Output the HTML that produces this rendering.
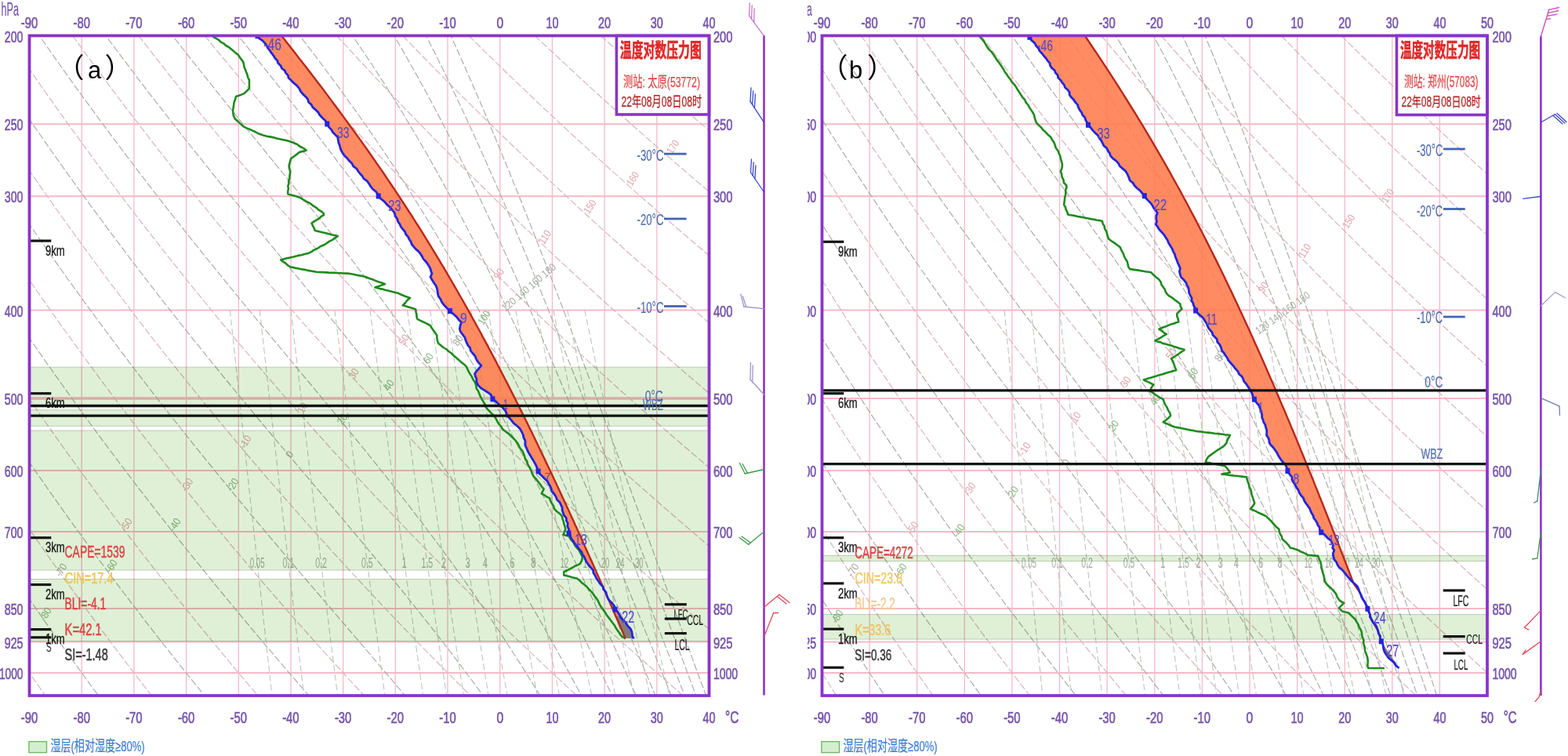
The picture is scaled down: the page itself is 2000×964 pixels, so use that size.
<!DOCTYPE html>
<html><head><meta charset="utf-8"><title>T-lnP</title><style>html,body{margin:0;padding:0;background:#fff;overflow:hidden;width:2000px;height:964px;}svg{display:block;}</style></head><body>
<svg width="2000" height="964" viewBox="0 0 2000 964" font-family='"Liberation Sans", "Noto Sans CJK SC", sans-serif'>
<rect width="2000" height="964" fill="#fff"/>
<clipPath id="clipA"><rect x="37.5" y="45.5" width="867.0" height="841.5"/></clipPath>
<g clip-path="url(#clipA)">
<line x1="104.2" y1="45.5" x2="104.2" y2="887.0" stroke="#f5b9c8" stroke-width="1.3"/>
<line x1="170.9" y1="45.5" x2="170.9" y2="887.0" stroke="#f5b9c8" stroke-width="1.3"/>
<line x1="237.6" y1="45.5" x2="237.6" y2="887.0" stroke="#f5b9c8" stroke-width="1.3"/>
<line x1="304.3" y1="45.5" x2="304.3" y2="887.0" stroke="#f5b9c8" stroke-width="1.3"/>
<line x1="371.0" y1="45.5" x2="371.0" y2="887.0" stroke="#f5b9c8" stroke-width="1.3"/>
<line x1="437.7" y1="45.5" x2="437.7" y2="887.0" stroke="#f5b9c8" stroke-width="1.3"/>
<line x1="504.3" y1="45.5" x2="504.3" y2="887.0" stroke="#f5b9c8" stroke-width="1.3"/>
<line x1="571.0" y1="45.5" x2="571.0" y2="887.0" stroke="#f5b9c8" stroke-width="1.3"/>
<line x1="637.7" y1="45.5" x2="637.7" y2="887.0" stroke="#f5b9c8" stroke-width="1.3"/>
<line x1="704.4" y1="45.5" x2="704.4" y2="887.0" stroke="#f5b9c8" stroke-width="1.3"/>
<line x1="771.1" y1="45.5" x2="771.1" y2="887.0" stroke="#f5b9c8" stroke-width="1.3"/>
<line x1="837.8" y1="45.5" x2="837.8" y2="887.0" stroke="#f5b9c8" stroke-width="1.3"/>
<line x1="37.5" y1="158.14" x2="904.5" y2="158.14" stroke="#f5b9c8" stroke-width="2.0"/>
<line x1="37.5" y1="250.18" x2="904.5" y2="250.18" stroke="#f5b9c8" stroke-width="2.0"/>
<line x1="37.5" y1="395.40" x2="904.5" y2="395.40" stroke="#f5b9c8" stroke-width="2.0"/>
<line x1="37.5" y1="508.04" x2="904.5" y2="508.04" stroke="#f5b9c8" stroke-width="3.6"/>
<line x1="37.5" y1="600.08" x2="904.5" y2="600.08" stroke="#f5b9c8" stroke-width="2.0"/>
<line x1="37.5" y1="677.89" x2="904.5" y2="677.89" stroke="#f5b9c8" stroke-width="2.0"/>
<line x1="37.5" y1="775.90" x2="904.5" y2="775.90" stroke="#f5b9c8" stroke-width="2.0"/>
<line x1="37.5" y1="818.59" x2="904.5" y2="818.59" stroke="#f5b9c8" stroke-width="2.0"/>
<line x1="37.5" y1="857.94" x2="904.5" y2="857.94" stroke="#f5b9c8" stroke-width="2.0"/>
<polyline points="-412.7,45.5 -400.4,73.5 -387.9,101.6 -375.1,129.7 -362.2,157.7 -349.0,185.7 -335.7,213.8 -322.1,241.8 -308.3,269.9 -294.3,297.9 -280.0,326.0 -265.6,354.0 -250.9,382.1 -236.0,410.2 -220.8,438.2 -205.4,466.2 -189.7,494.3 -173.8,522.3 -157.6,550.4 -141.2,578.5 -124.5,606.5 -107.6,634.5 -90.3,662.6 -72.8,690.7 -55.1,718.7 -37.0,746.7 -18.6,774.8 0.0,802.9 18.9,830.9 38.2,859.0 57.8,887.0" fill="none" stroke="#dcb4bc" stroke-width="1.2" stroke-dasharray="9,3"/>
<polyline points="-328.5,45.5 -314.8,73.5 -300.9,101.6 -286.8,129.7 -272.4,157.7 -257.8,185.7 -243.0,213.8 -228.0,241.8 -212.7,269.9 -197.1,297.9 -181.3,326.0 -165.3,354.0 -149.0,382.1 -132.4,410.2 -115.6,438.2 -98.5,466.2 -81.1,494.3 -63.5,522.3 -45.6,550.4 -27.3,578.5 -8.8,606.5 10.0,634.5 29.1,662.6 48.5,690.7 68.2,718.7 88.2,746.7 108.6,774.8 129.3,802.9 150.3,830.9 171.7,859.0 193.3,887.0" fill="none" stroke="#dcb4bc" stroke-width="1.2" stroke-dasharray="9,3"/>
<polyline points="-244.3,45.5 -229.3,73.5 -214.0,101.6 -198.5,129.7 -182.7,157.7 -166.7,185.7 -150.4,213.8 -133.8,241.8 -117.0,269.9 -100.0,297.9 -82.6,326.0 -65.0,354.0 -47.1,382.1 -28.9,410.2 -10.4,438.2 8.4,466.2 27.4,494.3 46.8,522.3 66.5,550.4 86.5,578.5 106.9,606.5 127.5,634.5 148.5,662.6 169.8,690.7 191.5,718.7 213.5,746.7 235.9,774.8 258.6,802.9 281.7,830.9 305.1,859.0 328.9,887.0" fill="none" stroke="#dcb4bc" stroke-width="1.2" stroke-dasharray="9,3"/>
<polyline points="-160.1,45.5 -143.7,73.5 -127.0,101.6 -110.1,129.7 -92.9,157.7 -75.5,185.7 -57.8,213.8 -39.7,241.8 -21.4,269.9 -2.8,297.9 16.1,326.0 35.3,354.0 54.8,382.1 74.6,410.2 94.8,438.2 115.2,466.2 136.0,494.3 157.1,522.3 178.6,550.4 200.4,578.5 222.6,606.5 245.1,634.5 267.9,662.6 291.2,690.7 314.8,718.7 338.7,746.7 363.1,774.8 387.9,802.9 413.0,830.9 438.6,859.0 464.5,887.0" fill="none" stroke="#dcb4bc" stroke-width="1.2" stroke-dasharray="9,3"/>
<polyline points="-75.9,45.5 -58.1,73.5 -40.1,101.6 -21.8,129.7 -3.2,157.7 15.7,185.7 34.9,213.8 54.4,241.8 74.2,269.9 94.3,297.9 114.8,326.0 135.6,354.0 156.7,382.1 178.1,410.2 199.9,438.2 222.1,466.2 244.6,494.3 267.4,522.3 290.7,550.4 314.3,578.5 338.2,606.5 362.6,634.5 387.3,662.6 412.5,690.7 438.0,718.7 464.0,746.7 490.4,774.8 517.2,802.9 544.4,830.9 572.0,859.0 600.1,887.0" fill="none" stroke="#dcb4bc" stroke-width="1.2" stroke-dasharray="9,3"/>
<polyline points="8.4,45.5 27.4,73.5 46.8,101.6 66.5,129.7 86.5,157.7 106.9,185.7 127.5,213.8 148.5,241.8 169.8,269.9 191.5,297.9 213.5,326.0 235.9,354.0 258.6,382.1 281.7,410.2 305.1,438.2 328.9,466.2 353.2,494.3 377.8,522.3 402.7,550.4 428.1,578.5 453.9,606.5 480.1,634.5 506.8,662.6 533.8,690.7 561.3,718.7 589.2,746.7 617.6,774.8 646.4,802.9 675.7,830.9 705.5,859.0 735.7,887.0" fill="none" stroke="#dcb4bc" stroke-width="1.2" stroke-dasharray="9,3"/>
<polyline points="92.6,45.5 113.0,73.5 133.8,101.6 154.8,129.7 176.3,157.7 198.0,185.7 220.2,213.8 242.6,241.8 265.5,269.9 288.6,297.9 312.2,326.0 336.2,354.0 360.5,382.1 385.2,410.2 410.3,438.2 435.8,466.2 461.7,494.3 488.1,522.3 514.8,550.4 542.0,578.5 569.6,606.5 597.7,634.5 626.2,662.6 655.2,690.7 684.6,718.7 714.5,746.7 744.9,774.8 775.7,802.9 807.1,830.9 839.0,859.0 871.3,887.0" fill="none" stroke="#dcb4bc" stroke-width="1.2" stroke-dasharray="9,3"/>
<polyline points="176.8,45.5 198.6,73.5 220.7,101.6 243.2,129.7 266.0,157.7 289.2,185.7 312.8,213.8 336.7,241.8 361.1,269.9 385.8,297.9 410.9,326.0 436.4,354.0 462.4,382.1 488.7,410.2 515.5,438.2 542.7,466.2 570.3,494.3 598.4,522.3 626.9,550.4 655.9,578.5 685.3,606.5 715.2,634.5 745.6,662.6 776.5,690.7 807.9,718.7 839.7,746.7 872.1,774.8 905.0,802.9 938.5,830.9 972.4,859.0 1006.9,887.0" fill="none" stroke="#dcb4bc" stroke-width="1.2" stroke-dasharray="9,3"/>
<polyline points="261.0,45.5 284.1,73.5 307.6,101.6 331.5,129.7 355.8,157.7 380.4,185.7 405.4,213.8 430.9,241.8 456.7,269.9 483.0,297.9 509.6,326.0 536.7,354.0 564.3,382.1 592.2,410.2 620.7,438.2 649.5,466.2 678.9,494.3 708.7,522.3 739.0,550.4 769.7,578.5 801.0,606.5 832.8,634.5 865.0,662.6 897.8,690.7 931.1,718.7 965.0,746.7 999.4,774.8 1034.3,802.9 1069.8,830.9 1105.9,859.0 1142.5,887.0" fill="none" stroke="#dcb4bc" stroke-width="1.2" stroke-dasharray="9,3"/>
<polyline points="345.2,45.5 369.7,73.5 394.6,101.6 419.8,129.7 445.5,157.7 471.6,185.7 498.1,213.8 525.0,241.8 552.3,269.9 580.1,297.9 608.3,326.0 637.0,354.0 666.2,382.1 695.8,410.2 725.8,438.2 756.4,466.2 787.5,494.3 819.0,522.3 851.0,550.4 883.6,578.5 916.7,606.5 950.3,634.5 984.5,662.6 1019.2,690.7 1054.4,718.7 1090.2,746.7 1126.6,774.8 1163.6,802.9 1201.2,830.9 1239.3,859.0 1278.1,887.0" fill="none" stroke="#dcb4bc" stroke-width="1.2" stroke-dasharray="9,3"/>
<polyline points="429.5,45.5 455.3,73.5 481.5,101.6 508.2,129.7 535.2,157.7 562.7,185.7 590.7,213.8 619.1,241.8 647.9,269.9 677.3,297.9 707.0,326.0 737.3,354.0 768.0,382.1 799.3,410.2 831.0,438.2 863.3,466.2 896.0,494.3 929.3,522.3 963.1,550.4 997.5,578.5 1032.4,606.5 1067.9,634.5 1103.9,662.6 1140.5,690.7 1177.7,718.7 1215.5,746.7 1253.9,774.8 1292.9,802.9 1332.5,830.9 1372.8,859.0 1413.7,887.0" fill="none" stroke="#dcb4bc" stroke-width="1.2" stroke-dasharray="9,3"/>
<polyline points="513.7,45.5 540.8,73.5 568.4,101.6 596.5,129.7 625.0,157.7 653.9,185.7 683.3,213.8 713.2,241.8 743.6,269.9 774.4,297.9 805.8,326.0 837.6,354.0 869.9,382.1 902.8,410.2 936.2,438.2 970.1,466.2 1004.6,494.3 1039.6,522.3 1075.2,550.4 1111.4,578.5 1148.1,606.5 1185.4,634.5 1223.3,662.6 1261.8,690.7 1301.0,718.7 1340.7,746.7 1381.1,774.8 1422.2,802.9 1463.9,830.9 1506.3,859.0 1549.3,887.0" fill="none" stroke="#dcb4bc" stroke-width="1.2" stroke-dasharray="9,3"/>
<polyline points="597.9,45.5 626.4,73.5 655.4,101.6 684.8,129.7 714.7,157.7 745.1,185.7 776.0,213.8 807.3,241.8 839.2,269.9 871.6,297.9 904.5,326.0 937.9,354.0 971.8,382.1 1006.3,410.2 1041.4,438.2 1077.0,466.2 1113.2,494.3 1149.9,522.3 1187.3,550.4 1225.2,578.5 1263.8,606.5 1302.9,634.5 1342.7,662.6 1383.2,690.7 1424.3,718.7 1466.0,746.7 1508.4,774.8 1551.5,802.9 1595.2,830.9 1639.7,859.0 1684.9,887.0" fill="none" stroke="#dcb4bc" stroke-width="1.2" stroke-dasharray="9,3"/>
<polyline points="682.1,45.5 712.0,73.5 742.3,101.6 773.1,129.7 804.5,157.7 836.3,185.7 868.6,213.8 901.4,241.8 934.8,269.9 968.7,297.9 1003.2,326.0 1038.2,354.0 1073.7,382.1 1109.9,410.2 1146.6,438.2 1183.9,466.2 1221.7,494.3 1260.2,522.3 1299.4,550.4 1339.1,578.5 1379.5,606.5 1420.5,634.5 1462.2,662.6 1504.5,690.7 1547.5,718.7 1591.2,746.7 1635.6,774.8 1680.8,802.9 1726.6,830.9 1773.2,859.0 1820.5,887.0" fill="none" stroke="#dcb4bc" stroke-width="1.2" stroke-dasharray="9,3"/>
<polyline points="766.3,45.5 797.5,73.5 829.2,101.6 861.5,129.7 894.2,157.7 927.5,185.7 961.2,213.8 995.6,241.8 1030.4,269.9 1065.9,297.9 1101.9,326.0 1138.5,354.0 1175.6,382.1 1213.4,410.2 1251.7,438.2 1290.7,466.2 1330.3,494.3 1370.6,522.3 1411.4,550.4 1453.0,578.5 1495.2,606.5 1538.0,634.5 1581.6,662.6 1625.8,690.7 1670.8,718.7 1716.5,746.7 1762.9,774.8 1810.1,802.9 1858.0,830.9 1906.6,859.0 1956.1,887.0" fill="none" stroke="#dcb4bc" stroke-width="1.2" stroke-dasharray="9,3"/>
<polyline points="850.6,45.5 883.1,73.5 916.2,101.6 949.8,129.7 983.9,157.7 1018.6,185.7 1053.9,213.8 1089.7,241.8 1126.1,269.9 1163.0,297.9 1200.6,326.0 1238.7,354.0 1277.5,382.1 1316.9,410.2 1356.9,438.2 1397.6,466.2 1438.9,494.3 1480.9,522.3 1523.5,550.4 1566.8,578.5 1610.8,606.5 1655.6,634.5 1701.0,662.6 1747.2,690.7 1794.1,718.7 1841.7,746.7 1890.2,774.8 1939.3,802.9 1989.3,830.9 2040.1,859.0 2091.7,887.0" fill="none" stroke="#dcb4bc" stroke-width="1.2" stroke-dasharray="9,3"/>
<polyline points="-376.8,30.1 -367.5,50.5 -358.4,70.1 -349.6,89.0 -341.0,107.2 -332.6,124.8 -324.4,141.7 -316.4,158.1 -308.6,174.0 -300.9,189.5 -293.5,204.4 -286.1,218.9 -278.9,233.1 -271.9,246.8 -265.0,260.2 -258.2,273.2 -251.5,285.9 -245.0,298.3 -238.6,310.4 -232.2,322.2 -226.0,333.7 -219.9,345.0 -213.9,356.0 -207.9,366.8 -202.1,377.4 -196.3,387.8 -190.7,397.9 -185.1,407.9 -179.6,417.6 -174.1,427.2 -168.7,436.6 -163.4,445.8 -158.2,454.9 -153.0,463.8 -147.9,472.5 -142.9,481.1 -137.9,489.5 -133.0,497.8 -128.1,506.0 -123.3,514.1 -118.6,522.0 -113.9,529.8 -109.2,537.5 -104.6,545.0 -100.1,552.5 -95.6,559.8 -91.1,567.1 -86.7,574.2 -82.3,581.2 -78.0,588.2 -73.7,595.0 -69.5,601.8 -65.2,608.4 -61.1,615.0 -57.0,621.5 -52.9,627.9 -48.8,634.2 -44.8,640.5 -40.8,646.7 -36.9,652.8 -33.0,658.8 -29.1,664.7 -25.2,670.6 -21.4,676.5 -17.6,682.2 -13.9,687.9 -10.1,693.5 -6.4,699.1 -2.8,704.6 0.9,710.0 4.5,715.4 8.1,720.7 11.6,726.0 15.1,731.2 18.7,736.4 22.1,741.5 25.6,746.6 29.0,751.6 32.4,756.5 35.8,761.4 39.2,766.3 42.5,771.1 45.8,775.9 49.1,780.6 52.4,785.3 55.6,790.0 58.8,794.6 62.1,799.1 65.2,803.6 68.4,808.1 71.6,812.6 74.7,816.9 77.8,821.3 80.9,825.6 83.9,829.9 87.0,834.2 90.0,838.4 93.0,842.6 96.0,846.7 99.0,850.8 102.0,854.9 104.9,859.0 107.8,863.0 110.8,866.9 113.7,870.9 116.5,874.8 119.4,878.7 122.3,882.6 125.1,886.4 127.9,890.2" fill="none" stroke="#a9b0a6" stroke-width="1.2" stroke-dasharray="9,3"/>
<polyline points="-293.3,30.1 -283.0,50.5 -272.9,70.1 -263.2,89.0 -253.7,107.2 -244.5,124.8 -235.4,141.7 -226.6,158.1 -218.0,174.0 -209.5,189.5 -201.3,204.4 -193.2,218.9 -185.3,233.1 -177.5,246.8 -169.9,260.2 -162.4,273.2 -155.0,285.9 -147.8,298.3 -140.7,310.4 -133.7,322.2 -126.9,333.7 -120.1,345.0 -113.5,356.0 -106.9,366.8 -100.5,377.4 -94.1,387.8 -87.8,397.9 -81.7,407.9 -75.6,417.6 -69.6,427.2 -63.6,436.6 -57.8,445.8 -52.0,454.9 -46.3,463.8 -40.7,472.5 -35.1,481.1 -29.6,489.5 -24.2,497.8 -18.8,506.0 -13.5,514.1 -8.3,522.0 -3.1,529.8 2.0,537.5 7.1,545.0 12.1,552.5 17.1,559.8 22.0,567.1 26.9,574.2 31.7,581.2 36.5,588.2 41.2,595.0 45.9,601.8 50.6,608.4 55.2,615.0 59.7,621.5 64.2,627.9 68.7,634.2 73.1,640.5 77.5,646.7 81.9,652.8 86.2,658.8 90.5,664.7 94.7,670.6 98.9,676.5 103.1,682.2 107.3,687.9 111.4,693.5 115.4,699.1 119.5,704.6 123.5,710.0 127.5,715.4 131.4,720.7 135.4,726.0 139.3,731.2 143.1,736.4 147.0,741.5 150.8,746.6 154.5,751.6 158.3,756.5 162.0,761.4 165.7,766.3 169.4,771.1 173.1,775.9 176.7,780.6 180.3,785.3 183.9,790.0 187.4,794.6 191.0,799.1 194.5,803.6 198.0,808.1 201.4,812.6 204.9,816.9 208.3,821.3 211.7,825.6 215.1,829.9 218.4,834.2 221.8,838.4 225.1,842.6 228.4,846.7 231.7,850.8 234.9,854.9 238.2,859.0 241.4,863.0 244.6,866.9 247.8,870.9 251.0,874.8 254.1,878.7 257.2,882.6 260.4,886.4 263.5,890.2" fill="none" stroke="#a9b0a6" stroke-width="1.2" stroke-dasharray="9,3"/>
<polyline points="-209.8,30.1 -198.6,50.5 -187.6,70.1 -176.9,89.0 -166.6,107.2 -156.4,124.8 -146.6,141.7 -136.9,158.1 -127.5,174.0 -118.2,189.5 -109.2,204.4 -100.4,218.9 -91.7,233.1 -83.2,246.8 -74.8,260.2 -66.7,273.2 -58.6,285.9 -50.7,298.3 -43.0,310.4 -35.3,322.2 -27.8,333.7 -20.4,345.0 -13.2,356.0 -6.0,366.8 1.0,377.4 8.0,387.8 14.8,397.9 21.6,407.9 28.3,417.6 34.8,427.2 41.3,436.6 47.7,445.8 54.0,454.9 60.2,463.8 66.4,472.5 72.5,481.1 78.5,489.5 84.4,497.8 90.3,506.0 96.1,514.1 101.8,522.0 107.5,529.8 113.1,537.5 118.7,545.0 124.2,552.5 129.6,559.8 135.0,567.1 140.3,574.2 145.6,581.2 150.8,588.2 156.0,595.0 161.1,601.8 166.1,608.4 171.2,615.0 176.1,621.5 181.1,627.9 186.0,634.2 190.8,640.5 195.6,646.7 200.3,652.8 205.1,658.8 209.7,664.7 214.4,670.6 218.9,676.5 223.5,682.2 228.0,687.9 232.5,693.5 236.9,699.1 241.3,704.6 245.7,710.0 250.1,715.4 254.4,720.7 258.6,726.0 262.9,731.2 267.1,736.4 271.2,741.5 275.4,746.6 279.5,751.6 283.6,756.5 287.6,761.4 291.6,766.3 295.6,771.1 299.6,775.9 303.5,780.6 307.4,785.3 311.3,790.0 315.1,794.6 318.9,799.1 322.7,803.6 326.5,808.1 330.2,812.6 333.9,816.9 337.6,821.3 341.3,825.6 344.9,829.9 348.5,834.2 352.1,838.4 355.7,842.6 359.2,846.7 362.7,850.8 366.2,854.9 369.7,859.0 373.2,863.0 376.6,866.9 380.0,870.9 383.4,874.8 386.7,878.7 390.1,882.6 393.4,886.4 396.7,890.2" fill="none" stroke="#a9b0a6" stroke-width="1.2" stroke-dasharray="9,3"/>
<polyline points="-126.7,30.1 -114.5,50.5 -102.6,70.1 -91.0,89.0 -79.7,107.2 -68.7,124.8 -58.0,141.7 -47.5,158.1 -37.3,174.0 -27.3,189.5 -17.5,204.4 -7.9,218.9 1.5,233.1 10.8,246.8 19.8,260.2 28.7,273.2 37.4,285.9 46.0,298.3 54.4,310.4 62.7,322.2 70.8,333.7 78.8,345.0 86.7,356.0 94.5,366.8 102.2,377.4 109.7,387.8 117.1,397.9 124.4,407.9 131.7,417.6 138.8,427.2 145.8,436.6 152.7,445.8 159.6,454.9 166.3,463.8 173.0,472.5 179.6,481.1 186.1,489.5 192.5,497.8 198.9,506.0 205.2,514.1 211.4,522.0 217.5,529.8 223.6,537.5 229.6,545.0 235.5,552.5 241.4,559.8 247.2,567.1 252.9,574.2 258.6,581.2 264.2,588.2 269.8,595.0 275.3,601.8 280.8,608.4 286.2,615.0 291.5,621.5 296.8,627.9 302.0,634.2 307.2,640.5 312.3,646.7 317.4,652.8 322.5,658.8 327.4,664.7 332.4,670.6 337.3,676.5 342.1,682.2 346.9,687.9 351.7,693.5 356.4,699.1 361.0,704.6 365.7,710.0 370.2,715.4 374.8,720.7 379.3,726.0 383.7,731.2 388.1,736.4 392.5,741.5 396.8,746.6 401.1,751.6 405.4,756.5 409.6,761.4 413.7,766.3 417.9,771.1 422.0,775.9 426.0,780.6 430.0,785.3 434.0,790.0 438.0,794.6 441.9,799.1 445.7,803.6 449.6,808.1 453.4,812.6 457.2,816.9 460.9,821.3 464.6,825.6 468.2,829.9 471.9,834.2 475.5,838.4 479.0,842.6 482.6,846.7 486.1,850.8 489.5,854.9 493.0,859.0 496.4,863.0 499.8,866.9 503.1,870.9 506.4,874.8 509.7,878.7 513.0,882.6 516.2,886.4 519.4,890.2" fill="none" stroke="#a9b0a6" stroke-width="1.2" stroke-dasharray="9,3"/>
<polyline points="-43.8,30.1 -30.6,50.5 -17.8,70.1 -5.3,89.0 6.9,107.2 18.7,124.8 30.3,141.7 41.6,158.1 52.6,174.0 63.4,189.5 74.0,204.4 84.3,218.9 94.5,233.1 104.4,246.8 114.2,260.2 123.8,273.2 133.2,285.9 142.4,298.3 151.5,310.4 160.4,322.2 169.1,333.7 177.8,345.0 186.2,356.0 194.6,366.8 202.8,377.4 210.9,387.8 218.9,397.9 226.7,407.9 234.5,417.6 242.1,427.2 249.6,436.6 257.1,445.8 264.4,454.9 271.6,463.8 278.7,472.5 285.7,481.1 292.6,489.5 299.5,497.8 306.2,506.0 312.9,514.1 319.4,522.0 325.9,529.8 332.3,537.5 338.6,545.0 344.9,552.5 351.0,559.8 357.1,567.1 363.1,574.2 369.0,581.2 374.9,588.2 380.6,595.0 386.3,601.8 392.0,608.4 397.5,615.0 403.0,621.5 408.4,627.9 413.8,634.2 419.0,640.5 424.3,646.7 429.4,652.8 434.5,658.8 439.5,664.7 444.4,670.6 449.3,676.5 454.1,682.2 458.9,687.9 463.6,693.5 468.2,699.1 472.8,704.6 477.3,710.0 481.8,715.4 486.2,720.7 490.6,726.0 494.9,731.2 499.1,736.4 503.3,741.5 507.4,746.6 511.5,751.6 515.5,756.5 519.5,761.4 523.4,766.3 527.3,771.1 531.1,775.9 534.9,780.6 538.6,785.3 542.3,790.0 545.9,794.6 549.5,799.1 553.1,803.6 556.6,808.1 560.0,812.6 563.5,816.9 566.8,821.3 570.2,825.6 573.5,829.9 576.7,834.2 579.9,838.4 583.1,842.6 586.2,846.7 589.3,850.8 592.4,854.9 595.4,859.0 598.4,863.0 601.4,866.9 604.3,870.9 607.2,874.8 610.1,878.7 612.9,882.6 615.7,886.4 618.5,890.2" fill="none" stroke="#a9b0a6" stroke-width="1.2" stroke-dasharray="9,3"/>
<polyline points="39.5,30.1 53.7,50.5 67.4,70.1 80.8,89.0 93.8,107.2 106.6,124.8 119.0,141.7 131.1,158.1 142.9,174.0 154.5,189.5 165.8,204.4 176.8,218.9 187.7,233.1 198.3,246.8 208.7,260.2 218.9,273.2 229.0,285.9 238.8,298.3 248.4,310.4 257.9,322.2 267.2,333.7 276.3,345.0 285.3,356.0 294.1,366.8 302.8,377.4 311.3,387.8 319.6,397.9 327.8,407.9 335.9,417.6 343.9,427.2 351.7,436.6 359.3,445.8 366.9,454.9 374.3,463.8 381.5,472.5 388.7,481.1 395.7,489.5 402.6,497.8 409.4,506.0 416.1,514.1 422.7,522.0 429.1,529.8 435.4,537.5 441.7,545.0 447.8,552.5 453.8,559.8 459.7,567.1 465.5,574.2 471.2,581.2 476.8,588.2 482.3,595.0 487.7,601.8 493.0,608.4 498.2,615.0 503.3,621.5 508.4,627.9 513.3,634.2 518.2,640.5 523.0,646.7 527.7,652.8 532.3,658.8 536.9,664.7 541.3,670.6 545.7,676.5 550.0,682.2 554.3,687.9 558.5,693.5 562.6,699.1 566.6,704.6 570.6,710.0 574.5,715.4 578.4,720.7 582.2,726.0 585.9,731.2 589.6,736.4 593.2,741.5 596.8,746.6 600.3,751.6 603.8,756.5 607.2,761.4 610.5,766.3 613.9,771.1 617.1,775.9 620.3,780.6 623.5,785.3 626.7,790.0 629.7,794.6 632.8,799.1 635.8,803.6 638.8,808.1 641.7,812.6 644.6,816.9 647.4,821.3 650.2,825.6 653.0,829.9 655.7,834.2 658.4,838.4 661.1,842.6 663.8,846.7 666.4,850.8 668.9,854.9 671.5,859.0 674.0,863.0 676.5,866.9 679.0,870.9 681.4,874.8 683.8,878.7 686.2,882.6 688.6,886.4 690.9,890.2" fill="none" stroke="#a9b0a6" stroke-width="1.2" stroke-dasharray="9,3"/>
<polyline points="123.6,30.1 138.6,50.5 153.3,70.1 167.6,89.0 181.4,107.2 195.0,124.8 208.1,141.7 221.0,158.1 233.5,174.0 245.7,189.5 257.7,204.4 269.3,218.9 280.7,233.1 291.9,246.8 302.8,260.2 313.4,273.2 323.8,285.9 333.9,298.3 343.9,310.4 353.6,322.2 363.0,333.7 372.3,345.0 381.4,356.0 390.2,366.8 398.9,377.4 407.3,387.8 415.6,397.9 423.6,407.9 431.5,417.6 439.2,427.2 446.7,436.6 454.0,445.8 461.2,454.9 468.2,463.8 475.0,472.5 481.7,481.1 488.2,489.5 494.6,497.8 500.8,506.0 506.9,514.1 512.8,522.0 518.6,529.8 524.3,537.5 529.9,545.0 535.3,552.5 540.6,559.8 545.8,567.1 550.9,574.2 555.9,581.2 560.8,588.2 565.5,595.0 570.2,601.8 574.8,608.4 579.3,615.0 583.7,621.5 588.0,627.9 592.2,634.2 596.4,640.5 600.5,646.7 604.5,652.8 608.4,658.8 612.2,664.7 616.0,670.6 619.8,676.5 623.4,682.2 627.0,687.9 630.5,693.5 634.0,699.1 637.4,704.6 640.8,710.0 644.1,715.4 647.3,720.7 650.5,726.0 653.7,731.2 656.8,736.4 659.9,741.5 662.9,746.6 665.8,751.6 668.8,756.5 671.7,761.4 674.5,766.3 677.3,771.1 680.1,775.9 682.8,780.6 685.5,785.3 688.1,790.0 690.8,794.6 693.4,799.1 695.9,803.6 698.4,808.1 700.9,812.6 703.4,816.9 705.8,821.3 708.2,825.6 710.6,829.9 712.9,834.2 715.3,838.4 717.5,842.6 719.8,846.7 722.0,850.8 724.3,854.9 726.5,859.0 728.6,863.0 730.8,866.9 732.9,870.9 735.0,874.8 737.1,878.7 739.2,882.6 741.2,886.4 743.2,890.2" fill="none" stroke="#a9b0a6" stroke-width="1.2" stroke-dasharray="9,3"/>
<polyline points="208.0,30.1 224.0,50.5 239.4,70.1 254.4,89.0 268.9,107.2 283.0,124.8 296.7,141.7 309.9,158.1 322.8,174.0 335.3,189.5 347.5,204.4 359.3,218.9 370.7,233.1 381.8,246.8 392.5,260.2 402.9,273.2 413.0,285.9 422.8,298.3 432.3,310.4 441.6,322.2 450.5,333.7 459.1,345.0 467.5,356.0 475.7,366.8 483.5,377.4 491.2,387.8 498.6,397.9 505.8,407.9 512.8,417.6 519.6,427.2 526.2,436.6 532.7,445.8 538.9,454.9 545.0,463.8 550.9,472.5 556.6,481.1 562.2,489.5 567.7,497.8 573.0,506.0 578.2,514.1 583.3,522.0 588.2,529.8 593.0,537.5 597.7,545.0 602.3,552.5 606.8,559.8 611.2,567.1 615.5,574.2 619.8,581.2 623.9,588.2 627.9,595.0 631.9,601.8 635.8,608.4 639.6,615.0 643.3,621.5 647.0,627.9 650.6,634.2 654.1,640.5 657.6,646.7 661.0,652.8 664.3,658.8 667.6,664.7 670.9,670.6 674.1,676.5 677.2,682.2 680.3,687.9 683.3,693.5 686.3,699.1 689.2,704.6 692.1,710.0 695.0,715.4 697.8,720.7 700.6,726.0 703.3,731.2 706.0,736.4 708.6,741.5 711.3,746.6 713.8,751.6 716.4,756.5 718.9,761.4 721.4,766.3 723.9,771.1 726.3,775.9 728.7,780.6 731.0,785.3 733.4,790.0 735.7,794.6 737.9,799.1 740.2,803.6 742.4,808.1 744.6,812.6 746.8,816.9 749.0,821.3 751.1,825.6 753.2,829.9 755.3,834.2 757.3,838.4 759.4,842.6 761.4,846.7 763.4,850.8 765.4,854.9 767.3,859.0 769.3,863.0 771.2,866.9 773.1,870.9 775.0,874.8 776.8,878.7 778.7,882.6 780.5,886.4 782.3,890.2" fill="none" stroke="#a9b0a6" stroke-width="1.2" stroke-dasharray="9,3"/>
<polyline points="291.6,30.1 307.9,50.5 323.6,70.1 338.8,89.0 353.3,107.2 367.3,124.8 380.7,141.7 393.7,158.1 406.1,174.0 418.0,189.5 429.4,204.4 440.4,218.9 451.0,233.1 461.1,246.8 470.9,260.2 480.3,273.2 489.3,285.9 497.9,298.3 506.3,310.4 514.4,322.2 522.1,333.7 529.6,345.0 536.9,356.0 543.8,366.8 550.6,377.4 557.1,387.8 563.5,397.9 569.6,407.9 575.6,417.6 581.4,427.2 587.0,436.6 592.4,445.8 597.7,454.9 602.9,463.8 607.9,472.5 612.8,481.1 617.6,489.5 622.2,497.8 626.8,506.0 631.2,514.1 635.5,522.0 639.8,529.8 643.9,537.5 648.0,545.0 651.9,552.5 655.8,559.8 659.6,567.1 663.3,574.2 667.0,581.2 670.6,588.2 674.1,595.0 677.5,601.8 680.9,608.4 684.2,615.0 687.5,621.5 690.7,627.9 693.9,634.2 697.0,640.5 700.0,646.7 703.0,652.8 706.0,658.8 708.9,664.7 711.7,670.6 714.6,676.5 717.3,682.2 720.1,687.9 722.8,693.5 725.4,699.1 728.1,704.6 730.6,710.0 733.2,715.4 735.7,720.7 738.2,726.0 740.6,731.2 743.1,736.4 745.5,741.5 747.8,746.6 750.1,751.6 752.4,756.5 754.7,761.4 757.0,766.3 759.2,771.1 761.4,775.9 763.6,780.6 765.7,785.3 767.8,790.0 769.9,794.6 772.0,799.1 774.0,803.6 776.1,808.1 778.1,812.6 780.1,816.9 782.0,821.3 784.0,825.6 785.9,829.9 787.8,834.2 789.7,838.4 791.6,842.6 793.4,846.7 795.3,850.8 797.1,854.9 798.9,859.0 800.7,863.0 802.5,866.9 804.2,870.9 806.0,874.8 807.7,878.7 809.4,882.6 811.1,886.4 812.8,890.2" fill="none" stroke="#a9b0a6" stroke-width="1.2" stroke-dasharray="9,3"/>
<polyline points="370.5,30.1 386.2,50.5 401.2,70.1 415.4,89.0 428.9,107.2 441.7,124.8 453.9,141.7 465.5,158.1 476.5,174.0 487.0,189.5 497.1,204.4 506.6,218.9 515.7,233.1 524.5,246.8 532.9,260.2 540.9,273.2 548.6,285.9 556.0,298.3 563.1,310.4 570.0,322.2 576.6,333.7 583.0,345.0 589.2,356.0 595.2,366.8 601.0,377.4 606.6,387.8 612.0,397.9 617.3,407.9 622.4,417.6 627.4,427.2 632.3,436.6 637.0,445.8 641.6,454.9 646.1,463.8 650.5,472.5 654.8,481.1 659.0,489.5 663.0,497.8 667.0,506.0 670.9,514.1 674.8,522.0 678.5,529.8 682.2,537.5 685.8,545.0 689.3,552.5 692.8,559.8 696.2,567.1 699.5,574.2 702.8,581.2 706.0,588.2 709.1,595.0 712.2,601.8 715.3,608.4 718.3,615.0 721.2,621.5 724.1,627.9 727.0,634.2 729.8,640.5 732.6,646.7 735.3,652.8 738.0,658.8 740.7,664.7 743.3,670.6 745.8,676.5 748.4,682.2 750.9,687.9 753.4,693.5 755.8,699.1 758.2,704.6 760.6,710.0 762.9,715.4 765.3,720.7 767.6,726.0 769.8,731.2 772.1,736.4 774.3,741.5 776.4,746.6 778.6,751.6 780.7,756.5 782.8,761.4 784.9,766.3 787.0,771.1 789.0,775.9 791.1,780.6 793.1,785.3 795.0,790.0 797.0,794.6 798.9,799.1 800.8,803.6 802.7,808.1 804.6,812.6 806.5,816.9 808.3,821.3 810.1,825.6 812.0,829.9 813.7,834.2 815.5,838.4 817.3,842.6 819.0,846.7 820.7,850.8 822.5,854.9 824.2,859.0 825.8,863.0 827.5,866.9 829.2,870.9 830.8,874.8 832.4,878.7 834.0,882.6 835.6,886.4 837.2,890.2" fill="none" stroke="#a9b0a6" stroke-width="1.2" stroke-dasharray="9,3"/>
<polyline points="438.9,30.1 453.0,50.5 466.2,70.1 478.7,89.0 490.5,107.2 501.6,124.8 512.1,141.7 522.0,158.1 531.5,174.0 540.5,189.5 549.0,204.4 557.2,218.9 565.0,233.1 572.5,246.8 579.7,260.2 586.6,273.2 593.3,285.9 599.7,298.3 605.9,310.4 611.9,322.2 617.6,333.7 623.2,345.0 628.7,356.0 633.9,366.8 639.0,377.4 644.0,387.8 648.8,397.9 653.5,407.9 658.0,417.6 662.5,427.2 666.8,436.6 671.1,445.8 675.2,454.9 679.2,463.8 683.2,472.5 687.0,481.1 690.8,489.5 694.5,497.8 698.1,506.0 701.7,514.1 705.2,522.0 708.6,529.8 711.9,537.5 715.2,545.0 718.5,552.5 721.6,559.8 724.7,567.1 727.8,574.2 730.8,581.2 733.8,588.2 736.7,595.0 739.6,601.8 742.4,608.4 745.2,615.0 747.9,621.5 750.6,627.9 753.2,634.2 755.9,640.5 758.4,646.7 761.0,652.8 763.5,658.8 766.0,664.7 768.4,670.6 770.8,676.5 773.2,682.2 775.6,687.9 777.9,693.5 780.2,699.1 782.4,704.6 784.7,710.0 786.9,715.4 789.1,720.7 791.2,726.0 793.3,731.2 795.4,736.4 797.5,741.5 799.6,746.6 801.6,751.6 803.6,756.5 805.6,761.4 807.6,766.3 809.6,771.1 811.5,775.9 813.4,780.6 815.3,785.3 817.2,790.0 819.0,794.6 820.9,799.1 822.7,803.6 824.5,808.1 826.3,812.6 828.1,816.9 829.8,821.3 831.6,825.6 833.3,829.9 835.0,834.2 836.7,838.4 838.3,842.6 840.0,846.7 841.7,850.8 843.3,854.9 844.9,859.0 846.5,863.0 848.1,866.9 849.7,870.9 851.3,874.8 852.8,878.7 854.4,882.6 855.9,886.4 857.4,890.2" fill="none" stroke="#a9b0a6" stroke-width="1.2" stroke-dasharray="9,3"/>
<polyline points="493.5,30.1 505.6,50.5 517.0,70.1 527.7,89.0 537.8,107.2 547.4,124.8 556.4,141.7 565.0,158.1 573.2,174.0 581.0,189.5 588.5,204.4 595.7,218.9 602.5,233.1 609.1,246.8 615.5,260.2 621.6,273.2 627.5,285.9 633.2,298.3 638.7,310.4 644.1,322.2 649.3,333.7 654.3,345.0 659.2,356.0 664.0,366.8 668.6,377.4 673.1,387.8 677.5,397.9 681.8,407.9 685.9,417.6 690.0,427.2 694.0,436.6 697.9,445.8 701.7,454.9 705.4,463.8 709.1,472.5 712.7,481.1 716.2,489.5 719.6,497.8 723.0,506.0 726.3,514.1 729.5,522.0 732.7,529.8 735.8,537.5 738.9,545.0 741.9,552.5 744.9,559.8 747.8,567.1 750.7,574.2 753.5,581.2 756.3,588.2 759.0,595.0 761.7,601.8 764.4,608.4 767.0,615.0 769.6,621.5 772.2,627.9 774.7,634.2 777.1,640.5 779.6,646.7 782.0,652.8 784.4,658.8 786.7,664.7 789.1,670.6 791.3,676.5 793.6,682.2 795.8,687.9 798.0,693.5 800.2,699.1 802.4,704.6 804.5,710.0 806.6,715.4 808.7,720.7 810.8,726.0 812.8,731.2 814.8,736.4 816.8,741.5 818.8,746.6 820.7,751.6 822.7,756.5 824.6,761.4 826.5,766.3 828.3,771.1 830.2,775.9 832.0,780.6 833.9,785.3 835.7,790.0 837.4,794.6 839.2,799.1 841.0,803.6 842.7,808.1 844.4,812.6 846.1,816.9 847.8,821.3 849.5,825.6 851.1,829.9 852.8,834.2 854.4,838.4 856.0,842.6 857.6,846.7 859.2,850.8 860.8,854.9 862.4,859.0 863.9,863.0 865.5,866.9 867.0,870.9 868.5,874.8 870.0,878.7 871.5,882.6 873.0,886.4 874.4,890.2" fill="none" stroke="#a9b0a6" stroke-width="1.2" stroke-dasharray="9,3"/>
<polyline points="535.4,30.1 546.0,50.5 555.9,70.1 565.2,89.0 574.1,107.2 582.5,124.8 590.5,141.7 598.1,158.1 605.4,174.0 612.4,189.5 619.1,204.4 625.5,218.9 631.7,233.1 637.7,246.8 643.5,260.2 649.1,273.2 654.5,285.9 659.7,298.3 664.8,310.4 669.7,322.2 674.5,333.7 679.1,345.0 683.6,356.0 688.0,366.8 692.3,377.4 696.5,387.8 700.6,397.9 704.6,407.9 708.5,417.6 712.3,427.2 716.0,436.6 719.7,445.8 723.3,454.9 726.8,463.8 730.2,472.5 733.6,481.1 736.9,489.5 740.1,497.8 743.3,506.0 746.4,514.1 749.5,522.0 752.5,529.8 755.5,537.5 758.4,545.0 761.3,552.5 764.1,559.8 766.9,567.1 769.6,574.2 772.3,581.2 775.0,588.2 777.6,595.0 780.2,601.8 782.7,608.4 785.2,615.0 787.7,621.5 790.2,627.9 792.6,634.2 794.9,640.5 797.3,646.7 799.6,652.8 801.9,658.8 804.1,664.7 806.4,670.6 808.6,676.5 810.7,682.2 812.9,687.9 815.0,693.5 817.1,699.1 819.2,704.6 821.3,710.0 823.3,715.4 825.3,720.7 827.3,726.0 829.2,731.2 831.2,736.4 833.1,741.5 835.0,746.6 836.9,751.6 838.8,756.5 840.6,761.4 842.5,766.3 844.3,771.1 846.1,775.9 847.8,780.6 849.6,785.3 851.4,790.0 853.1,794.6 854.8,799.1 856.5,803.6 858.2,808.1 859.8,812.6 861.5,816.9 863.1,821.3 864.8,825.6 866.4,829.9 868.0,834.2 869.5,838.4 871.1,842.6 872.7,846.7 874.2,850.8 875.8,854.9 877.3,859.0 878.8,863.0 880.3,866.9 881.8,870.9 883.3,874.8 884.7,878.7 886.2,882.6 887.6,886.4 889.0,890.2" fill="none" stroke="#a9b0a6" stroke-width="1.2" stroke-dasharray="9,3"/>
<polyline points="567.9,30.1 577.3,50.5 586.1,70.1 594.5,89.0 602.5,107.2 610.1,124.8 617.4,141.7 624.3,158.1 631.0,174.0 637.4,189.5 643.5,204.4 649.5,218.9 655.2,233.1 660.7,246.8 666.1,260.2 671.3,273.2 676.3,285.9 681.2,298.3 685.9,310.4 690.5,322.2 695.0,333.7 699.4,345.0 703.7,356.0 707.8,366.8 711.9,377.4 715.8,387.8 719.7,397.9 723.5,407.9 727.2,417.6 730.8,427.2 734.4,436.6 737.8,445.8 741.2,454.9 744.6,463.8 747.9,472.5 751.1,481.1 754.2,489.5 757.3,497.8 760.4,506.0 763.4,514.1 766.3,522.0 769.2,529.8 772.1,537.5 774.9,545.0 777.6,552.5 780.4,559.8 783.0,567.1 785.7,574.2 788.3,581.2 790.8,588.2 793.4,595.0 795.8,601.8 798.3,608.4 800.7,615.0 803.1,621.5 805.5,627.9 807.8,634.2 810.1,640.5 812.4,646.7 814.6,652.8 816.8,658.8 819.0,664.7 821.2,670.6 823.3,676.5 825.4,682.2 827.5,687.9 829.6,693.5 831.6,699.1 833.6,704.6 835.6,710.0 837.6,715.4 839.5,720.7 841.5,726.0 843.4,731.2 845.3,736.4 847.1,741.5 849.0,746.6 850.8,751.6 852.7,756.5 854.5,761.4 856.2,766.3 858.0,771.1 859.8,775.9 861.5,780.6 863.2,785.3 864.9,790.0 866.6,794.6 868.3,799.1 869.9,803.6 871.6,808.1 873.2,812.6 874.8,816.9 876.4,821.3 878.0,825.6 879.6,829.9 881.1,834.2 882.7,838.4 884.2,842.6 885.7,846.7 887.2,850.8 888.7,854.9 890.2,859.0 891.7,863.0 893.2,866.9 894.6,870.9 896.1,874.8 897.5,878.7 898.9,882.6 900.3,886.4 901.7,890.2" fill="none" stroke="#a9b0a6" stroke-width="1.2" stroke-dasharray="9,3"/>
<polyline points="293.4,395.4 294.9,410.2 297.9,438.2 300.9,466.2 303.9,494.3 306.9,522.3 309.9,550.4 312.9,578.5 316.0,606.5 319.0,634.5 322.1,662.6 325.2,690.7 328.3,718.7 331.4,746.7 334.5,774.8 337.6,802.9 340.8,830.9 343.9,859.0 347.1,887.0" fill="none" stroke="#bfc6bd" stroke-width="1.1" stroke-dasharray="8,4"/>
<polyline points="331.2,395.4 332.8,410.2 336.0,438.2 339.1,466.2 342.2,494.3 345.4,522.3 348.6,550.4 351.8,578.5 355.0,606.5 358.2,634.5 361.4,662.6 364.7,690.7 367.9,718.7 371.2,746.7 374.5,774.8 377.8,802.9 381.1,830.9 384.4,859.0 387.7,887.0" fill="none" stroke="#bfc6bd" stroke-width="1.1" stroke-dasharray="8,4"/>
<polyline points="371.0,395.4 372.7,410.2 376.0,438.2 379.3,466.2 382.6,494.3 386.0,522.3 389.3,550.4 392.7,578.5 396.0,606.5 399.4,634.5 402.8,662.6 406.3,690.7 409.7,718.7 413.1,746.7 416.6,774.8 420.1,802.9 423.6,830.9 427.1,859.0 430.6,887.0" fill="none" stroke="#bfc6bd" stroke-width="1.1" stroke-dasharray="8,4"/>
<polyline points="426.9,395.4 428.8,410.2 432.3,438.2 435.9,466.2 439.4,494.3 443.0,522.3 446.6,550.4 450.2,578.5 453.8,606.5 457.5,634.5 461.1,662.6 464.8,690.7 468.5,718.7 472.2,746.7 475.9,774.8 479.7,802.9 483.4,830.9 487.2,859.0 491.0,887.0" fill="none" stroke="#bfc6bd" stroke-width="1.1" stroke-dasharray="8,4"/>
<polyline points="472.0,395.4 473.9,410.2 477.6,438.2 481.4,466.2 485.2,494.3 488.9,522.3 492.7,550.4 496.6,578.5 500.4,606.5 504.2,634.5 508.1,662.6 512.0,690.7 515.9,718.7 519.8,746.7 523.8,774.8 527.7,802.9 531.7,830.9 535.7,859.0 539.7,887.0" fill="none" stroke="#bfc6bd" stroke-width="1.1" stroke-dasharray="8,4"/>
<polyline points="499.5,395.4 501.5,410.2 505.3,438.2 509.2,466.2 513.1,494.3 517.0,522.3 521.0,550.4 524.9,578.5 528.9,606.5 532.8,634.5 536.9,662.6 540.9,690.7 544.9,718.7 549.0,746.7 553.1,774.8 557.2,802.9 561.3,830.9 565.4,859.0 569.6,887.0" fill="none" stroke="#bfc6bd" stroke-width="1.1" stroke-dasharray="8,4"/>
<polyline points="519.5,395.4 521.6,410.2 525.5,438.2 529.5,466.2 533.5,494.3 537.5,522.3 541.5,550.4 545.6,578.5 549.6,606.5 553.7,634.5 557.8,662.6 561.9,690.7 566.1,718.7 570.2,746.7 574.4,774.8 578.6,802.9 582.8,830.9 587.1,859.0 591.4,887.0" fill="none" stroke="#bfc6bd" stroke-width="1.1" stroke-dasharray="8,4"/>
<polyline points="548.6,395.4 550.7,410.2 554.8,438.2 558.9,466.2 563.1,494.3 567.2,522.3 571.4,550.4 575.6,578.5 579.8,606.5 584.0,634.5 588.2,662.6 592.5,690.7 596.8,718.7 601.1,746.7 605.4,774.8 609.8,802.9 614.1,830.9 618.5,859.0 623.0,887.0" fill="none" stroke="#bfc6bd" stroke-width="1.1" stroke-dasharray="8,4"/>
<polyline points="569.8,395.4 572.0,410.2 576.2,438.2 580.4,466.2 584.6,494.3 588.9,522.3 593.1,550.4 597.4,578.5 601.7,606.5 606.1,634.5 610.4,662.6 614.8,690.7 619.2,718.7 623.6,746.7 628.0,774.8 632.5,802.9 637.0,830.9 642.0,859.0 647.2,887.0" fill="none" stroke="#bfc6bd" stroke-width="1.1" stroke-dasharray="8,4"/>
<polyline points="600.5,395.4 602.8,410.2 607.1,438.2 611.5,466.2 615.8,494.3 620.2,522.3 624.7,550.4 629.1,578.5 633.6,606.5 638.1,634.5 643.2,662.6 648.4,690.7 653.6,718.7 658.8,746.7 664.1,774.8 669.4,802.9 674.7,830.9 680.0,859.0 685.4,887.0" fill="none" stroke="#bfc6bd" stroke-width="1.1" stroke-dasharray="8,4"/>
<polyline points="622.9,395.4 625.2,410.2 629.6,438.2 634.1,466.2 638.7,494.3 643.9,522.3 649.0,550.4 654.2,578.5 659.4,606.5 664.7,634.5 670.0,662.6 675.3,690.7 680.7,718.7 686.1,746.7 691.5,774.8 697.0,802.9 702.5,830.9 708.0,859.0 713.6,887.0" fill="none" stroke="#bfc6bd" stroke-width="1.1" stroke-dasharray="8,4"/>
<polyline points="657.6,395.4 660.4,410.2 665.7,438.2 671.0,466.2 676.3,494.3 681.7,522.3 687.1,550.4 692.5,578.5 698.0,606.5 703.5,634.5 709.1,662.6 714.6,690.7 720.3,718.7 725.9,746.7 731.6,774.8 737.3,802.9 743.1,830.9 748.9,859.0 754.8,887.0" fill="none" stroke="#bfc6bd" stroke-width="1.1" stroke-dasharray="8,4"/>
<polyline points="684.6,395.4 687.4,410.2 692.9,438.2 698.3,466.2 703.9,494.3 709.4,522.3 715.0,550.4 720.6,578.5 726.3,606.5 732.0,634.5 737.7,662.6 743.5,690.7 749.3,718.7 755.2,746.7 761.0,774.8 767.0,802.9 772.9,830.9 779.0,859.0 785.0,887.0" fill="none" stroke="#bfc6bd" stroke-width="1.1" stroke-dasharray="8,4"/>
<polyline points="705.9,395.4 708.9,410.2 714.5,438.2 720.1,466.2 725.7,494.3 731.4,522.3 737.2,550.4 742.9,578.5 748.7,606.5 754.6,634.5 760.5,662.6 766.4,690.7 772.4,718.7 778.4,746.7 784.4,774.8 790.5,802.9 796.7,830.9 802.8,859.0 809.0,887.0" fill="none" stroke="#bfc6bd" stroke-width="1.1" stroke-dasharray="8,4"/>
<polyline points="723.7,395.4 726.7,410.2 732.4,438.2 738.1,466.2 743.9,494.3 749.7,522.3 755.6,550.4 761.5,578.5 767.4,606.5 773.4,634.5 779.4,662.6 785.5,690.7 791.6,718.7 797.7,746.7 803.9,774.8 810.1,802.9 816.4,830.9 822.7,859.0 829.1,887.0" fill="none" stroke="#bfc6bd" stroke-width="1.1" stroke-dasharray="8,4"/>
<polyline points="745.8,395.4 748.8,410.2 754.7,438.2 760.6,466.2 766.5,494.3 772.5,522.3 778.5,550.4 784.5,578.5 790.6,606.5 796.8,634.5 802.9,662.6 809.2,690.7 815.4,718.7 821.7,746.7 828.1,774.8 834.5,802.9 840.9,830.9 847.4,859.0 854.0,887.0" fill="none" stroke="#bfc6bd" stroke-width="1.1" stroke-dasharray="8,4"/>
<text x="318.7" y="723.6" font-size="17.9" fill="#a7aea5" textLength="18.9" lengthAdjust="spacingAndGlyphs">0.05</text>
<text x="360.4" y="723.6" font-size="17.9" fill="#a7aea5" textLength="14.7" lengthAdjust="spacingAndGlyphs">0.1</text>
<text x="402.2" y="723.6" font-size="17.9" fill="#a7aea5" textLength="14.7" lengthAdjust="spacingAndGlyphs">0.2</text>
<text x="461.0" y="723.6" font-size="17.9" fill="#a7aea5" textLength="14.7" lengthAdjust="spacingAndGlyphs">0.5</text>
<text x="512.6" y="723.6" font-size="17.9" fill="#a7aea5" textLength="6.3" lengthAdjust="spacingAndGlyphs">1</text>
<text x="537.4" y="723.6" font-size="17.9" fill="#a7aea5" textLength="14.7" lengthAdjust="spacingAndGlyphs">1.5</text>
<text x="562.7" y="723.6" font-size="17.9" fill="#a7aea5" textLength="6.3" lengthAdjust="spacingAndGlyphs">2</text>
<text x="593.4" y="723.6" font-size="17.9" fill="#a7aea5" textLength="6.3" lengthAdjust="spacingAndGlyphs">3</text>
<text x="615.8" y="723.6" font-size="17.9" fill="#a7aea5" textLength="6.3" lengthAdjust="spacingAndGlyphs">4</text>
<text x="650.2" y="723.6" font-size="17.9" fill="#a7aea5" textLength="6.3" lengthAdjust="spacingAndGlyphs">6</text>
<text x="677.3" y="723.6" font-size="17.9" fill="#a7aea5" textLength="6.3" lengthAdjust="spacingAndGlyphs">8</text>
<text x="714.8" y="723.6" font-size="17.9" fill="#a7aea5" textLength="10.5" lengthAdjust="spacingAndGlyphs">12</text>
<text x="743.8" y="723.6" font-size="17.9" fill="#a7aea5" textLength="10.5" lengthAdjust="spacingAndGlyphs">16</text>
<text x="766.8" y="723.6" font-size="17.9" fill="#a7aea5" textLength="10.5" lengthAdjust="spacingAndGlyphs">20</text>
<text x="786.0" y="723.6" font-size="17.9" fill="#a7aea5" textLength="10.5" lengthAdjust="spacingAndGlyphs">24</text>
<text x="809.9" y="723.6" font-size="17.9" fill="#a7aea5" textLength="10.5" lengthAdjust="spacingAndGlyphs">30</text>
<text transform="translate(142.0,722.0) rotate(-58.0)" text-anchor="middle" font-size="13.5" fill="#86b482" textLength="17.0" lengthAdjust="spacingAndGlyphs" y="4.5">-60</text>
<text transform="translate(78.0,727.0) rotate(-58.0)" text-anchor="middle" font-size="13.5" fill="#a3aa9f" textLength="17.0" lengthAdjust="spacingAndGlyphs" y="4.5">-70</text>
<text transform="translate(58.0,783.0) rotate(-58.0)" text-anchor="middle" font-size="13.5" fill="#86b482" textLength="17.0" lengthAdjust="spacingAndGlyphs" y="4.5">-80</text>
<text transform="translate(161.2,669.3) rotate(-58.0)" text-anchor="middle" font-size="13.5" fill="#e3a5ab" textLength="17.0" lengthAdjust="spacingAndGlyphs" y="4.5">-50</text>
<text transform="translate(222.9,669.3) rotate(-58.0)" text-anchor="middle" font-size="13.5" fill="#86b482" textLength="17.0" lengthAdjust="spacingAndGlyphs" y="4.5">-40</text>
<text transform="translate(238.7,618.2) rotate(-58.0)" text-anchor="middle" font-size="13.5" fill="#e3a5ab" textLength="17.0" lengthAdjust="spacingAndGlyphs" y="4.5">-30</text>
<text transform="translate(296.9,618.2) rotate(-58.0)" text-anchor="middle" font-size="13.5" fill="#86b482" textLength="17.0" lengthAdjust="spacingAndGlyphs" y="4.5">-20</text>
<text transform="translate(312.8,563.5) rotate(-58.0)" text-anchor="middle" font-size="13.5" fill="#e3a5ab" textLength="17.0" lengthAdjust="spacingAndGlyphs" y="4.5">-10</text>
<text transform="translate(369.2,579.4) rotate(-58.0)" text-anchor="middle" font-size="13.5" fill="#a3aa9f" textLength="7.0" lengthAdjust="spacingAndGlyphs" y="4.5">0</text>
<text transform="translate(385.8,520.0) rotate(-58.0)" text-anchor="middle" font-size="13.5" fill="#e3a5ab" textLength="13.0" lengthAdjust="spacingAndGlyphs" y="4.5">10</text>
<text transform="translate(436.6,534.7) rotate(-58.0)" text-anchor="middle" font-size="13.5" fill="#86b482" textLength="13.0" lengthAdjust="spacingAndGlyphs" y="4.5">20</text>
<text transform="translate(451.2,476.6) rotate(-58.0)" text-anchor="middle" font-size="13.5" fill="#e3a5ab" textLength="13.0" lengthAdjust="spacingAndGlyphs" y="4.5">30</text>
<text transform="translate(496.2,491.2) rotate(-58.0)" text-anchor="middle" font-size="13.5" fill="#86b482" textLength="13.0" lengthAdjust="spacingAndGlyphs" y="4.5">40</text>
<text transform="translate(515.1,433.0) rotate(-58.0)" text-anchor="middle" font-size="13.5" fill="#e3a5ab" textLength="13.0" lengthAdjust="spacingAndGlyphs" y="4.5">50</text>
<text transform="translate(546.3,457.0) rotate(-58.0)" text-anchor="middle" font-size="13.5" fill="#86b482" textLength="13.0" lengthAdjust="spacingAndGlyphs" y="4.5">60</text>
<text transform="translate(584.0,434.0) rotate(-58.0)" text-anchor="middle" font-size="13.5" fill="#a3aa9f" textLength="13.0" lengthAdjust="spacingAndGlyphs" y="4.5">80</text>
<text transform="translate(617.4,405.0) rotate(-58.0)" text-anchor="middle" font-size="13.5" fill="#86b482" textLength="18.0" lengthAdjust="spacingAndGlyphs" y="4.5">100</text>
<text transform="translate(636.5,349.0) rotate(-58.0)" text-anchor="middle" font-size="13.5" fill="#e3a5ab" textLength="13.0" lengthAdjust="spacingAndGlyphs" y="4.5">90</text>
<text transform="translate(695.0,302.5) rotate(-58.0)" text-anchor="middle" font-size="13.5" fill="#e3a5ab" textLength="18.0" lengthAdjust="spacingAndGlyphs" y="4.5">110</text>
<text transform="translate(752.5,263.6) rotate(-58.0)" text-anchor="middle" font-size="13.5" fill="#e3a5ab" textLength="18.0" lengthAdjust="spacingAndGlyphs" y="4.5">150</text>
<text transform="translate(807.0,228.0) rotate(-58.0)" text-anchor="middle" font-size="13.5" fill="#e3a5ab" textLength="18.0" lengthAdjust="spacingAndGlyphs" y="4.5">160</text>
<text transform="translate(858.3,187.3) rotate(-58.0)" text-anchor="middle" font-size="13.5" fill="#e3a5ab" textLength="18.0" lengthAdjust="spacingAndGlyphs" y="4.5">170</text>
<text transform="translate(674.5,366.5) rotate(-40.5)" text-anchor="middle" font-size="13.5" fill="#a3aa9f" textLength="86.0" lengthAdjust="spacingAndGlyphs" y="4.5">120 140 160 180</text>
<rect x="37.5" y="468.2" width="867.0" height="51.4" fill="#dff0d6" stroke="#b9ccb4" stroke-width="1" style="mix-blend-mode:multiply"/>
<rect x="37.5" y="522.8" width="867.0" height="20.4" fill="#dff0d6" stroke="#b9ccb4" stroke-width="1" style="mix-blend-mode:multiply"/>
<rect x="37.5" y="549.0" width="867.0" height="178.0" fill="#dff0d6" stroke="#b9ccb4" stroke-width="1" style="mix-blend-mode:multiply"/>
<rect x="37.5" y="738.5" width="867.0" height="79.0" fill="#dff0d6" stroke="#b9ccb4" stroke-width="1" style="mix-blend-mode:multiply"/>
<clipPath id="cuA"><rect x="0" y="0" width="2000" height="786.0"/></clipPath>
<clipPath id="cdA"><rect x="0" y="786.0" width="2000" height="178.0"/></clipPath>
<polygon points="359.0,45.5 366.9,55.5 374.6,65.3 382.0,74.9 389.4,84.3 396.5,93.6 403.5,102.7 410.3,111.6 416.9,120.4 423.4,129.1 429.7,137.5 435.9,145.9 441.9,154.1 447.8,162.2 453.6,170.1 459.2,177.9 464.7,185.6 470.1,193.2 475.3,200.7 480.4,208.1 485.5,215.4 490.4,222.5 495.1,229.6 499.8,236.5 504.4,243.4 508.9,250.2 513.3,256.9 517.6,263.5 521.8,270.0 526.0,276.4 530.0,282.8 534.0,289.0 537.9,295.2 541.7,301.3 545.4,307.4 549.1,313.4 552.7,319.3 556.2,325.1 559.7,330.9 563.1,336.6 566.5,342.2 569.8,347.8 573.0,353.3 576.2,358.8 579.3,364.2 582.4,369.5 585.4,374.8 588.4,380.0 591.3,385.2 594.2,390.3 597.1,395.4 599.9,400.4 602.6,405.4 605.4,410.3 608.0,415.2 610.7,420.0 613.3,424.8 615.8,429.6 618.4,434.3 620.9,438.9 623.3,443.5 625.8,448.1 628.2,452.6 630.5,457.1 632.9,461.5 635.2,466.0 637.4,470.3 639.7,474.7 641.9,479.0 644.1,483.2 646.3,487.4 648.4,491.6 650.6,495.8 652.6,499.9 654.7,504.0 656.8,508.0 658.8,512.1 660.8,516.1 662.8,520.0 664.7,523.9 666.7,527.8 668.6,531.7 670.5,535.5 672.4,539.4 674.2,543.1 676.1,546.9 677.9,550.6 679.7,554.3 681.5,558.0 683.2,561.6 685.0,565.3 686.7,568.8 688.4,572.4 690.1,576.0 691.8,579.5 693.5,583.0 695.2,586.4 696.8,589.9 698.4,593.3 700.0,596.7 701.6,600.1 703.2,603.4 704.8,606.8 706.3,610.1 707.9,613.4 709.4,616.6 710.9,619.9 712.4,623.1 713.9,626.3 715.4,629.5 716.9,632.7 718.3,635.8 719.8,638.9 721.2,642.0 722.6,645.1 724.1,648.2 725.5,651.2 726.8,654.3 728.2,657.3 729.6,660.3 731.0,663.3 732.3,666.2 733.6,669.2 735.0,672.1 736.3,675.0 737.6,677.9 738.9,680.8 740.2,683.6 741.5,686.5 742.8,689.3 744.0,692.1 745.3,694.9 746.5,697.7 747.8,700.5 749.0,703.2 750.2,705.9 751.5,708.7 752.7,711.4 753.9,714.1 755.1,716.7 756.3,719.4 757.4,722.1 758.6,724.7 759.8,727.3 760.9,729.9 762.1,732.5 763.2,735.1 764.4,737.7 765.5,740.2 766.6,742.8 767.7,745.3 768.8,747.8 769.9,750.3 771.0,752.8 772.1,755.3 773.2,757.8 774.3,760.2 775.3,762.7 776.4,765.1 777.5,767.5 778.5,769.9 779.6,772.3 780.6,774.7 781.6,777.1 782.7,779.5 783.7,781.8 784.7,784.2 785.7,786.5 786.7,788.8 787.7,791.1 788.7,793.4 789.7,795.7 790.7,798.0 791.7,800.3 792.7,802.5 793.7,804.8 794.6,807.0 795.6,809.2 796.5,811.4 797.5,813.7 797.5,813.7 808.4,814.3 806.3,808.0 804.2,801.8 798.0,793.5 789.7,783.2 784.5,776.9 783.5,772.8 775.2,762.4 769.0,747.9 760.7,737.5 756.5,727.1 748.2,716.8 741.7,703.4 731.5,690.4 725.7,678.8 724.2,667.1 715.5,643.9 703.9,626.5 698.1,613.4 686.5,601.1 684.4,594.9 676.1,580.3 669.9,567.9 669.9,561.7 665.8,551.3 659.5,543.0 647.1,530.5 645.0,524.3 636.7,516.0 628.4,508.8 626.3,503.6 613.9,495.3 607.7,487.0 605.6,476.6 613.9,466.2 609.1,460.9 596.7,440.1 586.3,419.4 588.4,411.1 573.9,396.6 569.7,392.4 559.3,377.9 557.3,367.5 549.0,353.0 551.0,348.8 549.0,342.6 536.5,323.9 530.3,317.7 517.8,299.0 507.5,282.4 500.8,268.2 493.0,260.4 482.7,250.0 480.0,244.9 472.3,237.1 459.3,221.5 449.0,208.6 437.3,195.6 432.1,182.6 430.8,174.9 417.8,159.3 415.2,154.1 407.5,146.3 397.1,133.4 386.7,120.4 381.5,112.6 371.2,102.2 358.2,84.0 350.4,73.7 340.0,58.0 328.4,45.7" fill="#ff7b4d" fill-opacity="0.88" stroke="none" clip-path="url(#cuA)"/>
<polygon points="359.0,45.5 366.9,55.5 374.6,65.3 382.0,74.9 389.4,84.3 396.5,93.6 403.5,102.7 410.3,111.6 416.9,120.4 423.4,129.1 429.7,137.5 435.9,145.9 441.9,154.1 447.8,162.2 453.6,170.1 459.2,177.9 464.7,185.6 470.1,193.2 475.3,200.7 480.4,208.1 485.5,215.4 490.4,222.5 495.1,229.6 499.8,236.5 504.4,243.4 508.9,250.2 513.3,256.9 517.6,263.5 521.8,270.0 526.0,276.4 530.0,282.8 534.0,289.0 537.9,295.2 541.7,301.3 545.4,307.4 549.1,313.4 552.7,319.3 556.2,325.1 559.7,330.9 563.1,336.6 566.5,342.2 569.8,347.8 573.0,353.3 576.2,358.8 579.3,364.2 582.4,369.5 585.4,374.8 588.4,380.0 591.3,385.2 594.2,390.3 597.1,395.4 599.9,400.4 602.6,405.4 605.4,410.3 608.0,415.2 610.7,420.0 613.3,424.8 615.8,429.6 618.4,434.3 620.9,438.9 623.3,443.5 625.8,448.1 628.2,452.6 630.5,457.1 632.9,461.5 635.2,466.0 637.4,470.3 639.7,474.7 641.9,479.0 644.1,483.2 646.3,487.4 648.4,491.6 650.6,495.8 652.6,499.9 654.7,504.0 656.8,508.0 658.8,512.1 660.8,516.1 662.8,520.0 664.7,523.9 666.7,527.8 668.6,531.7 670.5,535.5 672.4,539.4 674.2,543.1 676.1,546.9 677.9,550.6 679.7,554.3 681.5,558.0 683.2,561.6 685.0,565.3 686.7,568.8 688.4,572.4 690.1,576.0 691.8,579.5 693.5,583.0 695.2,586.4 696.8,589.9 698.4,593.3 700.0,596.7 701.6,600.1 703.2,603.4 704.8,606.8 706.3,610.1 707.9,613.4 709.4,616.6 710.9,619.9 712.4,623.1 713.9,626.3 715.4,629.5 716.9,632.7 718.3,635.8 719.8,638.9 721.2,642.0 722.6,645.1 724.1,648.2 725.5,651.2 726.8,654.3 728.2,657.3 729.6,660.3 731.0,663.3 732.3,666.2 733.6,669.2 735.0,672.1 736.3,675.0 737.6,677.9 738.9,680.8 740.2,683.6 741.5,686.5 742.8,689.3 744.0,692.1 745.3,694.9 746.5,697.7 747.8,700.5 749.0,703.2 750.2,705.9 751.5,708.7 752.7,711.4 753.9,714.1 755.1,716.7 756.3,719.4 757.4,722.1 758.6,724.7 759.8,727.3 760.9,729.9 762.1,732.5 763.2,735.1 764.4,737.7 765.5,740.2 766.6,742.8 767.7,745.3 768.8,747.8 769.9,750.3 771.0,752.8 772.1,755.3 773.2,757.8 774.3,760.2 775.3,762.7 776.4,765.1 777.5,767.5 778.5,769.9 779.6,772.3 780.6,774.7 781.6,777.1 782.7,779.5 783.7,781.8 784.7,784.2 785.7,786.5 786.7,788.8 787.7,791.1 788.7,793.4 789.7,795.7 790.7,798.0 791.7,800.3 792.7,802.5 793.7,804.8 794.6,807.0 795.6,809.2 796.5,811.4 797.5,813.7 797.5,813.7 808.4,814.3 806.3,808.0 804.2,801.8 798.0,793.5 789.7,783.2 784.5,776.9 783.5,772.8 775.2,762.4 769.0,747.9 760.7,737.5 756.5,727.1 748.2,716.8 741.7,703.4 731.5,690.4 725.7,678.8 724.2,667.1 715.5,643.9 703.9,626.5 698.1,613.4 686.5,601.1 684.4,594.9 676.1,580.3 669.9,567.9 669.9,561.7 665.8,551.3 659.5,543.0 647.1,530.5 645.0,524.3 636.7,516.0 628.4,508.8 626.3,503.6 613.9,495.3 607.7,487.0 605.6,476.6 613.9,466.2 609.1,460.9 596.7,440.1 586.3,419.4 588.4,411.1 573.9,396.6 569.7,392.4 559.3,377.9 557.3,367.5 549.0,353.0 551.0,348.8 549.0,342.6 536.5,323.9 530.3,317.7 517.8,299.0 507.5,282.4 500.8,268.2 493.0,260.4 482.7,250.0 480.0,244.9 472.3,237.1 459.3,221.5 449.0,208.6 437.3,195.6 432.1,182.6 430.8,174.9 417.8,159.3 415.2,154.1 407.5,146.3 397.1,133.4 386.7,120.4 381.5,112.6 371.2,102.2 358.2,84.0 350.4,73.7 340.0,58.0 328.4,45.7" fill="#857a7a" stroke="none" clip-path="url(#cdA)"/>
<polyline points="271.3,46.5 275.5,48.8 279.1,51.0 281.4,53.3 285.6,55.6 288.0,58.0 292.1,60.3 295.0,62.7 297.9,65.1 300.4,67.4 303.7,69.8 306.3,73.7 310.2,78.9 311.0,82.2 311.5,85.4 312.9,88.7 314.1,91.9 315.5,95.3 316.2,98.8 318.0,102.2 317.9,105.7 317.9,109.1 318.0,112.6 315.1,115.8 311.5,119.1 308.7,120.4 305.2,121.7 301.1,123.0 299.9,126.9 298.5,130.8 298.1,134.0 297.6,137.2 297.0,140.5 297.3,143.7 297.9,147.6 299.8,151.5 303.7,155.0 307.3,158.4 311.5,161.9 314.7,163.4 318.7,164.9 321.6,166.4 325.0,167.8 327.8,169.3 330.9,170.8 334.9,172.3 337.7,173.0 340.5,173.7 344.1,174.4 347.9,175.1 350.5,175.8 352.8,176.5 356.9,177.2 359.8,177.9 362.8,178.6 366.1,179.3 368.6,180.0 372.4,181.3 375.9,182.7 378.9,184.0 382.6,186.6 387.4,189.1 390.6,191.7 388.2,192.6 384.1,193.4 381.5,194.3 378.4,196.9 374.9,199.5 371.2,202.1 370.3,205.1 369.5,208.2 368.6,211.2 369.0,214.6 370.1,218.1 369.9,221.5 369.4,224.6 369.3,227.7 368.1,230.9 368.4,234.0 367.3,237.1 367.9,240.6 367.2,244.0 367.3,247.5 370.9,248.5 375.0,249.4 378.3,250.4 381.5,251.4 384.6,253.2 387.4,255.0 390.6,256.8 394.3,258.6 397.1,260.4 399.8,262.7 403.9,265.1 406.1,267.4 410.2,269.8 412.7,272.1 413.0,274.1 409.6,276.2 407.4,278.3 404.0,280.3 400.6,282.4 397.5,284.5 398.9,287.6 400.5,290.8 401.7,293.9 405.0,294.7 407.9,295.5 411.0,296.3 414.6,297.1 418.4,297.9 421.2,298.7 423.7,299.5 427.9,300.3 430.7,301.1 427.4,303.5 424.0,305.8 419.4,308.1 416.2,310.5 413.3,312.3 409.1,314.0 406.6,315.8 402.9,317.6 399.5,319.4 397.2,321.1 393.4,322.9 389.6,323.7 387.0,324.4 384.3,325.2 380.2,325.9 376.9,326.7 374.7,327.4 370.8,328.2 368.0,328.9 363.9,329.7 361.1,330.4 358.1,331.2 360.7,333.5 364.5,335.9 366.8,338.2 370.5,340.5 374.2,341.1 375.9,341.6 379.9,342.2 381.9,342.8 385.2,343.4 389.0,343.9 391.1,344.5 394.2,345.1 397.9,345.7 400.5,346.2 403.7,346.8 406.3,347.0 410.8,347.1 412.8,347.3 415.8,347.4 419.4,347.6 423.0,347.7 426.4,347.9 428.7,348.0 432.2,348.2 435.0,348.3 438.7,348.5 442.4,348.6 445.2,348.8 449.0,349.5 452.7,350.2 456.0,350.9 459.6,351.6 462.8,352.3 466.0,353.0 469.1,354.2 471.8,355.3 475.6,356.5 478.2,357.6 481.0,358.8 484.6,360.0 488.3,361.1 490.9,362.3 487.3,363.4 484.8,364.4 481.4,365.4 478.4,366.5 481.7,367.3 484.4,368.1 488.7,368.9 491.0,369.7 494.7,370.5 497.7,371.3 500.4,372.1 504.3,372.9 507.5,373.7 510.1,375.0 513.1,376.2 516.1,377.5 519.4,378.7 523.0,380.0 519.3,383.1 517.0,386.2 513.7,389.3 517.0,390.3 521.0,391.4 524.3,392.4 527.7,393.5 530.3,394.5 530.5,397.6 531.3,400.7 531.5,403.8 532.4,406.9 535.8,408.6 539.2,410.2 542.8,411.9 546.0,413.5 549.0,415.2 550.7,418.3 553.0,421.4 555.3,424.6 557.3,427.7 557.3,431.1 558.0,434.6 559.3,438.0 562.5,440.5 565.4,443.0 569.6,445.5 572.2,448.0 575.9,450.5 578.5,453.3 581.7,456.0 584.9,458.8 588.0,461.6 591.5,464.3 594.6,467.1 596.2,470.3 597.5,473.4 599.4,476.6 601.7,480.1 603.1,483.5 605.6,487.0 607.2,491.1 607.7,495.3 609.9,498.4 611.1,501.5 612.3,504.6 613.9,507.7 616.0,511.3 618.2,515.0 619.5,518.6 622.2,522.2 626.2,526.4 630.5,530.5 632.6,533.8 634.2,537.1 636.2,540.5 639.2,543.8 640.9,547.1 644.9,550.2 649.2,553.4 653.4,557.5 657.5,561.7 660.2,565.0 661.8,568.3 663.4,571.7 666.4,575.0 667.8,578.3 669.0,581.6 670.0,584.9 672.3,588.2 672.9,591.5 674.7,594.8 676.8,598.1 678.0,601.4 679.2,604.7 680.9,607.9 684.0,611.0 686.3,614.2 688.8,617.3 690.9,620.5 693.7,623.6 690.8,629.4 694.3,631.3 697.0,633.3 701.0,635.2 702.1,638.5 703.7,641.8 706.0,645.0 706.8,648.3 709.6,651.7 714.0,655.0 717.0,658.4 717.4,661.6 718.8,664.8 719.4,668.0 720.4,671.2 721.3,674.4 720.2,678.0 718.4,681.7 721.8,682.7 725.4,683.6 728.0,687.8 731.6,691.9 733.1,695.0 735.2,698.1 738.3,701.2 739.9,704.3 741.6,707.4 743.0,710.5 742.1,714.6 739.9,718.8 737.1,720.4 733.0,722.0 730.8,723.5 727.5,725.1 723.7,727.2 719.2,729.2 719.2,733.4 722.8,734.2 725.8,735.0 729.0,735.9 732.4,736.7 735.8,737.5 739.3,740.1 741.7,742.7 745.1,745.3 748.2,747.9 750.8,751.0 754.0,754.1 756.4,757.2 758.6,760.3 761.3,763.6 763.2,766.9 764.6,770.3 766.5,773.6 769.0,776.9 771.6,780.5 773.8,784.2 776.6,787.9 779.3,791.5 781.6,794.6 784.0,797.7 785.6,800.8 787.6,803.9 790.1,807.0 791.8,810.1 794.3,812.2 798.0,814.3" fill="none" stroke="#1e8a1e" stroke-width="2.6" stroke-linejoin="round"/>
<polyline points="359.0,45.5 366.9,55.5 374.6,65.3 382.0,74.9 389.4,84.3 396.5,93.6 403.5,102.7 410.3,111.6 416.9,120.4 423.4,129.1 429.7,137.5 435.9,145.9 441.9,154.1 447.8,162.2 453.6,170.1 459.2,177.9 464.7,185.6 470.1,193.2 475.3,200.7 480.4,208.1 485.5,215.4 490.4,222.5 495.1,229.6 499.8,236.5 504.4,243.4 508.9,250.2 513.3,256.9 517.6,263.5 521.8,270.0 526.0,276.4 530.0,282.8 534.0,289.0 537.9,295.2 541.7,301.3 545.4,307.4 549.1,313.4 552.7,319.3 556.2,325.1 559.7,330.9 563.1,336.6 566.5,342.2 569.8,347.8 573.0,353.3 576.2,358.8 579.3,364.2 582.4,369.5 585.4,374.8 588.4,380.0 591.3,385.2 594.2,390.3 597.1,395.4 599.9,400.4 602.6,405.4 605.4,410.3 608.0,415.2 610.7,420.0 613.3,424.8 615.8,429.6 618.4,434.3 620.9,438.9 623.3,443.5 625.8,448.1 628.2,452.6 630.5,457.1 632.9,461.5 635.2,466.0 637.4,470.3 639.7,474.7 641.9,479.0 644.1,483.2 646.3,487.4 648.4,491.6 650.6,495.8 652.6,499.9 654.7,504.0 656.8,508.0 658.8,512.1 660.8,516.1 662.8,520.0 664.7,523.9 666.7,527.8 668.6,531.7 670.5,535.5 672.4,539.4 674.2,543.1 676.1,546.9 677.9,550.6 679.7,554.3 681.5,558.0 683.2,561.6 685.0,565.3 686.7,568.8 688.4,572.4 690.1,576.0 691.8,579.5 693.5,583.0 695.2,586.4 696.8,589.9 698.4,593.3 700.0,596.7 701.6,600.1 703.2,603.4 704.8,606.8 706.3,610.1 707.9,613.4 709.4,616.6 710.9,619.9 712.4,623.1 713.9,626.3 715.4,629.5 716.9,632.7 718.3,635.8 719.8,638.9 721.2,642.0 722.6,645.1 724.1,648.2 725.5,651.2 726.8,654.3 728.2,657.3 729.6,660.3 731.0,663.3 732.3,666.2 733.6,669.2 735.0,672.1 736.3,675.0 737.6,677.9 738.9,680.8 740.2,683.6 741.5,686.5 742.8,689.3 744.0,692.1 745.3,694.9 746.5,697.7 747.8,700.5 749.0,703.2 750.2,705.9 751.5,708.7 752.7,711.4 753.9,714.1 755.1,716.7 756.3,719.4 757.4,722.1 758.6,724.7 759.8,727.3 760.9,729.9 762.1,732.5 763.2,735.1 764.4,737.7 765.5,740.2 766.6,742.8 767.7,745.3 768.8,747.8 769.9,750.3 771.0,752.8 772.1,755.3 773.2,757.8 774.3,760.2 775.3,762.7 776.4,765.1 777.5,767.5 778.5,769.9 779.6,772.3 780.6,774.7 781.6,777.1 782.7,779.5 783.7,781.8 784.7,784.2 785.7,786.5 786.7,788.8 787.7,791.1 788.7,793.4 789.7,795.7 790.7,798.0 791.7,800.3 792.7,802.5 793.7,804.8 794.6,807.0 795.6,809.2 796.5,811.4 797.5,813.7 797.5,813.7" fill="none" stroke="#b8281a" stroke-width="2.4" stroke-linejoin="round"/>
<polyline points="328.4,45.7 330.5,48.8 335.0,51.9 337.7,54.9 340.0,58.0 341.5,61.1 344.1,64.3 346.1,67.4 348.7,70.6 350.4,73.7 353.6,77.1 354.7,80.6 358.2,84.0 359.3,87.0 363.3,90.1 364.6,93.1 367.4,96.1 367.9,99.2 371.2,102.2 374.5,105.7 378.6,109.1 381.5,112.6 383.5,116.5 386.7,120.4 390.3,123.7 392.8,126.9 393.5,130.2 397.1,133.4 398.7,136.6 402.4,139.9 405.9,143.1 407.5,146.3 411.1,150.2 415.2,154.1 417.8,159.3 419.8,162.4 422.8,165.5 424.6,168.7 427.6,171.8 430.8,174.9 431.3,178.8 432.1,182.6 433.4,185.8 434.1,189.1 435.4,192.3 437.3,195.6 439.6,198.8 443.1,202.1 445.6,205.3 449.0,208.6 450.5,211.8 454.9,215.1 456.8,218.3 459.3,221.5 462.2,224.6 463.8,227.7 468.2,230.9 470.5,234.0 472.3,237.1 475.3,241.0 480.0,244.9 482.7,250.0 485.8,253.5 490.1,256.9 493.0,260.4 497.4,264.3 500.8,268.2 503.4,271.8 504.0,275.3 506.6,278.8 507.5,282.4 509.9,285.7 511.2,289.0 513.9,292.4 516.6,295.7 517.8,299.0 520.6,302.1 522.0,305.2 524.2,308.4 525.1,311.5 527.7,314.6 530.3,317.7 534.1,320.8 536.5,323.9 538.4,327.0 539.9,330.1 542.9,333.2 545.3,336.4 547.3,339.5 549.0,342.6 549.7,345.7 551.0,348.8 549.0,353.0 550.9,356.6 553.2,360.2 555.8,363.9 557.3,367.5 558.0,371.0 558.4,374.4 559.3,377.9 561.9,381.5 563.5,385.1 566.1,388.8 569.7,392.4 573.9,396.6 578.0,400.2 582.2,403.9 585.0,407.5 588.4,411.1 587.1,415.2 586.3,419.4 587.3,422.8 589.8,426.3 592.6,429.8 593.8,433.2 595.1,436.7 596.7,440.1 599.6,443.6 600.2,447.0 602.9,450.5 606.0,454.0 607.2,457.4 609.1,460.9 613.9,466.2 611.0,469.7 607.9,473.1 605.6,476.6 606.4,480.1 608.0,483.5 607.7,487.0 609.7,491.1 613.9,495.3 617.6,497.4 620.8,499.5 624.0,501.5 626.3,503.6 628.4,508.8 633.1,512.4 636.7,516.0 641.5,520.1 645.0,524.3 646.1,527.4 647.1,530.5 650.3,533.6 653.1,536.8 655.4,539.9 659.5,543.0 663.5,547.1 665.8,551.3 667.3,554.8 667.9,558.2 669.9,561.7 669.9,564.8 669.9,567.9 671.4,571.0 672.7,574.1 674.2,577.2 676.1,580.3 678.3,583.9 680.5,587.6 682.6,591.2 684.4,594.9 685.4,598.0 686.5,601.1 688.4,604.2 691.7,607.2 694.5,610.3 698.1,613.4 699.7,616.7 701.8,620.0 703.1,623.2 703.9,626.5 706.9,630.0 709.2,633.5 710.3,636.9 713.9,640.4 715.5,643.9 717.1,647.2 717.1,650.5 718.2,653.8 719.4,657.2 722.3,660.5 722.4,663.8 724.2,667.1 723.8,671.0 725.5,674.9 725.7,678.8 727.3,682.7 728.6,686.5 731.5,690.4 733.3,693.6 736.7,696.9 738.4,700.1 741.7,703.4 742.8,706.8 745.4,710.1 746.5,713.4 748.2,716.8 750.6,720.2 753.7,723.7 756.5,727.1 756.9,730.6 759.1,734.0 760.7,737.5 763.3,741.0 765.5,744.4 769.0,747.9 769.7,751.5 773.0,755.1 773.7,758.8 775.2,762.4 777.3,765.9 781.0,769.3 783.5,772.8 784.5,776.9 787.8,780.0 789.7,783.2 791.4,786.6 794.2,790.1 798.0,793.5 800.3,797.6 804.2,801.8 805.7,804.9 806.3,808.0 806.6,811.1 808.4,814.3" fill="none" stroke="#2323e0" stroke-width="2.8" stroke-linejoin="round"/>
<rect x="325.4" y="42.2" width="6" height="7" fill="#2323e0"/>
<rect x="414.3" y="154.5" width="6" height="7" fill="#2323e0"/>
<rect x="479.7" y="246.5" width="6" height="7" fill="#2323e0"/>
<rect x="570.9" y="393.1" width="6" height="7" fill="#2323e0"/>
<rect x="625.4" y="505.3" width="6" height="7" fill="#2323e0"/>
<rect x="683.5" y="597.5" width="6" height="7" fill="#2323e0"/>
<rect x="722.5" y="676.5" width="6" height="7" fill="#2323e0"/>
<rect x="781.5" y="773.5" width="6" height="7" fill="#2323e0"/>
<text x="336.3" y="64.2" font-size="21.5" fill="#5b45c8" textLength="22.6" lengthAdjust="spacingAndGlyphs" stroke="#5b45c8" stroke-width="0.20">-46</text>
<text x="430.1" y="176.1" font-size="20.7" fill="#5b45c8" textLength="15.5" lengthAdjust="spacingAndGlyphs" stroke="#5b45c8" stroke-width="0.20">33</text>
<text x="495.3" y="268.6" font-size="20.7" fill="#5b45c8" textLength="16.3" lengthAdjust="spacingAndGlyphs" stroke="#5b45c8" stroke-width="0.20">23</text>
<text x="586.9" y="411.6" font-size="18.6" fill="#5b45c8" textLength="8.7" lengthAdjust="spacingAndGlyphs" stroke="#5b45c8" stroke-width="0.20">9</text>
<text x="642.4" y="521.6" font-size="18.6" fill="#5b45c8" textLength="5.2" lengthAdjust="spacingAndGlyphs" stroke="#5b45c8" stroke-width="0.20">1</text>
<text x="694.6" y="611.6" font-size="13.2" fill="#5b45c8" textLength="8.2" lengthAdjust="spacingAndGlyphs" stroke="#5b45c8" stroke-width="0.20">7</text>
<text x="733.1" y="694.6" font-size="19.3" fill="#5b45c8" textLength="15.7" lengthAdjust="spacingAndGlyphs" stroke="#5b45c8" stroke-width="0.20">13</text>
<text x="793.2" y="794.2" font-size="22.3" fill="#5b45c8" textLength="15.9" lengthAdjust="spacingAndGlyphs" stroke="#5b45c8" stroke-width="0.20">22</text>
<line x1="37.5" y1="517.4" x2="904.5" y2="517.4" stroke="#111" stroke-width="3.2"/>
<line x1="37.5" y1="530.1" x2="904.5" y2="530.1" stroke="#111" stroke-width="3.2"/>
</g>
<line x1="37.5" y1="307.1" x2="65.3" y2="307.1" stroke="#111" stroke-width="3.2"/>
<text x="57.9" y="325.7" font-size="19.2" fill="#111" textLength="24.6" lengthAdjust="spacingAndGlyphs" stroke="#111" stroke-width="0.30">9km</text>
<line x1="37.5" y1="501.7" x2="65.3" y2="501.7" stroke="#111" stroke-width="3.2"/>
<text x="57.9" y="520.3" font-size="19.2" fill="#111" textLength="24.6" lengthAdjust="spacingAndGlyphs" stroke="#111" stroke-width="0.30">6km</text>
<line x1="37.5" y1="685.7" x2="65.3" y2="685.7" stroke="#111" stroke-width="3.2"/>
<text x="57.9" y="704.3" font-size="19.2" fill="#111" textLength="24.6" lengthAdjust="spacingAndGlyphs" stroke="#111" stroke-width="0.30">3km</text>
<line x1="37.5" y1="745.5" x2="65.3" y2="745.5" stroke="#111" stroke-width="3.2"/>
<text x="57.9" y="764.1" font-size="19.2" fill="#111" textLength="24.6" lengthAdjust="spacingAndGlyphs" stroke="#111" stroke-width="0.30">2km</text>
<line x1="37.5" y1="802.6" x2="65.3" y2="802.6" stroke="#111" stroke-width="3.2"/>
<text x="57.9" y="821.2" font-size="19.2" fill="#111" textLength="24.6" lengthAdjust="spacingAndGlyphs" stroke="#111" stroke-width="0.30">1km</text>
<line x1="37.5" y1="812.8" x2="65.3" y2="812.8" stroke="#111" stroke-width="3.2"/>
<text x="59.0" y="831.4" font-size="17.2" fill="#222" textLength="6.6" lengthAdjust="spacingAndGlyphs">S</text>
<text x="82.6" y="711.2" font-size="22.0" fill="#dc4646" textLength="76.8" lengthAdjust="spacingAndGlyphs" stroke="#dc4646" stroke-width="0.55">CAPE=1539</text>
<text x="82.7" y="743.6" font-size="20.6" fill="#f0c656" textLength="61.8" lengthAdjust="spacingAndGlyphs" stroke="#f0c656" stroke-width="0.55">CIN=17.4</text>
<text x="82.6" y="776.6" font-size="21.4" fill="#dc4646" textLength="52.7" lengthAdjust="spacingAndGlyphs" stroke="#dc4646" stroke-width="0.55">BLI=-4.1</text>
<text x="82.6" y="809.6" font-size="21.4" fill="#dc4646" textLength="47.0" lengthAdjust="spacingAndGlyphs" stroke="#dc4646" stroke-width="0.55">K=42.1</text>
<text x="82.6" y="842.4" font-size="21.8" fill="#3a3a3a" textLength="55.1" lengthAdjust="spacingAndGlyphs" stroke="#3a3a3a" stroke-width="0.55">SI=-1.48</text>
<rect x="786.4" y="45.5" width="118.1" height="100.5" fill="#fff" stroke="#8a34c9" stroke-width="3.6"/>
<text x="790.8" y="73.4" font-size="24.7" fill="#e02828" textLength="104.0" lengthAdjust="spacingAndGlyphs" font-weight="bold" stroke="#e02828" stroke-width="0.60">温度对数压力图</text>
<text x="795.1" y="111.3" font-size="19.2" fill="#e04848" textLength="97.9" lengthAdjust="spacingAndGlyphs" stroke="#e04848" stroke-width="0.25">测站: 太原(53772)</text>
<text x="792.4" y="136.3" font-size="18.6" fill="#b32323" textLength="102.7" lengthAdjust="spacingAndGlyphs" stroke="#b32323" stroke-width="0.25">22年08月08日08时</text>
<rect x="37.5" y="45.5" width="867.0" height="841.5" fill="none" stroke="#8a34c9" stroke-width="3.8"/>
<text x="26.8" y="36.2" font-size="19.7" fill="#7655ab" textLength="21.4" lengthAdjust="spacingAndGlyphs" stroke="#7655ab" stroke-width="0.65">-90</text>
<text x="26.8" y="922.4" font-size="19.7" fill="#7655ab" textLength="21.4" lengthAdjust="spacingAndGlyphs" stroke="#7655ab" stroke-width="0.65">-90</text>
<text x="93.5" y="36.2" font-size="19.7" fill="#7655ab" textLength="21.4" lengthAdjust="spacingAndGlyphs" stroke="#7655ab" stroke-width="0.65">-80</text>
<text x="93.5" y="922.4" font-size="19.7" fill="#7655ab" textLength="21.4" lengthAdjust="spacingAndGlyphs" stroke="#7655ab" stroke-width="0.65">-80</text>
<text x="160.2" y="36.2" font-size="19.7" fill="#7655ab" textLength="21.4" lengthAdjust="spacingAndGlyphs" stroke="#7655ab" stroke-width="0.65">-70</text>
<text x="160.2" y="922.4" font-size="19.7" fill="#7655ab" textLength="21.4" lengthAdjust="spacingAndGlyphs" stroke="#7655ab" stroke-width="0.65">-70</text>
<text x="226.9" y="36.2" font-size="19.7" fill="#7655ab" textLength="21.4" lengthAdjust="spacingAndGlyphs" stroke="#7655ab" stroke-width="0.65">-60</text>
<text x="226.9" y="922.4" font-size="19.7" fill="#7655ab" textLength="21.4" lengthAdjust="spacingAndGlyphs" stroke="#7655ab" stroke-width="0.65">-60</text>
<text x="293.5" y="36.2" font-size="19.7" fill="#7655ab" textLength="21.4" lengthAdjust="spacingAndGlyphs" stroke="#7655ab" stroke-width="0.65">-50</text>
<text x="293.5" y="922.4" font-size="19.7" fill="#7655ab" textLength="21.4" lengthAdjust="spacingAndGlyphs" stroke="#7655ab" stroke-width="0.65">-50</text>
<text x="360.2" y="36.2" font-size="19.7" fill="#7655ab" textLength="21.4" lengthAdjust="spacingAndGlyphs" stroke="#7655ab" stroke-width="0.65">-40</text>
<text x="360.2" y="922.4" font-size="19.7" fill="#7655ab" textLength="21.4" lengthAdjust="spacingAndGlyphs" stroke="#7655ab" stroke-width="0.65">-40</text>
<text x="426.9" y="36.2" font-size="19.7" fill="#7655ab" textLength="21.4" lengthAdjust="spacingAndGlyphs" stroke="#7655ab" stroke-width="0.65">-30</text>
<text x="426.9" y="922.4" font-size="19.7" fill="#7655ab" textLength="21.4" lengthAdjust="spacingAndGlyphs" stroke="#7655ab" stroke-width="0.65">-30</text>
<text x="493.6" y="36.2" font-size="19.7" fill="#7655ab" textLength="21.4" lengthAdjust="spacingAndGlyphs" stroke="#7655ab" stroke-width="0.65">-20</text>
<text x="493.6" y="922.4" font-size="19.7" fill="#7655ab" textLength="21.4" lengthAdjust="spacingAndGlyphs" stroke="#7655ab" stroke-width="0.65">-20</text>
<text x="560.3" y="36.2" font-size="19.7" fill="#7655ab" textLength="21.4" lengthAdjust="spacingAndGlyphs" stroke="#7655ab" stroke-width="0.65">-10</text>
<text x="560.3" y="922.4" font-size="19.7" fill="#7655ab" textLength="21.4" lengthAdjust="spacingAndGlyphs" stroke="#7655ab" stroke-width="0.65">-10</text>
<text x="633.4" y="36.2" font-size="19.7" fill="#7655ab" textLength="8.7" lengthAdjust="spacingAndGlyphs" stroke="#7655ab" stroke-width="0.65">0</text>
<text x="633.4" y="922.4" font-size="19.7" fill="#7655ab" textLength="8.7" lengthAdjust="spacingAndGlyphs" stroke="#7655ab" stroke-width="0.65">0</text>
<text x="696.4" y="36.2" font-size="19.7" fill="#7655ab" textLength="16.0" lengthAdjust="spacingAndGlyphs" stroke="#7655ab" stroke-width="0.65">10</text>
<text x="696.4" y="922.4" font-size="19.7" fill="#7655ab" textLength="16.0" lengthAdjust="spacingAndGlyphs" stroke="#7655ab" stroke-width="0.65">10</text>
<text x="763.1" y="36.2" font-size="19.7" fill="#7655ab" textLength="16.0" lengthAdjust="spacingAndGlyphs" stroke="#7655ab" stroke-width="0.65">20</text>
<text x="763.1" y="922.4" font-size="19.7" fill="#7655ab" textLength="16.0" lengthAdjust="spacingAndGlyphs" stroke="#7655ab" stroke-width="0.65">20</text>
<text x="829.8" y="36.2" font-size="19.7" fill="#7655ab" textLength="16.0" lengthAdjust="spacingAndGlyphs" stroke="#7655ab" stroke-width="0.65">30</text>
<text x="829.8" y="922.4" font-size="19.7" fill="#7655ab" textLength="16.0" lengthAdjust="spacingAndGlyphs" stroke="#7655ab" stroke-width="0.65">30</text>
<text x="896.5" y="36.2" font-size="19.7" fill="#7655ab" textLength="16.0" lengthAdjust="spacingAndGlyphs" stroke="#7655ab" stroke-width="0.65">40</text>
<text x="896.5" y="922.4" font-size="19.7" fill="#7655ab" textLength="16.0" lengthAdjust="spacingAndGlyphs" stroke="#7655ab" stroke-width="0.65">40</text>
<text x="1.6" y="20.4" font-size="23.0" fill="#7655ab" textLength="22.4" lengthAdjust="spacingAndGlyphs" stroke="#7655ab" stroke-width="0.20">hPa</text>
<text x="5.8" y="53.7" font-size="20.3" fill="#7655ab" textLength="23.7" lengthAdjust="spacingAndGlyphs" stroke="#7655ab" stroke-width="0.65">200</text>
<text x="5.8" y="166.3" font-size="20.3" fill="#7655ab" textLength="23.7" lengthAdjust="spacingAndGlyphs" stroke="#7655ab" stroke-width="0.65">250</text>
<text x="5.8" y="258.4" font-size="20.3" fill="#7655ab" textLength="23.7" lengthAdjust="spacingAndGlyphs" stroke="#7655ab" stroke-width="0.65">300</text>
<text x="5.8" y="403.6" font-size="20.3" fill="#7655ab" textLength="23.7" lengthAdjust="spacingAndGlyphs" stroke="#7655ab" stroke-width="0.65">400</text>
<text x="5.8" y="516.2" font-size="20.3" fill="#7655ab" textLength="23.7" lengthAdjust="spacingAndGlyphs" stroke="#7655ab" stroke-width="0.65">500</text>
<text x="5.8" y="608.3" font-size="20.3" fill="#7655ab" textLength="23.7" lengthAdjust="spacingAndGlyphs" stroke="#7655ab" stroke-width="0.65">600</text>
<text x="5.8" y="686.1" font-size="20.3" fill="#7655ab" textLength="23.7" lengthAdjust="spacingAndGlyphs" stroke="#7655ab" stroke-width="0.65">700</text>
<text x="5.8" y="784.1" font-size="20.3" fill="#7655ab" textLength="23.7" lengthAdjust="spacingAndGlyphs" stroke="#7655ab" stroke-width="0.65">850</text>
<text x="5.8" y="826.8" font-size="20.3" fill="#7655ab" textLength="23.7" lengthAdjust="spacingAndGlyphs" stroke="#7655ab" stroke-width="0.65">925</text>
<text x="-1.0" y="866.1" font-size="20.3" fill="#7655ab" textLength="30.5" lengthAdjust="spacingAndGlyphs" stroke="#7655ab" stroke-width="0.65">1000</text>
<text x="909.9" y="53.7" font-size="20.3" fill="#7655ab" textLength="24.6" lengthAdjust="spacingAndGlyphs" stroke="#7655ab" stroke-width="0.65">200</text>
<text x="909.9" y="166.3" font-size="20.3" fill="#7655ab" textLength="24.6" lengthAdjust="spacingAndGlyphs" stroke="#7655ab" stroke-width="0.65">250</text>
<text x="909.9" y="258.4" font-size="20.3" fill="#7655ab" textLength="24.6" lengthAdjust="spacingAndGlyphs" stroke="#7655ab" stroke-width="0.65">300</text>
<text x="909.9" y="403.6" font-size="20.3" fill="#7655ab" textLength="24.6" lengthAdjust="spacingAndGlyphs" stroke="#7655ab" stroke-width="0.65">400</text>
<text x="909.9" y="516.2" font-size="20.3" fill="#7655ab" textLength="24.6" lengthAdjust="spacingAndGlyphs" stroke="#7655ab" stroke-width="0.65">500</text>
<text x="909.9" y="608.3" font-size="20.3" fill="#7655ab" textLength="24.6" lengthAdjust="spacingAndGlyphs" stroke="#7655ab" stroke-width="0.65">600</text>
<text x="909.9" y="686.1" font-size="20.3" fill="#7655ab" textLength="24.6" lengthAdjust="spacingAndGlyphs" stroke="#7655ab" stroke-width="0.65">700</text>
<text x="909.9" y="784.1" font-size="20.3" fill="#7655ab" textLength="24.6" lengthAdjust="spacingAndGlyphs" stroke="#7655ab" stroke-width="0.65">850</text>
<text x="909.9" y="826.8" font-size="20.3" fill="#7655ab" textLength="24.6" lengthAdjust="spacingAndGlyphs" stroke="#7655ab" stroke-width="0.65">925</text>
<text x="909.9" y="866.1" font-size="20.3" fill="#7655ab" textLength="31.3" lengthAdjust="spacingAndGlyphs" stroke="#7655ab" stroke-width="0.65">1000</text>
<text x="925.0" y="922.0" font-size="22.7" fill="#7655ab" textLength="17.3" lengthAdjust="spacingAndGlyphs" stroke="#7655ab" stroke-width="0.65">°C</text>
<text x="812.6" y="205.4" font-size="20.8" fill="#4d6cae" textLength="33.8" lengthAdjust="spacingAndGlyphs" stroke="#4d6cae" stroke-width="0.15">-30°C</text>
<line x1="847.0" y1="196.2" x2="875.6" y2="196.2" stroke="#4563b8" stroke-width="2.8"/>
<text x="812.6" y="286.6" font-size="21.1" fill="#4d6cae" textLength="33.8" lengthAdjust="spacingAndGlyphs" stroke="#4d6cae" stroke-width="0.15">-20°C</text>
<line x1="847.0" y1="279.0" x2="875.6" y2="279.0" stroke="#4563b8" stroke-width="2.8"/>
<text x="812.6" y="398.6" font-size="20.7" fill="#4d6cae" textLength="33.8" lengthAdjust="spacingAndGlyphs" stroke="#4d6cae" stroke-width="0.15">-10°C</text>
<line x1="847.0" y1="390.5" x2="875.6" y2="390.5" stroke="#4563b8" stroke-width="2.8"/>
<text x="822.7" y="512.1" font-size="20.8" fill="#4d6cae" textLength="22.9" lengthAdjust="spacingAndGlyphs" stroke="#4d6cae" stroke-width="0.15">0°C</text>
<text x="820.1" y="523.1" font-size="20.0" fill="#4d6cae" textLength="25.6" lengthAdjust="spacingAndGlyphs" stroke="#4d6cae" stroke-width="0.15">WBZ</text>
<line x1="847.8" y1="770.7" x2="875.8" y2="770.7" stroke="#111" stroke-width="3.2"/>
<text x="859.5" y="788.6" font-size="16.5" fill="#1a1a1a" textLength="18.0" lengthAdjust="spacingAndGlyphs" stroke="#1a1a1a" stroke-width="0.20">LFC</text>
<line x1="847.8" y1="789.0" x2="875.8" y2="789.0" stroke="#111" stroke-width="3.2"/>
<text x="876.2" y="797.1" font-size="18.6" fill="#1a1a1a" textLength="20.9" lengthAdjust="spacingAndGlyphs" stroke="#1a1a1a" stroke-width="0.20">CCL</text>
<line x1="847.8" y1="807.6" x2="875.8" y2="807.6" stroke="#111" stroke-width="3.2"/>
<text x="860.4" y="828.6" font-size="19.3" fill="#1a1a1a" textLength="19.2" lengthAdjust="spacingAndGlyphs" stroke="#1a1a1a" stroke-width="0.20">LCL</text>
<rect x="36.9" y="945.6" width="22.6" height="14" fill="#d6eecf" stroke="#6db862" stroke-width="1.4"/>
<text x="64.4" y="958.3" font-size="19.2" fill="#3b7fd0" textLength="120.3" lengthAdjust="spacingAndGlyphs" stroke="#3b7fd0" stroke-width="0.20">湿层(相对湿度≥80%)</text>
<text x="72.5" y="99" font-size="35" fill="#000" font-family="Noto Sans CJK SC">（</text>
<text x="112.0" y="99.5" font-size="31" fill="#000">a</text>
<text x="133.4" y="99" font-size="35" fill="#000" font-family="Noto Sans CJK SC">）</text>
<clipPath id="clipB"><rect x="1048.5" y="45.5" width="848.5" height="841.5"/></clipPath>
<g clip-path="url(#clipB)">
<line x1="1109.1" y1="45.5" x2="1109.1" y2="887.0" stroke="#f5b9c8" stroke-width="1.3"/>
<line x1="1169.7" y1="45.5" x2="1169.7" y2="887.0" stroke="#f5b9c8" stroke-width="1.3"/>
<line x1="1230.3" y1="45.5" x2="1230.3" y2="887.0" stroke="#f5b9c8" stroke-width="1.3"/>
<line x1="1290.9" y1="45.5" x2="1290.9" y2="887.0" stroke="#f5b9c8" stroke-width="1.3"/>
<line x1="1351.5" y1="45.5" x2="1351.5" y2="887.0" stroke="#f5b9c8" stroke-width="1.3"/>
<line x1="1412.1" y1="45.5" x2="1412.1" y2="887.0" stroke="#f5b9c8" stroke-width="1.3"/>
<line x1="1472.8" y1="45.5" x2="1472.8" y2="887.0" stroke="#f5b9c8" stroke-width="1.3"/>
<line x1="1533.4" y1="45.5" x2="1533.4" y2="887.0" stroke="#f5b9c8" stroke-width="1.3"/>
<line x1="1594.0" y1="45.5" x2="1594.0" y2="887.0" stroke="#f5b9c8" stroke-width="1.3"/>
<line x1="1654.6" y1="45.5" x2="1654.6" y2="887.0" stroke="#f5b9c8" stroke-width="1.3"/>
<line x1="1715.2" y1="45.5" x2="1715.2" y2="887.0" stroke="#f5b9c8" stroke-width="1.3"/>
<line x1="1775.8" y1="45.5" x2="1775.8" y2="887.0" stroke="#f5b9c8" stroke-width="1.3"/>
<line x1="1836.4" y1="45.5" x2="1836.4" y2="887.0" stroke="#f5b9c8" stroke-width="1.3"/>
<line x1="1048.5" y1="158.14" x2="1897.0" y2="158.14" stroke="#f5b9c8" stroke-width="2.0"/>
<line x1="1048.5" y1="250.18" x2="1897.0" y2="250.18" stroke="#f5b9c8" stroke-width="2.0"/>
<line x1="1048.5" y1="395.40" x2="1897.0" y2="395.40" stroke="#f5b9c8" stroke-width="2.0"/>
<line x1="1048.5" y1="508.04" x2="1897.0" y2="508.04" stroke="#f5b9c8" stroke-width="2.0"/>
<line x1="1048.5" y1="600.08" x2="1897.0" y2="600.08" stroke="#f5b9c8" stroke-width="2.0"/>
<line x1="1048.5" y1="677.89" x2="1897.0" y2="677.89" stroke="#f5b9c8" stroke-width="2.0"/>
<line x1="1048.5" y1="775.90" x2="1897.0" y2="775.90" stroke="#f5b9c8" stroke-width="2.0"/>
<line x1="1048.5" y1="818.59" x2="1897.0" y2="818.59" stroke="#f5b9c8" stroke-width="2.0"/>
<line x1="1048.5" y1="857.94" x2="1897.0" y2="857.94" stroke="#f5b9c8" stroke-width="2.0"/>
<polyline points="639.3,45.5 650.6,73.5 662.0,101.6 673.5,129.7 685.3,157.7 697.2,185.7 709.4,213.8 721.7,241.8 734.3,269.9 747.0,297.9 759.9,326.0 773.1,354.0 786.4,382.1 800.0,410.2 813.8,438.2 827.8,466.2 842.0,494.3 856.5,522.3 871.2,550.4 886.1,578.5 901.3,606.5 916.7,634.5 932.3,662.6 948.2,690.7 964.4,718.7 980.8,746.7 997.5,774.8 1014.4,802.9 1031.6,830.9 1049.1,859.0 1066.9,887.0" fill="none" stroke="#dcb4bc" stroke-width="1.2" stroke-dasharray="9,3"/>
<polyline points="715.9,45.5 728.3,73.5 741.0,101.6 753.8,129.7 766.8,157.7 780.1,185.7 793.6,213.8 807.3,241.8 821.2,269.9 835.3,297.9 849.6,326.0 864.2,354.0 879.0,382.1 894.1,410.2 909.4,438.2 924.9,466.2 940.7,494.3 956.7,522.3 973.0,550.4 989.6,578.5 1006.4,606.5 1023.5,634.5 1040.8,662.6 1058.5,690.7 1076.4,718.7 1094.6,746.7 1113.1,774.8 1131.9,802.9 1151.0,830.9 1170.4,859.0 1190.1,887.0" fill="none" stroke="#dcb4bc" stroke-width="1.2" stroke-dasharray="9,3"/>
<polyline points="792.4,45.5 806.1,73.5 820.0,101.6 834.1,129.7 848.4,157.7 863.0,185.7 877.8,213.8 892.8,241.8 908.1,269.9 923.6,297.9 939.3,326.0 955.4,354.0 971.6,382.1 988.2,410.2 1005.0,438.2 1022.0,466.2 1039.4,494.3 1057.0,522.3 1074.9,550.4 1093.1,578.5 1111.5,606.5 1130.3,634.5 1149.4,662.6 1168.8,690.7 1188.4,718.7 1208.4,746.7 1228.8,774.8 1249.4,802.9 1270.4,830.9 1291.7,859.0 1313.4,887.0" fill="none" stroke="#dcb4bc" stroke-width="1.2" stroke-dasharray="9,3"/>
<polyline points="869.0,45.5 883.8,73.5 899.0,101.6 914.3,129.7 930.0,157.7 945.8,185.7 961.9,213.8 978.3,241.8 995.0,269.9 1011.9,297.9 1029.0,326.0 1046.5,354.0 1064.2,382.1 1082.2,410.2 1100.5,438.2 1119.1,466.2 1138.0,494.3 1157.2,522.3 1176.7,550.4 1196.5,578.5 1216.7,606.5 1237.1,634.5 1257.9,662.6 1279.0,690.7 1300.5,718.7 1322.3,746.7 1344.4,774.8 1366.9,802.9 1389.8,830.9 1413.0,859.0 1436.6,887.0" fill="none" stroke="#dcb4bc" stroke-width="1.2" stroke-dasharray="9,3"/>
<polyline points="945.5,45.5 961.6,73.5 978.0,101.6 994.6,129.7 1011.5,157.7 1028.7,185.7 1046.1,213.8 1063.8,241.8 1081.9,269.9 1100.2,297.9 1118.7,326.0 1137.6,354.0 1156.8,382.1 1176.3,410.2 1196.1,438.2 1216.2,466.2 1236.7,494.3 1257.5,522.3 1278.6,550.4 1300.0,578.5 1321.8,606.5 1343.9,634.5 1366.4,662.6 1389.3,690.7 1412.5,718.7 1436.1,746.7 1460.0,774.8 1484.4,802.9 1509.1,830.9 1534.3,859.0 1559.8,887.0" fill="none" stroke="#dcb4bc" stroke-width="1.2" stroke-dasharray="9,3"/>
<polyline points="1022.0,45.5 1039.4,73.5 1057.0,101.6 1074.9,129.7 1093.1,157.7 1111.5,185.7 1130.3,213.8 1149.4,241.8 1168.8,269.9 1188.4,297.9 1208.4,326.0 1228.8,354.0 1249.4,382.1 1270.4,410.2 1291.7,438.2 1313.4,466.2 1335.4,494.3 1357.7,522.3 1380.4,550.4 1403.5,578.5 1426.9,606.5 1450.8,634.5 1475.0,662.6 1499.5,690.7 1524.5,718.7 1549.9,746.7 1575.7,774.8 1601.9,802.9 1628.5,830.9 1655.5,859.0 1683.0,887.0" fill="none" stroke="#dcb4bc" stroke-width="1.2" stroke-dasharray="9,3"/>
<polyline points="1098.6,45.5 1117.1,73.5 1136.0,101.6 1155.1,129.7 1174.6,157.7 1194.4,185.7 1214.5,213.8 1234.9,241.8 1255.7,269.9 1276.7,297.9 1298.1,326.0 1319.9,354.0 1342.0,382.1 1364.5,410.2 1387.3,438.2 1410.5,466.2 1434.0,494.3 1458.0,522.3 1482.3,550.4 1507.0,578.5 1532.1,606.5 1557.6,634.5 1583.5,662.6 1609.8,690.7 1636.6,718.7 1663.7,746.7 1691.3,774.8 1719.4,802.9 1747.9,830.9 1776.8,859.0 1806.2,887.0" fill="none" stroke="#dcb4bc" stroke-width="1.2" stroke-dasharray="9,3"/>
<polyline points="1175.1,45.5 1194.9,73.5 1215.0,101.6 1235.4,129.7 1256.2,157.7 1277.2,185.7 1298.7,213.8 1320.4,241.8 1342.6,269.9 1365.0,297.9 1387.8,326.0 1411.0,354.0 1434.6,382.1 1458.5,410.2 1482.9,438.2 1507.6,466.2 1532.7,494.3 1558.2,522.3 1584.1,550.4 1610.5,578.5 1637.2,606.5 1664.4,634.5 1692.0,662.6 1720.1,690.7 1748.6,718.7 1777.5,746.7 1807.0,774.8 1836.9,802.9 1867.3,830.9 1898.1,859.0 1929.5,887.0" fill="none" stroke="#dcb4bc" stroke-width="1.2" stroke-dasharray="9,3"/>
<polyline points="1251.6,45.5 1272.6,73.5 1294.0,101.6 1315.7,129.7 1337.7,157.7 1360.1,185.7 1382.9,213.8 1406.0,241.8 1429.4,269.9 1453.3,297.9 1477.5,326.0 1502.2,354.0 1527.2,382.1 1552.6,410.2 1578.5,438.2 1604.7,466.2 1631.4,494.3 1658.4,522.3 1686.0,550.4 1713.9,578.5 1742.3,606.5 1771.2,634.5 1800.5,662.6 1830.3,690.7 1860.6,718.7 1891.4,746.7 1922.6,774.8 1954.4,802.9 1986.6,830.9 2019.4,859.0 2052.7,887.0" fill="none" stroke="#dcb4bc" stroke-width="1.2" stroke-dasharray="9,3"/>
<polyline points="1328.2,45.5 1350.4,73.5 1373.0,101.6 1395.9,129.7 1419.3,157.7 1443.0,185.7 1467.0,213.8 1491.5,241.8 1516.3,269.9 1541.6,297.9 1567.3,326.0 1593.3,354.0 1619.8,382.1 1646.7,410.2 1674.0,438.2 1701.8,466.2 1730.0,494.3 1758.7,522.3 1787.8,550.4 1817.4,578.5 1847.5,606.5 1878.0,634.5 1909.1,662.6 1940.6,690.7 1972.6,718.7 2005.2,746.7 2038.3,774.8 2071.9,802.9 2106.0,830.9 2140.7,859.0 2175.9,887.0" fill="none" stroke="#dcb4bc" stroke-width="1.2" stroke-dasharray="9,3"/>
<polyline points="1404.7,45.5 1428.2,73.5 1452.0,101.6 1476.2,129.7 1500.8,157.7 1525.8,185.7 1551.2,213.8 1577.0,241.8 1603.2,269.9 1629.9,297.9 1657.0,326.0 1684.5,354.0 1712.4,382.1 1740.8,410.2 1769.6,438.2 1798.9,466.2 1828.7,494.3 1858.9,522.3 1889.7,550.4 1920.9,578.5 1952.6,606.5 1984.8,634.5 2017.6,662.6 2050.9,690.7 2084.7,718.7 2119.0,746.7 2153.9,774.8 2189.4,802.9 2225.4,830.9 2262.0,859.0 2299.1,887.0" fill="none" stroke="#dcb4bc" stroke-width="1.2" stroke-dasharray="9,3"/>
<polyline points="1481.2,45.5 1505.9,73.5 1531.0,101.6 1556.5,129.7 1582.4,157.7 1608.7,185.7 1635.4,213.8 1662.6,241.8 1690.1,269.9 1718.2,297.9 1746.7,326.0 1775.6,354.0 1805.0,382.1 1834.9,410.2 1865.2,438.2 1896.0,466.2 1927.4,494.3 1959.2,522.3 1991.5,550.4 2024.4,578.5 2057.8,606.5 2091.7,634.5 2126.1,662.6 2161.1,690.7 2196.7,718.7 2232.8,746.7 2269.5,774.8 2306.8,802.9 2344.7,830.9 2383.2,859.0 2422.4,887.0" fill="none" stroke="#dcb4bc" stroke-width="1.2" stroke-dasharray="9,3"/>
<polyline points="1557.8,45.5 1583.7,73.5 1610.0,101.6 1636.7,129.7 1663.9,157.7 1691.5,185.7 1719.6,213.8 1748.1,241.8 1777.0,269.9 1806.5,297.9 1836.4,326.0 1866.7,354.0 1897.6,382.1 1928.9,410.2 1960.8,438.2 1993.1,466.2 2026.0,494.3 2059.4,522.3 2093.4,550.4 2127.9,578.5 2162.9,606.5 2198.5,634.5 2234.6,662.6 2271.4,690.7 2308.7,718.7 2346.6,746.7 2385.2,774.8 2424.3,802.9 2464.1,830.9 2504.5,859.0 2545.6,887.0" fill="none" stroke="#dcb4bc" stroke-width="1.2" stroke-dasharray="9,3"/>
<polyline points="1634.3,45.5 1661.4,73.5 1689.0,101.6 1717.0,129.7 1745.5,157.7 1774.4,185.7 1803.8,213.8 1833.6,241.8 1863.9,269.9 1894.8,297.9 1926.1,326.0 1957.9,354.0 1990.2,382.1 2023.0,410.2 2056.4,438.2 2090.3,466.2 2124.7,494.3 2159.7,522.3 2195.2,550.4 2231.3,578.5 2268.0,606.5 2305.3,634.5 2343.2,662.6 2381.7,690.7 2420.7,718.7 2460.5,746.7 2500.8,774.8 2541.8,802.9 2583.5,830.9 2625.8,859.0 2668.8,887.0" fill="none" stroke="#dcb4bc" stroke-width="1.2" stroke-dasharray="9,3"/>
<polyline points="1710.8,45.5 1739.2,73.5 1768.0,101.6 1797.3,129.7 1827.0,157.7 1857.2,185.7 1888.0,213.8 1919.1,241.8 1950.8,269.9 1983.0,297.9 2015.8,326.0 2049.0,354.0 2082.8,382.1 2117.1,410.2 2152.0,438.2 2187.4,466.2 2223.4,494.3 2259.9,522.3 2297.1,550.4 2334.8,578.5 2373.2,606.5 2412.1,634.5 2451.7,662.6 2491.9,690.7 2532.8,718.7 2574.3,746.7 2616.5,774.8 2659.3,802.9 2702.9,830.9 2747.1,859.0 2792.0,887.0" fill="none" stroke="#dcb4bc" stroke-width="1.2" stroke-dasharray="9,3"/>
<polyline points="1787.4,45.5 1817.0,73.5 1847.0,101.6 1877.6,129.7 1908.6,157.7 1940.1,185.7 1972.1,213.8 2004.7,241.8 2037.7,269.9 2071.3,297.9 2105.5,326.0 2140.1,354.0 2175.4,382.1 2211.2,410.2 2247.5,438.2 2284.5,466.2 2322.0,494.3 2360.2,522.3 2398.9,550.4 2438.3,578.5 2478.3,606.5 2518.9,634.5 2560.2,662.6 2602.2,690.7 2644.8,718.7 2688.1,746.7 2732.1,774.8 2776.8,802.9 2822.2,830.9 2868.4,859.0 2915.3,887.0" fill="none" stroke="#dcb4bc" stroke-width="1.2" stroke-dasharray="9,3"/>
<polyline points="672.0,30.1 680.5,50.5 688.7,70.1 696.7,89.0 704.6,107.2 712.2,124.8 719.6,141.7 726.9,158.1 734.0,174.0 740.9,189.5 747.7,204.4 754.4,218.9 760.9,233.1 767.3,246.8 773.6,260.2 779.8,273.2 785.8,285.9 791.8,298.3 797.6,310.4 803.4,322.2 809.0,333.7 814.6,345.0 820.1,356.0 825.4,366.8 830.8,377.4 836.0,387.8 841.1,397.9 846.2,407.9 851.2,417.6 856.2,427.2 861.1,436.6 865.9,445.8 870.6,454.9 875.3,463.8 880.0,472.5 884.6,481.1 889.1,489.5 893.6,497.8 898.0,506.0 902.3,514.1 906.7,522.0 910.9,529.8 915.2,537.5 919.4,545.0 923.5,552.5 927.6,559.8 931.6,567.1 935.6,574.2 939.6,581.2 943.6,588.2 947.4,595.0 951.3,601.8 955.1,608.4 958.9,615.0 962.7,621.5 966.4,627.9 970.1,634.2 973.7,640.5 977.3,646.7 980.9,652.8 984.5,658.8 988.0,664.7 991.5,670.6 995.0,676.5 998.4,682.2 1001.8,687.9 1005.2,693.5 1008.6,699.1 1011.9,704.6 1015.2,710.0 1018.5,715.4 1021.7,720.7 1025.0,726.0 1028.2,731.2 1031.4,736.4 1034.5,741.5 1037.7,746.6 1040.8,751.6 1043.9,756.5 1047.0,761.4 1050.0,766.3 1053.0,771.1 1056.1,775.9 1059.0,780.6 1062.0,785.3 1065.0,790.0 1067.9,794.6 1070.8,799.1 1073.7,803.6 1076.6,808.1 1079.4,812.6 1082.3,816.9 1085.1,821.3 1087.9,825.6 1090.7,829.9 1093.5,834.2 1096.2,838.4 1099.0,842.6 1101.7,846.7 1104.4,850.8 1107.1,854.9 1109.8,859.0 1112.4,863.0 1115.1,866.9 1117.7,870.9 1120.3,874.8 1122.9,878.7 1125.5,882.6 1128.1,886.4 1130.7,890.2" fill="none" stroke="#a9b0a6" stroke-width="1.2" stroke-dasharray="9,3"/>
<polyline points="747.9,30.1 757.3,50.5 766.4,70.1 775.2,89.0 783.9,107.2 792.3,124.8 800.5,141.7 808.5,158.1 816.3,174.0 824.0,189.5 831.5,204.4 838.9,218.9 846.1,233.1 853.1,246.8 860.1,260.2 866.9,273.2 873.5,285.9 880.1,298.3 886.6,310.4 892.9,322.2 899.1,333.7 905.3,345.0 911.3,356.0 917.3,366.8 923.1,377.4 928.9,387.8 934.6,397.9 940.2,407.9 945.7,417.6 951.2,427.2 956.6,436.6 961.9,445.8 967.1,454.9 972.3,463.8 977.4,472.5 982.5,481.1 987.5,489.5 992.4,497.8 997.3,506.0 1002.1,514.1 1006.9,522.0 1011.6,529.8 1016.3,537.5 1020.9,545.0 1025.5,552.5 1030.0,559.8 1034.4,567.1 1038.9,574.2 1043.3,581.2 1047.6,588.2 1051.9,595.0 1056.2,601.8 1060.4,608.4 1064.5,615.0 1068.7,621.5 1072.8,627.9 1076.8,634.2 1080.9,640.5 1084.9,646.7 1088.8,652.8 1092.8,658.8 1096.6,664.7 1100.5,670.6 1104.3,676.5 1108.1,682.2 1111.9,687.9 1115.6,693.5 1119.3,699.1 1123.0,704.6 1126.7,710.0 1130.3,715.4 1133.9,720.7 1137.4,726.0 1141.0,731.2 1144.5,736.4 1148.0,741.5 1151.4,746.6 1154.9,751.6 1158.3,756.5 1161.7,761.4 1165.0,766.3 1168.4,771.1 1171.7,775.9 1175.0,780.6 1178.3,785.3 1181.5,790.0 1184.8,794.6 1188.0,799.1 1191.2,803.6 1194.3,808.1 1197.5,812.6 1200.6,816.9 1203.7,821.3 1206.8,825.6 1209.9,829.9 1212.9,834.2 1216.0,838.4 1219.0,842.6 1222.0,846.7 1224.9,850.8 1227.9,854.9 1230.9,859.0 1233.8,863.0 1236.7,866.9 1239.6,870.9 1242.5,874.8 1245.3,878.7 1248.2,882.6 1251.0,886.4 1253.8,890.2" fill="none" stroke="#a9b0a6" stroke-width="1.2" stroke-dasharray="9,3"/>
<polyline points="823.7,30.1 834.0,50.5 843.9,70.1 853.6,89.0 863.1,107.2 872.3,124.8 881.2,141.7 890.0,158.1 898.6,174.0 907.0,189.5 915.2,204.4 923.2,218.9 931.1,233.1 938.8,246.8 946.4,260.2 953.8,273.2 961.1,285.9 968.3,298.3 975.4,310.4 982.3,322.2 989.1,333.7 995.8,345.0 1002.5,356.0 1009.0,366.8 1015.4,377.4 1021.7,387.8 1027.9,397.9 1034.0,407.9 1040.1,417.6 1046.1,427.2 1052.0,436.6 1057.8,445.8 1063.5,454.9 1069.2,463.8 1074.8,472.5 1080.3,481.1 1085.8,489.5 1091.2,497.8 1096.5,506.0 1101.8,514.1 1107.0,522.0 1112.1,529.8 1117.2,537.5 1122.3,545.0 1127.3,552.5 1132.2,559.8 1137.1,567.1 1141.9,574.2 1146.7,581.2 1151.5,588.2 1156.2,595.0 1160.8,601.8 1165.4,608.4 1170.0,615.0 1174.5,621.5 1179.0,627.9 1183.4,634.2 1187.8,640.5 1192.2,646.7 1196.5,652.8 1200.8,658.8 1205.0,664.7 1209.2,670.6 1213.4,676.5 1217.5,682.2 1221.6,687.9 1225.7,693.5 1229.7,699.1 1233.7,704.6 1237.7,710.0 1241.7,715.4 1245.6,720.7 1249.4,726.0 1253.3,731.2 1257.1,736.4 1260.9,741.5 1264.7,746.6 1268.4,751.6 1272.1,756.5 1275.8,761.4 1279.4,766.3 1283.1,771.1 1286.7,775.9 1290.2,780.6 1293.8,785.3 1297.3,790.0 1300.8,794.6 1304.3,799.1 1307.7,803.6 1311.1,808.1 1314.5,812.6 1317.9,816.9 1321.3,821.3 1324.6,825.6 1327.9,829.9 1331.2,834.2 1334.4,838.4 1337.7,842.6 1340.9,846.7 1344.1,850.8 1347.2,854.9 1350.4,859.0 1353.5,863.0 1356.6,866.9 1359.7,870.9 1362.8,874.8 1365.9,878.7 1368.9,882.6 1371.9,886.4 1374.9,890.2" fill="none" stroke="#a9b0a6" stroke-width="1.2" stroke-dasharray="9,3"/>
<polyline points="899.3,30.1 910.4,50.5 921.2,70.1 931.7,89.0 942.0,107.2 952.0,124.8 961.7,141.7 971.2,158.1 980.5,174.0 989.6,189.5 998.5,204.4 1007.3,218.9 1015.8,233.1 1024.2,246.8 1032.4,260.2 1040.5,273.2 1048.4,285.9 1056.2,298.3 1063.9,310.4 1071.4,322.2 1078.8,333.7 1086.1,345.0 1093.2,356.0 1100.3,366.8 1107.3,377.4 1114.1,387.8 1120.9,397.9 1127.5,407.9 1134.1,417.6 1140.5,427.2 1146.9,436.6 1153.2,445.8 1159.5,454.9 1165.6,463.8 1171.7,472.5 1177.6,481.1 1183.6,489.5 1189.4,497.8 1195.2,506.0 1200.9,514.1 1206.5,522.0 1212.1,529.8 1217.6,537.5 1223.1,545.0 1228.5,552.5 1233.8,559.8 1239.1,567.1 1244.3,574.2 1249.4,581.2 1254.5,588.2 1259.6,595.0 1264.6,601.8 1269.6,608.4 1274.5,615.0 1279.3,621.5 1284.1,627.9 1288.9,634.2 1293.6,640.5 1298.3,646.7 1302.9,652.8 1307.5,658.8 1312.0,664.7 1316.5,670.6 1320.9,676.5 1325.3,682.2 1329.7,687.9 1334.0,693.5 1338.3,699.1 1342.5,704.6 1346.7,710.0 1350.9,715.4 1355.0,720.7 1359.1,726.0 1363.1,731.2 1367.1,736.4 1371.1,741.5 1375.0,746.6 1378.9,751.6 1382.8,756.5 1386.6,761.4 1390.4,766.3 1394.2,771.1 1397.9,775.9 1401.6,780.6 1405.2,785.3 1408.8,790.0 1412.4,794.6 1416.0,799.1 1419.5,803.6 1423.0,808.1 1426.4,812.6 1429.9,816.9 1433.3,821.3 1436.6,825.6 1439.9,829.9 1443.2,834.2 1446.5,838.4 1449.7,842.6 1453.0,846.7 1456.1,850.8 1459.3,854.9 1462.4,859.0 1465.5,863.0 1468.6,866.9 1471.6,870.9 1474.6,874.8 1477.6,878.7 1480.6,882.6 1483.5,886.4 1486.4,890.2" fill="none" stroke="#a9b0a6" stroke-width="1.2" stroke-dasharray="9,3"/>
<polyline points="974.7,30.1 986.6,50.5 998.3,70.1 1009.6,89.0 1020.7,107.2 1031.4,124.8 1042.0,141.7 1052.2,158.1 1062.2,174.0 1072.1,189.5 1081.7,204.4 1091.1,218.9 1100.3,233.1 1109.3,246.8 1118.2,260.2 1126.9,273.2 1135.4,285.9 1143.8,298.3 1152.1,310.4 1160.2,322.2 1168.1,333.7 1176.0,345.0 1183.7,356.0 1191.3,366.8 1198.7,377.4 1206.1,387.8 1213.3,397.9 1220.5,407.9 1227.5,417.6 1234.4,427.2 1241.3,436.6 1248.0,445.8 1254.7,454.9 1261.2,463.8 1267.7,472.5 1274.1,481.1 1280.4,489.5 1286.6,497.8 1292.7,506.0 1298.7,514.1 1304.7,522.0 1310.6,529.8 1316.4,537.5 1322.2,545.0 1327.8,552.5 1333.4,559.8 1338.9,567.1 1344.4,574.2 1349.8,581.2 1355.1,588.2 1360.3,595.0 1365.5,601.8 1370.6,608.4 1375.7,615.0 1380.7,621.5 1385.6,627.9 1390.4,634.2 1395.2,640.5 1400.0,646.7 1404.6,652.8 1409.3,658.8 1413.8,664.7 1418.3,670.6 1422.7,676.5 1427.1,682.2 1431.5,687.9 1435.7,693.5 1439.9,699.1 1444.1,704.6 1448.2,710.0 1452.3,715.4 1456.3,720.7 1460.2,726.0 1464.1,731.2 1468.0,736.4 1471.8,741.5 1475.5,746.6 1479.2,751.6 1482.9,756.5 1486.5,761.4 1490.1,766.3 1493.6,771.1 1497.1,775.9 1500.5,780.6 1503.9,785.3 1507.2,790.0 1510.5,794.6 1513.8,799.1 1517.0,803.6 1520.2,808.1 1523.4,812.6 1526.5,816.9 1529.5,821.3 1532.6,825.6 1535.6,829.9 1538.5,834.2 1541.4,838.4 1544.3,842.6 1547.2,846.7 1550.0,850.8 1552.8,854.9 1555.5,859.0 1558.3,863.0 1561.0,866.9 1563.6,870.9 1566.3,874.8 1568.9,878.7 1571.4,882.6 1574.0,886.4 1576.5,890.2" fill="none" stroke="#a9b0a6" stroke-width="1.2" stroke-dasharray="9,3"/>
<polyline points="1050.4,30.1 1063.2,50.5 1075.7,70.1 1087.9,89.0 1099.7,107.2 1111.3,124.8 1122.5,141.7 1133.5,158.1 1144.3,174.0 1154.8,189.5 1165.1,204.4 1175.1,218.9 1185.0,233.1 1194.6,246.8 1204.1,260.2 1213.4,273.2 1222.5,285.9 1231.4,298.3 1240.2,310.4 1248.8,322.2 1257.2,333.7 1265.5,345.0 1273.7,356.0 1281.7,366.8 1289.6,377.4 1297.3,387.8 1304.9,397.9 1312.4,407.9 1319.7,417.6 1326.9,427.2 1334.0,436.6 1341.0,445.8 1347.8,454.9 1354.5,463.8 1361.2,472.5 1367.7,481.1 1374.0,489.5 1380.3,497.8 1386.5,506.0 1392.6,514.1 1398.5,522.0 1404.4,529.8 1410.1,537.5 1415.8,545.0 1421.3,552.5 1426.8,559.8 1432.2,567.1 1437.4,574.2 1442.6,581.2 1447.7,588.2 1452.7,595.0 1457.6,601.8 1462.4,608.4 1467.2,615.0 1471.8,621.5 1476.4,627.9 1480.9,634.2 1485.3,640.5 1489.7,646.7 1494.0,652.8 1498.2,658.8 1502.3,664.7 1506.4,670.6 1510.3,676.5 1514.3,682.2 1518.1,687.9 1521.9,693.5 1525.7,699.1 1529.4,704.6 1533.0,710.0 1536.5,715.4 1540.0,720.7 1543.5,726.0 1546.9,731.2 1550.2,736.4 1553.5,741.5 1556.8,746.6 1560.0,751.6 1563.1,756.5 1566.2,761.4 1569.3,766.3 1572.3,771.1 1575.2,775.9 1578.2,780.6 1581.1,785.3 1583.9,790.0 1586.7,794.6 1589.5,799.1 1592.2,803.6 1594.9,808.1 1597.6,812.6 1600.2,816.9 1602.8,821.3 1605.3,825.6 1607.8,829.9 1610.3,834.2 1612.8,838.4 1615.2,842.6 1617.6,846.7 1620.0,850.8 1622.3,854.9 1624.6,859.0 1626.9,863.0 1629.2,866.9 1631.4,870.9 1633.7,874.8 1635.9,878.7 1638.0,882.6 1640.2,886.4 1642.3,890.2" fill="none" stroke="#a9b0a6" stroke-width="1.2" stroke-dasharray="9,3"/>
<polyline points="1126.7,30.1 1140.4,50.5 1153.7,70.1 1166.7,89.0 1179.3,107.2 1191.6,124.8 1203.6,141.7 1215.2,158.1 1226.6,174.0 1237.7,189.5 1248.6,204.4 1259.2,218.9 1269.5,233.1 1279.7,246.8 1289.6,260.2 1299.2,273.2 1308.7,285.9 1317.9,298.3 1326.9,310.4 1335.7,322.2 1344.3,333.7 1352.8,345.0 1361.0,356.0 1369.0,366.8 1376.9,377.4 1384.6,387.8 1392.1,397.9 1399.4,407.9 1406.5,417.6 1413.5,427.2 1420.4,436.6 1427.0,445.8 1433.5,454.9 1439.9,463.8 1446.1,472.5 1452.2,481.1 1458.1,489.5 1463.9,497.8 1469.5,506.0 1475.1,514.1 1480.5,522.0 1485.7,529.8 1490.9,537.5 1495.9,545.0 1500.9,552.5 1505.7,559.8 1510.4,567.1 1515.1,574.2 1519.6,581.2 1524.0,588.2 1528.4,595.0 1532.6,601.8 1536.8,608.4 1540.9,615.0 1544.9,621.5 1548.8,627.9 1552.6,634.2 1556.4,640.5 1560.1,646.7 1563.7,652.8 1567.3,658.8 1570.8,664.7 1574.2,670.6 1577.6,676.5 1580.9,682.2 1584.2,687.9 1587.4,693.5 1590.6,699.1 1593.7,704.6 1596.7,710.0 1599.7,715.4 1602.7,720.7 1605.6,726.0 1608.5,731.2 1611.3,736.4 1614.1,741.5 1616.8,746.6 1619.5,751.6 1622.2,756.5 1624.8,761.4 1627.4,766.3 1629.9,771.1 1632.4,775.9 1634.9,780.6 1637.4,785.3 1639.8,790.0 1642.2,794.6 1644.5,799.1 1646.8,803.6 1649.1,808.1 1651.4,812.6 1653.6,816.9 1655.8,821.3 1658.0,825.6 1660.2,829.9 1662.3,834.2 1664.4,838.4 1666.5,842.6 1668.6,846.7 1670.6,850.8 1672.6,854.9 1674.6,859.0 1676.6,863.0 1678.5,866.9 1680.5,870.9 1682.4,874.8 1684.3,878.7 1686.1,882.6 1688.0,886.4 1689.8,890.2" fill="none" stroke="#a9b0a6" stroke-width="1.2" stroke-dasharray="9,3"/>
<polyline points="1203.5,30.1 1217.9,50.5 1232.0,70.1 1245.6,89.0 1258.8,107.2 1271.6,124.8 1284.0,141.7 1296.1,158.1 1307.8,174.0 1319.2,189.5 1330.2,204.4 1340.9,218.9 1351.3,233.1 1361.4,246.8 1371.1,260.2 1380.6,273.2 1389.8,285.9 1398.7,298.3 1407.3,310.4 1415.7,322.2 1423.8,333.7 1431.7,345.0 1439.3,356.0 1446.7,366.8 1453.9,377.4 1460.8,387.8 1467.6,397.9 1474.1,407.9 1480.5,417.6 1486.6,427.2 1492.6,436.6 1498.5,445.8 1504.1,454.9 1509.7,463.8 1515.0,472.5 1520.3,481.1 1525.3,489.5 1530.3,497.8 1535.1,506.0 1539.9,514.1 1544.5,522.0 1548.9,529.8 1553.3,537.5 1557.6,545.0 1561.8,552.5 1565.9,559.8 1569.9,567.1 1573.8,574.2 1577.6,581.2 1581.4,588.2 1585.1,595.0 1588.7,601.8 1592.2,608.4 1595.7,615.0 1599.0,621.5 1602.4,627.9 1605.6,634.2 1608.9,640.5 1612.0,646.7 1615.1,652.8 1618.2,658.8 1621.1,664.7 1624.1,670.6 1627.0,676.5 1629.8,682.2 1632.6,687.9 1635.4,693.5 1638.1,699.1 1640.8,704.6 1643.4,710.0 1646.0,715.4 1648.5,720.7 1651.1,726.0 1653.5,731.2 1656.0,736.4 1658.4,741.5 1660.8,746.6 1663.1,751.6 1665.5,756.5 1667.7,761.4 1670.0,766.3 1672.2,771.1 1674.4,775.9 1676.6,780.6 1678.7,785.3 1680.9,790.0 1683.0,794.6 1685.0,799.1 1687.1,803.6 1689.1,808.1 1691.1,812.6 1693.1,816.9 1695.0,821.3 1697.0,825.6 1698.9,829.9 1700.8,834.2 1702.7,838.4 1704.5,842.6 1706.3,846.7 1708.2,850.8 1709.9,854.9 1711.7,859.0 1713.5,863.0 1715.2,866.9 1717.0,870.9 1718.7,874.8 1720.4,878.7 1722.1,882.6 1723.7,886.4 1725.4,890.2" fill="none" stroke="#a9b0a6" stroke-width="1.2" stroke-dasharray="9,3"/>
<polyline points="1279.4,30.1 1294.2,50.5 1308.5,70.1 1322.3,89.0 1335.5,107.2 1348.2,124.8 1360.4,141.7 1372.2,158.1 1383.4,174.0 1394.3,189.5 1404.7,204.4 1414.7,218.9 1424.3,233.1 1433.5,246.8 1442.3,260.2 1450.9,273.2 1459.0,285.9 1466.9,298.3 1474.5,310.4 1481.8,322.2 1488.9,333.7 1495.7,345.0 1502.3,356.0 1508.6,366.8 1514.8,377.4 1520.7,387.8 1526.5,397.9 1532.1,407.9 1537.5,417.6 1542.7,427.2 1547.8,436.6 1552.8,445.8 1557.6,454.9 1562.3,463.8 1566.9,472.5 1571.3,481.1 1575.6,489.5 1579.9,497.8 1584.0,506.0 1588.0,514.1 1592.0,522.0 1595.8,529.8 1599.6,537.5 1603.3,545.0 1606.9,552.5 1610.4,559.8 1613.8,567.1 1617.2,574.2 1620.5,581.2 1623.8,588.2 1627.0,595.0 1630.1,601.8 1633.2,608.4 1636.2,615.0 1639.2,621.5 1642.1,627.9 1645.0,634.2 1647.8,640.5 1650.6,646.7 1653.3,652.8 1656.0,658.8 1658.6,664.7 1661.2,670.6 1663.8,676.5 1666.3,682.2 1668.8,687.9 1671.2,693.5 1673.7,699.1 1676.0,704.6 1678.4,710.0 1680.7,715.4 1683.0,720.7 1685.3,726.0 1687.5,731.2 1689.7,736.4 1691.9,741.5 1694.0,746.6 1696.1,751.6 1698.2,756.5 1700.3,761.4 1702.3,766.3 1704.3,771.1 1706.3,775.9 1708.3,780.6 1710.3,785.3 1712.2,790.0 1714.1,794.6 1716.0,799.1 1717.8,803.6 1719.7,808.1 1721.5,812.6 1723.3,816.9 1725.1,821.3 1726.9,825.6 1728.6,829.9 1730.4,834.2 1732.1,838.4 1733.8,842.6 1735.5,846.7 1737.1,850.8 1738.8,854.9 1740.4,859.0 1742.1,863.0 1743.7,866.9 1745.3,870.9 1746.8,874.8 1748.4,878.7 1750.0,882.6 1751.5,886.4 1753.0,890.2" fill="none" stroke="#a9b0a6" stroke-width="1.2" stroke-dasharray="9,3"/>
<polyline points="1351.1,30.1 1365.4,50.5 1379.0,70.1 1391.9,89.0 1404.2,107.2 1415.9,124.8 1426.9,141.7 1437.5,158.1 1447.5,174.0 1457.0,189.5 1466.1,204.4 1474.8,218.9 1483.1,233.1 1491.0,246.8 1498.7,260.2 1505.9,273.2 1513.0,285.9 1519.7,298.3 1526.2,310.4 1532.4,322.2 1538.4,333.7 1544.2,345.0 1549.9,356.0 1555.3,366.8 1560.5,377.4 1565.6,387.8 1570.6,397.9 1575.4,407.9 1580.1,417.6 1584.6,427.2 1589.0,436.6 1593.3,445.8 1597.5,454.9 1601.6,463.8 1605.6,472.5 1609.5,481.1 1613.3,489.5 1617.0,497.8 1620.6,506.0 1624.1,514.1 1627.6,522.0 1631.0,529.8 1634.4,537.5 1637.6,545.0 1640.8,552.5 1644.0,559.8 1647.1,567.1 1650.1,574.2 1653.1,581.2 1656.0,588.2 1658.8,595.0 1661.7,601.8 1664.4,608.4 1667.2,615.0 1669.8,621.5 1672.5,627.9 1675.1,634.2 1677.6,640.5 1680.2,646.7 1682.6,652.8 1685.1,658.8 1687.5,664.7 1689.9,670.6 1692.2,676.5 1694.5,682.2 1696.8,687.9 1699.0,693.5 1701.3,699.1 1703.5,704.6 1705.6,710.0 1707.8,715.4 1709.9,720.7 1711.9,726.0 1714.0,731.2 1716.0,736.4 1718.0,741.5 1720.0,746.6 1722.0,751.6 1723.9,756.5 1725.8,761.4 1727.7,766.3 1729.6,771.1 1731.5,775.9 1733.3,780.6 1735.1,785.3 1736.9,790.0 1738.7,794.6 1740.5,799.1 1742.2,803.6 1743.9,808.1 1745.6,812.6 1747.3,816.9 1749.0,821.3 1750.6,825.6 1752.3,829.9 1753.9,834.2 1755.5,838.4 1757.1,842.6 1758.7,846.7 1760.3,850.8 1761.8,854.9 1763.4,859.0 1764.9,863.0 1766.4,866.9 1767.9,870.9 1769.4,874.8 1770.9,878.7 1772.4,882.6 1773.8,886.4 1775.3,890.2" fill="none" stroke="#a9b0a6" stroke-width="1.2" stroke-dasharray="9,3"/>
<polyline points="1413.3,30.1 1426.1,50.5 1438.1,70.1 1449.5,89.0 1460.1,107.2 1470.2,124.8 1479.8,141.7 1488.8,158.1 1497.4,174.0 1505.6,189.5 1513.4,204.4 1520.8,218.9 1527.9,233.1 1534.7,246.8 1541.3,260.2 1547.5,273.2 1553.6,285.9 1559.4,298.3 1565.0,310.4 1570.5,322.2 1575.7,333.7 1580.8,345.0 1585.7,356.0 1590.5,366.8 1595.1,377.4 1599.6,387.8 1604.0,397.9 1608.3,407.9 1612.4,417.6 1616.5,427.2 1620.4,436.6 1624.2,445.8 1628.0,454.9 1631.7,463.8 1635.3,472.5 1638.8,481.1 1642.2,489.5 1645.6,497.8 1648.9,506.0 1652.1,514.1 1655.3,522.0 1658.4,529.8 1661.4,537.5 1664.4,545.0 1667.3,552.5 1670.2,559.8 1673.0,567.1 1675.8,574.2 1678.6,581.2 1681.2,588.2 1683.9,595.0 1686.5,601.8 1689.1,608.4 1691.6,615.0 1694.1,621.5 1696.5,627.9 1698.9,634.2 1701.3,640.5 1703.7,646.7 1706.0,652.8 1708.3,658.8 1710.5,664.7 1712.7,670.6 1714.9,676.5 1717.1,682.2 1719.2,687.9 1721.3,693.5 1723.4,699.1 1725.5,704.6 1727.5,710.0 1729.5,715.4 1731.5,720.7 1733.4,726.0 1735.4,731.2 1737.3,736.4 1739.2,741.5 1741.1,746.6 1742.9,751.6 1744.7,756.5 1746.6,761.4 1748.3,766.3 1750.1,771.1 1751.9,775.9 1753.6,780.6 1755.3,785.3 1757.0,790.0 1758.7,794.6 1760.4,799.1 1762.1,803.6 1763.7,808.1 1765.3,812.6 1766.9,816.9 1768.5,821.3 1770.1,825.6 1771.7,829.9 1773.2,834.2 1774.8,838.4 1776.3,842.6 1777.8,846.7 1779.3,850.8 1780.8,854.9 1782.2,859.0 1783.7,863.0 1785.2,866.9 1786.6,870.9 1788.0,874.8 1789.4,878.7 1790.8,882.6 1792.2,886.4 1793.6,890.2" fill="none" stroke="#a9b0a6" stroke-width="1.2" stroke-dasharray="9,3"/>
<polyline points="1462.9,30.1 1473.9,50.5 1484.3,70.1 1494.0,89.0 1503.2,107.2 1511.8,124.8 1520.1,141.7 1527.9,158.1 1535.3,174.0 1542.4,189.5 1549.2,204.4 1555.7,218.9 1562.0,233.1 1568.0,246.8 1573.7,260.2 1579.3,273.2 1584.7,285.9 1589.9,298.3 1594.9,310.4 1599.8,322.2 1604.5,333.7 1609.0,345.0 1613.5,356.0 1617.8,366.8 1622.0,377.4 1626.1,387.8 1630.1,397.9 1634.0,407.9 1637.8,417.6 1641.5,427.2 1645.1,436.6 1648.6,445.8 1652.1,454.9 1655.5,463.8 1658.8,472.5 1662.1,481.1 1665.2,489.5 1668.4,497.8 1671.4,506.0 1674.4,514.1 1677.4,522.0 1680.3,529.8 1683.1,537.5 1685.9,545.0 1688.6,552.5 1691.3,559.8 1694.0,567.1 1696.6,574.2 1699.2,581.2 1701.7,588.2 1704.2,595.0 1706.7,601.8 1709.1,608.4 1711.5,615.0 1713.8,621.5 1716.1,627.9 1718.4,634.2 1720.7,640.5 1722.9,646.7 1725.1,652.8 1727.2,658.8 1729.4,664.7 1731.5,670.6 1733.6,676.5 1735.6,682.2 1737.6,687.9 1739.7,693.5 1741.6,699.1 1743.6,704.6 1745.5,710.0 1747.4,715.4 1749.3,720.7 1751.2,726.0 1753.1,731.2 1754.9,736.4 1756.7,741.5 1758.5,746.6 1760.3,751.6 1762.0,756.5 1763.8,761.4 1765.5,766.3 1767.2,771.1 1768.9,775.9 1770.5,780.6 1772.2,785.3 1773.8,790.0 1775.4,794.6 1777.1,799.1 1778.6,803.6 1780.2,808.1 1781.8,812.6 1783.3,816.9 1784.9,821.3 1786.4,825.6 1787.9,829.9 1789.4,834.2 1790.9,838.4 1792.3,842.6 1793.8,846.7 1795.2,850.8 1796.7,854.9 1798.1,859.0 1799.5,863.0 1800.9,866.9 1802.3,870.9 1803.7,874.8 1805.0,878.7 1806.4,882.6 1807.7,886.4 1809.1,890.2" fill="none" stroke="#a9b0a6" stroke-width="1.2" stroke-dasharray="9,3"/>
<polyline points="1501.0,30.1 1510.6,50.5 1519.6,70.1 1528.1,89.0 1536.1,107.2 1543.8,124.8 1551.0,141.7 1558.0,158.1 1564.6,174.0 1571.0,189.5 1577.0,204.4 1582.9,218.9 1588.5,233.1 1594.0,246.8 1599.2,260.2 1604.3,273.2 1609.2,285.9 1613.9,298.3 1618.5,310.4 1623.0,322.2 1627.3,333.7 1631.6,345.0 1635.7,356.0 1639.7,366.8 1643.6,377.4 1647.4,387.8 1651.1,397.9 1654.7,407.9 1658.3,417.6 1661.7,427.2 1665.1,436.6 1668.5,445.8 1671.7,454.9 1674.9,463.8 1678.0,472.5 1681.1,481.1 1684.1,489.5 1687.0,497.8 1689.9,506.0 1692.8,514.1 1695.5,522.0 1698.3,529.8 1701.0,537.5 1703.6,545.0 1706.3,552.5 1708.8,559.8 1711.3,567.1 1713.8,574.2 1716.3,581.2 1718.7,588.2 1721.1,595.0 1723.4,601.8 1725.7,608.4 1728.0,615.0 1730.3,621.5 1732.5,627.9 1734.7,634.2 1736.8,640.5 1739.0,646.7 1741.1,652.8 1743.1,658.8 1745.2,664.7 1747.2,670.6 1749.2,676.5 1751.2,682.2 1753.1,687.9 1755.1,693.5 1757.0,699.1 1758.9,704.6 1760.7,710.0 1762.6,715.4 1764.4,720.7 1766.2,726.0 1768.0,731.2 1769.8,736.4 1771.5,741.5 1773.3,746.6 1775.0,751.6 1776.7,756.5 1778.3,761.4 1780.0,766.3 1781.7,771.1 1783.3,775.9 1784.9,780.6 1786.5,785.3 1788.1,790.0 1789.7,794.6 1791.2,799.1 1792.8,803.6 1794.3,808.1 1795.8,812.6 1797.3,816.9 1798.8,821.3 1800.3,825.6 1801.7,829.9 1803.2,834.2 1804.6,838.4 1806.1,842.6 1807.5,846.7 1808.9,850.8 1810.3,854.9 1811.7,859.0 1813.0,863.0 1814.4,866.9 1815.7,870.9 1817.1,874.8 1818.4,878.7 1819.7,882.6 1821.0,886.4 1822.3,890.2" fill="none" stroke="#a9b0a6" stroke-width="1.2" stroke-dasharray="9,3"/>
<polyline points="1530.5,30.1 1539.0,50.5 1547.1,70.1 1554.7,89.0 1562.0,107.2 1568.9,124.8 1575.5,141.7 1581.8,158.1 1587.8,174.0 1593.6,189.5 1599.2,204.4 1604.6,218.9 1609.8,233.1 1614.9,246.8 1619.7,260.2 1624.5,273.2 1629.0,285.9 1633.5,298.3 1637.8,310.4 1642.0,322.2 1646.0,333.7 1650.0,345.0 1653.9,356.0 1657.7,366.8 1661.3,377.4 1664.9,387.8 1668.5,397.9 1671.9,407.9 1675.3,417.6 1678.6,427.2 1681.8,436.6 1684.9,445.8 1688.0,454.9 1691.1,463.8 1694.0,472.5 1697.0,481.1 1699.8,489.5 1702.7,497.8 1705.4,506.0 1708.2,514.1 1710.8,522.0 1713.5,529.8 1716.1,537.5 1718.6,545.0 1721.1,552.5 1723.6,559.8 1726.0,567.1 1728.4,574.2 1730.8,581.2 1733.1,588.2 1735.4,595.0 1737.7,601.8 1739.9,608.4 1742.1,615.0 1744.3,621.5 1746.4,627.9 1748.5,634.2 1750.6,640.5 1752.7,646.7 1754.7,652.8 1756.7,658.8 1758.7,664.7 1760.7,670.6 1762.6,676.5 1764.5,682.2 1766.4,687.9 1768.3,693.5 1770.1,699.1 1772.0,704.6 1773.8,710.0 1775.6,715.4 1777.4,720.7 1779.1,726.0 1780.8,731.2 1782.6,736.4 1784.3,741.5 1786.0,746.6 1787.6,751.6 1789.3,756.5 1790.9,761.4 1792.5,766.3 1794.1,771.1 1795.7,775.9 1797.3,780.6 1798.9,785.3 1800.4,790.0 1801.9,794.6 1803.5,799.1 1805.0,803.6 1806.5,808.1 1807.9,812.6 1809.4,816.9 1810.9,821.3 1812.3,825.6 1813.7,829.9 1815.1,834.2 1816.6,838.4 1818.0,842.6 1819.3,846.7 1820.7,850.8 1822.1,854.9 1823.4,859.0 1824.8,863.0 1826.1,866.9 1827.4,870.9 1828.7,874.8 1830.0,878.7 1831.3,882.6 1832.6,886.4 1833.9,890.2" fill="none" stroke="#a9b0a6" stroke-width="1.2" stroke-dasharray="9,3"/>
<polyline points="1281.0,395.4 1282.5,410.2 1285.2,438.2 1287.9,466.2 1290.6,494.3 1293.3,522.3 1296.0,550.4 1298.8,578.5 1301.6,606.5 1304.3,634.5 1307.1,662.6 1309.9,690.7 1312.7,718.7 1315.6,746.7 1318.4,774.8 1321.2,802.9 1324.1,830.9 1327.0,859.0 1329.8,887.0" fill="none" stroke="#bfc6bd" stroke-width="1.1" stroke-dasharray="8,4"/>
<polyline points="1315.4,395.4 1316.9,410.2 1319.7,438.2 1322.6,466.2 1325.4,494.3 1328.3,522.3 1331.2,550.4 1334.1,578.5 1337.0,606.5 1339.9,634.5 1342.9,662.6 1345.8,690.7 1348.8,718.7 1351.7,746.7 1354.7,774.8 1357.7,802.9 1360.7,830.9 1363.7,859.0 1366.8,887.0" fill="none" stroke="#bfc6bd" stroke-width="1.1" stroke-dasharray="8,4"/>
<polyline points="1351.6,395.4 1353.1,410.2 1356.1,438.2 1359.1,466.2 1362.1,494.3 1365.2,522.3 1368.2,550.4 1371.3,578.5 1374.3,606.5 1377.4,634.5 1380.5,662.6 1383.6,690.7 1386.7,718.7 1389.9,746.7 1393.0,774.8 1396.2,802.9 1399.3,830.9 1402.5,859.0 1405.7,887.0" fill="none" stroke="#bfc6bd" stroke-width="1.1" stroke-dasharray="8,4"/>
<polyline points="1402.4,395.4 1404.1,410.2 1407.3,438.2 1410.5,466.2 1413.7,494.3 1417.0,522.3 1420.3,550.4 1423.5,578.5 1426.8,606.5 1430.1,634.5 1433.5,662.6 1436.8,690.7 1440.2,718.7 1443.5,746.7 1446.9,774.8 1450.3,802.9 1453.7,830.9 1457.2,859.0 1460.6,887.0" fill="none" stroke="#bfc6bd" stroke-width="1.1" stroke-dasharray="8,4"/>
<polyline points="1443.3,395.4 1445.1,410.2 1448.5,438.2 1451.9,466.2 1455.3,494.3 1458.7,522.3 1462.2,550.4 1465.7,578.5 1469.2,606.5 1472.7,634.5 1476.2,662.6 1479.7,690.7 1483.3,718.7 1486.8,746.7 1490.4,774.8 1494.0,802.9 1497.6,830.9 1501.3,859.0 1504.9,887.0" fill="none" stroke="#bfc6bd" stroke-width="1.1" stroke-dasharray="8,4"/>
<polyline points="1468.3,395.4 1470.1,410.2 1473.7,438.2 1477.2,466.2 1480.7,494.3 1484.3,522.3 1487.8,550.4 1491.4,578.5 1495.0,606.5 1498.7,634.5 1502.3,662.6 1505.9,690.7 1509.6,718.7 1513.3,746.7 1517.0,774.8 1520.7,802.9 1524.5,830.9 1528.2,859.0 1532.0,887.0" fill="none" stroke="#bfc6bd" stroke-width="1.1" stroke-dasharray="8,4"/>
<polyline points="1486.5,395.4 1488.4,410.2 1492.0,438.2 1495.6,466.2 1499.2,494.3 1502.9,522.3 1506.5,550.4 1510.2,578.5 1513.9,606.5 1517.6,634.5 1521.3,662.6 1525.1,690.7 1528.9,718.7 1532.6,746.7 1536.4,774.8 1540.3,802.9 1544.1,830.9 1547.9,859.0 1551.8,887.0" fill="none" stroke="#bfc6bd" stroke-width="1.1" stroke-dasharray="8,4"/>
<polyline points="1513.0,395.4 1514.9,410.2 1518.6,438.2 1522.4,466.2 1526.1,494.3 1529.9,522.3 1533.7,550.4 1537.5,578.5 1541.3,606.5 1545.1,634.5 1549.0,662.6 1552.9,690.7 1556.8,718.7 1560.7,746.7 1564.6,774.8 1568.6,802.9 1572.5,830.9 1576.5,859.0 1580.5,887.0" fill="none" stroke="#bfc6bd" stroke-width="1.1" stroke-dasharray="8,4"/>
<polyline points="1532.2,395.4 1534.2,410.2 1538.0,438.2 1541.8,466.2 1545.7,494.3 1549.6,522.3 1553.4,550.4 1557.3,578.5 1561.3,606.5 1565.2,634.5 1569.1,662.6 1573.1,690.7 1577.1,718.7 1581.1,746.7 1585.2,774.8 1589.2,802.9 1593.3,830.9 1597.9,859.0 1602.5,887.0" fill="none" stroke="#bfc6bd" stroke-width="1.1" stroke-dasharray="8,4"/>
<polyline points="1560.1,395.4 1562.2,410.2 1566.1,438.2 1570.1,466.2 1574.1,494.3 1578.1,522.3 1582.1,550.4 1586.1,578.5 1590.2,606.5 1594.3,634.5 1599.0,662.6 1603.7,690.7 1608.4,718.7 1613.1,746.7 1617.9,774.8 1622.7,802.9 1627.5,830.9 1632.4,859.0 1637.3,887.0" fill="none" stroke="#bfc6bd" stroke-width="1.1" stroke-dasharray="8,4"/>
<polyline points="1580.5,395.4 1582.6,410.2 1586.6,438.2 1590.7,466.2 1594.9,494.3 1599.5,522.3 1604.2,550.4 1608.9,578.5 1613.7,606.5 1618.5,634.5 1623.3,662.6 1628.1,690.7 1633.0,718.7 1637.9,746.7 1642.8,774.8 1647.8,802.9 1652.8,830.9 1657.9,859.0 1662.9,887.0" fill="none" stroke="#bfc6bd" stroke-width="1.1" stroke-dasharray="8,4"/>
<polyline points="1612.1,395.4 1614.6,410.2 1619.4,438.2 1624.2,466.2 1629.0,494.3 1633.9,522.3 1638.8,550.4 1643.8,578.5 1648.7,606.5 1653.7,634.5 1658.8,662.6 1663.9,690.7 1669.0,718.7 1674.1,746.7 1679.3,774.8 1684.5,802.9 1689.7,830.9 1695.0,859.0 1700.3,887.0" fill="none" stroke="#bfc6bd" stroke-width="1.1" stroke-dasharray="8,4"/>
<polyline points="1636.5,395.4 1639.1,410.2 1644.1,438.2 1649.0,466.2 1654.1,494.3 1659.1,522.3 1664.2,550.4 1669.3,578.5 1674.4,606.5 1679.6,634.5 1684.8,662.6 1690.1,690.7 1695.4,718.7 1700.7,746.7 1706.0,774.8 1711.4,802.9 1716.8,830.9 1722.3,859.0 1727.8,887.0" fill="none" stroke="#bfc6bd" stroke-width="1.1" stroke-dasharray="8,4"/>
<polyline points="1656.0,395.4 1658.6,410.2 1663.7,438.2 1668.8,466.2 1673.9,494.3 1679.1,522.3 1684.3,550.4 1689.6,578.5 1694.8,606.5 1700.2,634.5 1705.5,662.6 1710.9,690.7 1716.3,718.7 1721.8,746.7 1727.3,774.8 1732.8,802.9 1738.4,830.9 1744.0,859.0 1749.7,887.0" fill="none" stroke="#bfc6bd" stroke-width="1.1" stroke-dasharray="8,4"/>
<polyline points="1672.1,395.4 1674.8,410.2 1680.0,438.2 1685.2,466.2 1690.5,494.3 1695.7,522.3 1701.1,550.4 1706.4,578.5 1711.8,606.5 1717.2,634.5 1722.7,662.6 1728.2,690.7 1733.8,718.7 1739.3,746.7 1745.0,774.8 1750.6,802.9 1756.3,830.9 1762.0,859.0 1767.8,887.0" fill="none" stroke="#bfc6bd" stroke-width="1.1" stroke-dasharray="8,4"/>
<polyline points="1692.2,395.4 1694.9,410.2 1700.3,438.2 1705.6,466.2 1711.0,494.3 1716.4,522.3 1721.9,550.4 1727.4,578.5 1732.9,606.5 1738.5,634.5 1744.1,662.6 1749.8,690.7 1755.5,718.7 1761.2,746.7 1767.0,774.8 1772.8,802.9 1778.6,830.9 1784.5,859.0 1790.5,887.0" fill="none" stroke="#bfc6bd" stroke-width="1.1" stroke-dasharray="8,4"/>
<text x="1303.1" y="723.6" font-size="17.9" fill="#a7aea5" textLength="18.9" lengthAdjust="spacingAndGlyphs">0.05</text>
<text x="1341.3" y="723.6" font-size="17.9" fill="#a7aea5" textLength="14.7" lengthAdjust="spacingAndGlyphs">0.1</text>
<text x="1379.2" y="723.6" font-size="17.9" fill="#a7aea5" textLength="14.7" lengthAdjust="spacingAndGlyphs">0.2</text>
<text x="1432.7" y="723.6" font-size="17.9" fill="#a7aea5" textLength="14.7" lengthAdjust="spacingAndGlyphs">0.5</text>
<text x="1479.9" y="723.6" font-size="17.9" fill="#a7aea5" textLength="6.3" lengthAdjust="spacingAndGlyphs">1</text>
<text x="1502.1" y="723.6" font-size="17.9" fill="#a7aea5" textLength="14.7" lengthAdjust="spacingAndGlyphs">1.5</text>
<text x="1525.5" y="723.6" font-size="17.9" fill="#a7aea5" textLength="6.3" lengthAdjust="spacingAndGlyphs">2</text>
<text x="1553.4" y="723.6" font-size="17.9" fill="#a7aea5" textLength="6.3" lengthAdjust="spacingAndGlyphs">3</text>
<text x="1573.8" y="723.6" font-size="17.9" fill="#a7aea5" textLength="6.3" lengthAdjust="spacingAndGlyphs">4</text>
<text x="1605.0" y="723.6" font-size="17.9" fill="#a7aea5" textLength="6.3" lengthAdjust="spacingAndGlyphs">6</text>
<text x="1629.6" y="723.6" font-size="17.9" fill="#a7aea5" textLength="6.3" lengthAdjust="spacingAndGlyphs">8</text>
<text x="1663.5" y="723.6" font-size="17.9" fill="#a7aea5" textLength="10.5" lengthAdjust="spacingAndGlyphs">12</text>
<text x="1689.9" y="723.6" font-size="17.9" fill="#a7aea5" textLength="10.5" lengthAdjust="spacingAndGlyphs">16</text>
<text x="1710.8" y="723.6" font-size="17.9" fill="#a7aea5" textLength="10.5" lengthAdjust="spacingAndGlyphs">20</text>
<text x="1728.3" y="723.6" font-size="17.9" fill="#a7aea5" textLength="10.5" lengthAdjust="spacingAndGlyphs">24</text>
<text x="1749.9" y="723.6" font-size="17.9" fill="#a7aea5" textLength="10.5" lengthAdjust="spacingAndGlyphs">30</text>
<text transform="translate(1149.0,727.0) rotate(-58.0)" text-anchor="middle" font-size="13.5" fill="#86b482" textLength="17.0" lengthAdjust="spacingAndGlyphs" y="4.5">-60</text>
<text transform="translate(1088.0,727.0) rotate(-58.0)" text-anchor="middle" font-size="13.5" fill="#a3aa9f" textLength="17.0" lengthAdjust="spacingAndGlyphs" y="4.5">-70</text>
<text transform="translate(1068.0,786.0) rotate(-58.0)" text-anchor="middle" font-size="13.5" fill="#86b482" textLength="17.0" lengthAdjust="spacingAndGlyphs" y="4.5">-80</text>
<text transform="translate(1163.8,673.6) rotate(-58.0)" text-anchor="middle" font-size="13.5" fill="#e3a5ab" textLength="17.0" lengthAdjust="spacingAndGlyphs" y="4.5">-50</text>
<text transform="translate(1222.9,676.7) rotate(-58.0)" text-anchor="middle" font-size="13.5" fill="#86b482" textLength="17.0" lengthAdjust="spacingAndGlyphs" y="4.5">-40</text>
<text transform="translate(1236.9,623.8) rotate(-58.0)" text-anchor="middle" font-size="13.5" fill="#e3a5ab" textLength="17.0" lengthAdjust="spacingAndGlyphs" y="4.5">-30</text>
<text transform="translate(1291.4,628.5) rotate(-58.0)" text-anchor="middle" font-size="13.5" fill="#86b482" textLength="17.0" lengthAdjust="spacingAndGlyphs" y="4.5">-20</text>
<text transform="translate(1306.9,572.5) rotate(-58.0)" text-anchor="middle" font-size="13.5" fill="#e3a5ab" textLength="17.0" lengthAdjust="spacingAndGlyphs" y="4.5">-10</text>
<text transform="translate(1359.8,589.6) rotate(-58.0)" text-anchor="middle" font-size="13.5" fill="#a3aa9f" textLength="7.0" lengthAdjust="spacingAndGlyphs" y="4.5">0</text>
<text transform="translate(1372.3,532.0) rotate(-58.0)" text-anchor="middle" font-size="13.5" fill="#e3a5ab" textLength="13.0" lengthAdjust="spacingAndGlyphs" y="4.5">10</text>
<text transform="translate(1420.5,542.9) rotate(-58.0)" text-anchor="middle" font-size="13.5" fill="#86b482" textLength="13.0" lengthAdjust="spacingAndGlyphs" y="4.5">20</text>
<text transform="translate(1436.0,486.9) rotate(-58.0)" text-anchor="middle" font-size="13.5" fill="#e3a5ab" textLength="13.0" lengthAdjust="spacingAndGlyphs" y="4.5">30</text>
<text transform="translate(1473.4,510.2) rotate(-58.0)" text-anchor="middle" font-size="13.5" fill="#86b482" textLength="13.0" lengthAdjust="spacingAndGlyphs" y="4.5">40</text>
<text transform="translate(1493.6,451.1) rotate(-58.0)" text-anchor="middle" font-size="13.5" fill="#e3a5ab" textLength="13.0" lengthAdjust="spacingAndGlyphs" y="4.5">50</text>
<text transform="translate(1521.6,476.0) rotate(-58.0)" text-anchor="middle" font-size="13.5" fill="#86b482" textLength="13.0" lengthAdjust="spacingAndGlyphs" y="4.5">60</text>
<text transform="translate(1555.8,454.2) rotate(-58.0)" text-anchor="middle" font-size="13.5" fill="#a3aa9f" textLength="13.0" lengthAdjust="spacingAndGlyphs" y="4.5">80</text>
<text transform="translate(1611.4,366.3) rotate(-58.0)" text-anchor="middle" font-size="13.5" fill="#e3a5ab" textLength="13.0" lengthAdjust="spacingAndGlyphs" y="4.5">90</text>
<text transform="translate(1664.3,319.7) rotate(-58.0)" text-anchor="middle" font-size="13.5" fill="#e3a5ab" textLength="18.0" lengthAdjust="spacingAndGlyphs" y="4.5">110</text>
<text transform="translate(1720.3,282.3) rotate(-58.0)" text-anchor="middle" font-size="13.5" fill="#e3a5ab" textLength="18.0" lengthAdjust="spacingAndGlyphs" y="4.5">150</text>
<text transform="translate(1770.1,249.6) rotate(-58.0)" text-anchor="middle" font-size="13.5" fill="#e3a5ab" textLength="18.0" lengthAdjust="spacingAndGlyphs" y="4.5">170</text>
<text transform="translate(1636.0,399.0) rotate(-36.0)" text-anchor="middle" font-size="13.5" fill="#a3aa9f" textLength="82.0" lengthAdjust="spacingAndGlyphs" y="4.5">120 140 160 180</text>
<rect x="1048.5" y="708.5" width="848.5" height="7.0" fill="#dff0d6" stroke="#b9ccb4" stroke-width="1" style="mix-blend-mode:multiply"/>
<rect x="1048.5" y="783.6" width="848.5" height="31.4" fill="#dff0d6" stroke="#b9ccb4" stroke-width="1" style="mix-blend-mode:multiply"/>
<clipPath id="cuB"><rect x="0" y="0" width="2000" height="750.0"/></clipPath>
<clipPath id="cdB"><rect x="0" y="750.0" width="2000" height="214.0"/></clipPath>
<polygon points="1383.8,45.5 1390.5,55.5 1397.1,65.3 1403.5,74.9 1409.7,84.3 1415.8,93.6 1421.6,102.7 1427.4,111.6 1432.9,120.4 1438.4,129.1 1443.6,137.5 1448.8,145.9 1453.8,154.1 1458.7,162.2 1463.4,170.1 1468.1,177.9 1472.6,185.6 1477.0,193.2 1481.3,200.7 1485.6,208.1 1489.7,215.4 1493.7,222.5 1497.6,229.6 1501.5,236.5 1505.3,243.4 1508.9,250.2 1512.5,256.9 1516.1,263.5 1519.5,270.0 1522.9,276.4 1526.2,282.8 1529.5,289.0 1532.7,295.2 1535.8,301.3 1538.9,307.4 1541.9,313.4 1544.9,319.3 1547.8,325.1 1550.7,330.9 1553.5,336.6 1556.3,342.2 1559.0,347.8 1561.7,353.3 1564.3,358.8 1566.9,364.2 1569.5,369.5 1572.0,374.8 1574.4,380.0 1576.9,385.2 1579.3,390.3 1581.6,395.4 1584.0,400.4 1586.3,405.4 1588.5,410.3 1590.8,415.2 1593.0,420.0 1595.1,424.8 1597.3,429.6 1599.4,434.3 1601.5,438.9 1603.6,443.5 1605.6,448.1 1607.6,452.6 1609.6,457.1 1611.6,461.5 1613.5,466.0 1615.4,470.3 1617.3,474.7 1619.2,479.0 1621.0,483.2 1622.9,487.4 1624.7,491.6 1626.5,495.8 1628.2,499.9 1630.0,504.0 1631.7,508.0 1633.4,512.1 1635.1,516.1 1636.8,520.0 1638.5,523.9 1640.1,527.8 1641.7,531.7 1643.4,535.5 1645.0,539.4 1646.5,543.1 1648.1,546.9 1649.7,550.6 1651.2,554.3 1652.7,558.0 1654.2,561.6 1655.7,565.3 1657.2,568.8 1658.7,572.4 1660.1,576.0 1661.6,579.5 1663.0,583.0 1664.4,586.4 1665.8,589.9 1667.2,593.3 1668.6,596.7 1669.9,600.1 1671.3,603.4 1672.7,606.8 1674.0,610.1 1675.3,613.4 1676.6,616.6 1677.9,619.9 1679.2,623.1 1680.5,626.3 1681.8,629.5 1683.0,632.7 1684.3,635.8 1685.5,638.9 1686.8,642.0 1688.0,645.1 1689.2,648.2 1690.4,651.2 1691.6,654.3 1692.8,657.3 1694.0,660.3 1695.2,663.3 1696.4,666.2 1697.5,669.2 1698.7,672.1 1699.8,675.0 1700.9,677.9 1702.1,680.8 1703.2,683.6 1704.3,686.5 1705.4,689.3 1706.5,692.1 1707.6,694.9 1708.7,697.7 1709.8,700.5 1710.8,703.2 1711.9,705.9 1712.9,708.7 1714.0,711.4 1715.0,714.1 1716.1,716.7 1717.1,719.4 1718.1,722.1 1719.1,724.7 1720.2,727.3 1721.2,729.9 1722.2,732.5 1723.2,735.1 1724.1,737.7 1725.1,740.2 1726.1,742.8 1726.6,744.0 1734.0,754.5 1739.0,764.9 1744.2,774.2 1749.4,789.8 1757.7,804.3 1761.8,817.8 1784.6,852.0 1774.3,841.7 1766.0,831.3 1761.8,817.8 1757.7,804.3 1749.4,789.8 1744.2,774.2 1739.0,764.9 1734.0,754.5 1728.8,745.2 1720.5,736.9 1706.0,720.3 1700.8,710.0 1701.8,701.7 1697.7,689.2 1685.2,678.8 1683.2,672.6 1668.6,645.6 1656.2,624.9 1649.7,615.0 1647.9,608.3 1642.4,600.5 1639.3,592.2 1629.0,577.7 1620.7,567.3 1615.5,554.9 1614.4,544.5 1606.1,517.5 1599.9,509.2 1596.8,500.9 1591.6,492.6 1579.2,473.9 1566.7,459.4 1558.4,447.0 1552.2,432.4 1546.9,427.1 1536.5,408.4 1525.1,396.0 1519.9,383.5 1515.8,366.9 1505.4,350.3 1505.4,342.0 1499.2,327.5 1495.0,317.1 1486.7,302.6 1474.3,286.0 1476.3,271.5 1459.8,249.7 1450.3,240.0 1441.1,230.0 1435.8,218.4 1419.2,201.8 1400.5,172.8 1388.0,159.3 1383.9,150.0 1369.4,127.1 1352.8,102.2 1336.2,77.3 1321.7,58.7 1313.4,47.3" fill="#ff7b4d" fill-opacity="0.88" stroke="none" clip-path="url(#cuB)"/>
<polygon points="1383.8,45.5 1390.5,55.5 1397.1,65.3 1403.5,74.9 1409.7,84.3 1415.8,93.6 1421.6,102.7 1427.4,111.6 1432.9,120.4 1438.4,129.1 1443.6,137.5 1448.8,145.9 1453.8,154.1 1458.7,162.2 1463.4,170.1 1468.1,177.9 1472.6,185.6 1477.0,193.2 1481.3,200.7 1485.6,208.1 1489.7,215.4 1493.7,222.5 1497.6,229.6 1501.5,236.5 1505.3,243.4 1508.9,250.2 1512.5,256.9 1516.1,263.5 1519.5,270.0 1522.9,276.4 1526.2,282.8 1529.5,289.0 1532.7,295.2 1535.8,301.3 1538.9,307.4 1541.9,313.4 1544.9,319.3 1547.8,325.1 1550.7,330.9 1553.5,336.6 1556.3,342.2 1559.0,347.8 1561.7,353.3 1564.3,358.8 1566.9,364.2 1569.5,369.5 1572.0,374.8 1574.4,380.0 1576.9,385.2 1579.3,390.3 1581.6,395.4 1584.0,400.4 1586.3,405.4 1588.5,410.3 1590.8,415.2 1593.0,420.0 1595.1,424.8 1597.3,429.6 1599.4,434.3 1601.5,438.9 1603.6,443.5 1605.6,448.1 1607.6,452.6 1609.6,457.1 1611.6,461.5 1613.5,466.0 1615.4,470.3 1617.3,474.7 1619.2,479.0 1621.0,483.2 1622.9,487.4 1624.7,491.6 1626.5,495.8 1628.2,499.9 1630.0,504.0 1631.7,508.0 1633.4,512.1 1635.1,516.1 1636.8,520.0 1638.5,523.9 1640.1,527.8 1641.7,531.7 1643.4,535.5 1645.0,539.4 1646.5,543.1 1648.1,546.9 1649.7,550.6 1651.2,554.3 1652.7,558.0 1654.2,561.6 1655.7,565.3 1657.2,568.8 1658.7,572.4 1660.1,576.0 1661.6,579.5 1663.0,583.0 1664.4,586.4 1665.8,589.9 1667.2,593.3 1668.6,596.7 1669.9,600.1 1671.3,603.4 1672.7,606.8 1674.0,610.1 1675.3,613.4 1676.6,616.6 1677.9,619.9 1679.2,623.1 1680.5,626.3 1681.8,629.5 1683.0,632.7 1684.3,635.8 1685.5,638.9 1686.8,642.0 1688.0,645.1 1689.2,648.2 1690.4,651.2 1691.6,654.3 1692.8,657.3 1694.0,660.3 1695.2,663.3 1696.4,666.2 1697.5,669.2 1698.7,672.1 1699.8,675.0 1700.9,677.9 1702.1,680.8 1703.2,683.6 1704.3,686.5 1705.4,689.3 1706.5,692.1 1707.6,694.9 1708.7,697.7 1709.8,700.5 1710.8,703.2 1711.9,705.9 1712.9,708.7 1714.0,711.4 1715.0,714.1 1716.1,716.7 1717.1,719.4 1718.1,722.1 1719.1,724.7 1720.2,727.3 1721.2,729.9 1722.2,732.5 1723.2,735.1 1724.1,737.7 1725.1,740.2 1726.1,742.8 1726.6,744.0 1734.0,754.5 1739.0,764.9 1744.2,774.2 1749.4,789.8 1757.7,804.3 1761.8,817.8 1784.6,852.0 1774.3,841.7 1766.0,831.3 1761.8,817.8 1757.7,804.3 1749.4,789.8 1744.2,774.2 1739.0,764.9 1734.0,754.5 1728.8,745.2 1720.5,736.9 1706.0,720.3 1700.8,710.0 1701.8,701.7 1697.7,689.2 1685.2,678.8 1683.2,672.6 1668.6,645.6 1656.2,624.9 1649.7,615.0 1647.9,608.3 1642.4,600.5 1639.3,592.2 1629.0,577.7 1620.7,567.3 1615.5,554.9 1614.4,544.5 1606.1,517.5 1599.9,509.2 1596.8,500.9 1591.6,492.6 1579.2,473.9 1566.7,459.4 1558.4,447.0 1552.2,432.4 1546.9,427.1 1536.5,408.4 1525.1,396.0 1519.9,383.5 1515.8,366.9 1505.4,350.3 1505.4,342.0 1499.2,327.5 1495.0,317.1 1486.7,302.6 1474.3,286.0 1476.3,271.5 1459.8,249.7 1450.3,240.0 1441.1,230.0 1435.8,218.4 1419.2,201.8 1400.5,172.8 1388.0,159.3 1383.9,150.0 1369.4,127.1 1352.8,102.2 1336.2,77.3 1321.7,58.7 1313.4,47.3" fill="#857a7a" stroke="none" clip-path="url(#cdB)"/>
<polyline points="1249.0,46.2 1252.4,49.7 1255.2,53.1 1257.3,56.6 1259.1,59.9 1261.5,63.1 1264.9,66.4 1267.1,69.6 1269.4,72.9 1271.3,76.1 1273.9,79.4 1276.1,82.5 1278.2,85.6 1280.2,88.7 1281.7,91.8 1284.2,95.0 1286.2,98.1 1288.7,101.2 1290.5,104.3 1293.6,107.6 1295.9,110.8 1297.7,114.1 1299.9,117.3 1302.0,120.6 1304.1,123.8 1307.1,127.1 1308.5,130.4 1311.2,133.7 1313.1,137.1 1315.3,140.4 1317.5,143.7 1319.1,146.8 1319.6,149.9 1320.7,153.1 1321.7,156.2 1324.4,159.3 1327.9,162.4 1330.3,165.5 1333.9,168.7 1336.7,171.8 1340.3,174.9 1342.0,178.3 1344.5,181.8 1345.7,185.2 1346.8,188.7 1349.5,192.2 1350.7,195.6 1352.2,198.7 1352.8,201.8 1353.8,205.3 1354.8,208.7 1354.9,212.2 1354.2,215.3 1352.8,218.4 1354.2,222.1 1354.6,225.7 1356.5,229.3 1356.9,233.0 1360.2,236.2 1360.5,239.3 1359.0,242.4 1359.4,245.5 1359.0,248.7 1358.2,251.8 1357.9,254.9 1357.5,258.0 1357.1,261.1 1359.0,264.2 1359.7,267.4 1361.4,270.5 1362.2,273.6 1365.1,274.2 1369.0,274.8 1372.1,275.4 1374.6,276.0 1377.9,276.6 1381.5,277.2 1384.3,277.8 1387.1,278.3 1389.8,278.9 1393.1,279.5 1396.7,280.1 1399.1,280.7 1403.3,281.3 1405.8,281.9 1406.7,285.2 1408.7,288.4 1409.1,291.7 1411.2,294.9 1412.0,298.2 1412.9,301.4 1414.1,304.7 1417.7,307.3 1421.6,309.9 1425.1,312.5 1428.6,315.1 1430.4,319.2 1432.8,323.4 1433.8,326.7 1435.6,330.0 1437.6,333.2 1438.5,336.5 1439.1,339.8 1441.1,343.1 1444.9,343.6 1448.1,344.1 1451.8,344.6 1454.1,345.1 1458.3,345.7 1460.7,346.2 1464.9,346.7 1468.0,347.2 1471.1,350.3 1474.6,353.5 1478.4,356.6 1480.7,359.7 1481.3,362.8 1483.6,365.9 1485.8,369.0 1486.7,372.1 1488.8,375.2 1491.7,377.7 1496.0,380.2 1498.7,382.7 1502.4,385.2 1505.4,387.7 1505.8,390.8 1507.5,393.9 1504.2,397.0 1501.2,400.1 1501.4,403.6 1502.8,407.0 1503.3,410.5 1499.6,411.5 1497.7,412.6 1493.3,413.6 1490.9,414.6 1488.1,415.9 1484.0,417.2 1481.2,418.5 1478.4,419.8 1482.0,421.9 1484.3,424.1 1487.9,426.2 1483.8,428.3 1480.9,430.4 1476.9,432.4 1473.4,434.5 1475.9,435.4 1480.3,436.4 1482.2,437.4 1485.2,438.3 1488.7,439.2 1492.2,440.2 1495.5,441.1 1497.7,442.1 1501.1,443.0 1503.8,444.0 1507.5,444.9 1510.7,445.9 1507.8,448.2 1504.4,450.5 1501.3,452.7 1497.8,455.0 1494.1,457.3 1496.2,460.9 1497.5,464.6 1498.7,468.2 1500.3,471.9 1496.7,472.9 1494.1,473.8 1490.5,474.8 1487.0,475.7 1484.3,476.7 1481.7,477.6 1477.4,478.6 1474.9,479.5 1471.4,480.5 1468.4,481.4 1464.7,482.4 1462.6,483.3 1458.8,484.3 1461.6,485.9 1465.2,487.4 1468.1,488.9 1471.3,490.5 1468.5,494.6 1467.1,498.8 1470.5,500.9 1473.2,503.0 1476.4,505.0 1479.7,507.1 1483.7,509.2 1484.8,512.7 1486.3,516.1 1488.6,519.6 1490.0,523.1 1492.2,526.5 1493.1,530.0 1490.6,532.8 1487.5,535.5 1483.7,538.3 1487.0,539.8 1490.9,541.4 1494.3,543.0 1498.3,544.5 1501.8,545.1 1505.2,545.8 1508.8,546.5 1512.0,547.1 1514.8,547.8 1518.4,548.4 1521.9,549.1 1525.2,549.7 1527.6,550.1 1530.8,550.4 1534.4,550.8 1537.1,551.2 1541.1,551.6 1543.5,551.9 1546.4,552.3 1549.7,552.7 1552.9,553.0 1555.9,553.4 1559.5,553.8 1562.5,554.2 1565.4,554.5 1568.8,554.9 1567.4,558.0 1565.3,561.1 1564.7,564.2 1562.6,567.3 1559.8,569.7 1556.0,572.1 1552.1,574.5 1548.7,577.0 1545.4,579.4 1541.8,581.8 1539.1,585.5 1537.7,589.1 1540.7,589.8 1544.0,590.4 1546.6,591.0 1549.6,591.7 1553.7,592.4 1556.2,593.0 1559.5,593.6 1562.6,594.3 1566.3,598.5 1568.8,602.6 1565.5,603.3 1561.6,603.9 1558.4,604.6 1562.2,605.0 1564.5,605.3 1567.1,605.7 1571.2,606.1 1573.5,606.5 1577.0,606.8 1580.9,607.2 1583.8,607.6 1586.0,607.9 1589.8,608.3 1590.8,611.4 1591.7,614.5 1592.9,617.6 1593.5,620.8 1595.1,623.9 1596.0,627.0 1596.5,630.6 1597.8,634.2 1599.0,637.9 1600.2,641.5 1598.2,645.1 1595.0,648.8 1597.7,650.3 1601.9,651.9 1604.4,653.5 1608.2,655.0 1611.3,656.5 1614.7,658.1 1618.0,661.4 1621.7,664.7 1624.5,668.1 1627.5,671.4 1631.3,674.7 1631.8,677.8 1632.8,680.9 1634.9,684.0 1635.4,687.1 1639.7,691.2 1643.7,695.4 1645.8,698.5 1649.9,699.6 1653.0,700.6 1656.2,701.7 1658.6,703.2 1662.6,704.8 1665.9,706.4 1668.6,707.9 1672.0,708.1 1674.8,708.4 1677.8,708.6 1681.1,708.9 1682.4,712.7 1684.3,716.5 1685.2,720.3 1685.6,723.8 1686.6,727.2 1687.3,730.7 1688.6,734.2 1689.1,737.6 1689.4,741.1 1693.4,746.2 1697.4,749.7 1700.7,753.1 1703.7,756.6 1705.5,760.8 1707.9,764.9 1710.6,767.0 1714.1,769.0 1711.0,772.1 1707.9,775.3 1712.0,779.4 1715.8,780.5 1720.3,781.5 1724.3,785.6 1728.6,789.8 1730.5,793.1 1732.5,796.4 1733.7,799.8 1735.7,803.1 1736.9,806.4 1737.0,809.7 1737.9,813.0 1739.5,816.4 1738.9,819.7 1740.0,823.0 1740.7,826.1 1741.0,829.2 1741.8,832.3 1743.2,835.4 1744.2,838.7 1744.7,842.0 1744.6,845.4 1744.3,848.7 1745.2,852.0 1748.4,852.0 1751.8,852.0 1755.8,852.0 1759.3,852.0 1762.4,852.0 1766.0,852.0" fill="none" stroke="#1e8a1e" stroke-width="2.6" stroke-linejoin="round"/>
<polyline points="1383.8,45.5 1390.5,55.5 1397.1,65.3 1403.5,74.9 1409.7,84.3 1415.8,93.6 1421.6,102.7 1427.4,111.6 1432.9,120.4 1438.4,129.1 1443.6,137.5 1448.8,145.9 1453.8,154.1 1458.7,162.2 1463.4,170.1 1468.1,177.9 1472.6,185.6 1477.0,193.2 1481.3,200.7 1485.6,208.1 1489.7,215.4 1493.7,222.5 1497.6,229.6 1501.5,236.5 1505.3,243.4 1508.9,250.2 1512.5,256.9 1516.1,263.5 1519.5,270.0 1522.9,276.4 1526.2,282.8 1529.5,289.0 1532.7,295.2 1535.8,301.3 1538.9,307.4 1541.9,313.4 1544.9,319.3 1547.8,325.1 1550.7,330.9 1553.5,336.6 1556.3,342.2 1559.0,347.8 1561.7,353.3 1564.3,358.8 1566.9,364.2 1569.5,369.5 1572.0,374.8 1574.4,380.0 1576.9,385.2 1579.3,390.3 1581.6,395.4 1584.0,400.4 1586.3,405.4 1588.5,410.3 1590.8,415.2 1593.0,420.0 1595.1,424.8 1597.3,429.6 1599.4,434.3 1601.5,438.9 1603.6,443.5 1605.6,448.1 1607.6,452.6 1609.6,457.1 1611.6,461.5 1613.5,466.0 1615.4,470.3 1617.3,474.7 1619.2,479.0 1621.0,483.2 1622.9,487.4 1624.7,491.6 1626.5,495.8 1628.2,499.9 1630.0,504.0 1631.7,508.0 1633.4,512.1 1635.1,516.1 1636.8,520.0 1638.5,523.9 1640.1,527.8 1641.7,531.7 1643.4,535.5 1645.0,539.4 1646.5,543.1 1648.1,546.9 1649.7,550.6 1651.2,554.3 1652.7,558.0 1654.2,561.6 1655.7,565.3 1657.2,568.8 1658.7,572.4 1660.1,576.0 1661.6,579.5 1663.0,583.0 1664.4,586.4 1665.8,589.9 1667.2,593.3 1668.6,596.7 1669.9,600.1 1671.3,603.4 1672.7,606.8 1674.0,610.1 1675.3,613.4 1676.6,616.6 1677.9,619.9 1679.2,623.1 1680.5,626.3 1681.8,629.5 1683.0,632.7 1684.3,635.8 1685.5,638.9 1686.8,642.0 1688.0,645.1 1689.2,648.2 1690.4,651.2 1691.6,654.3 1692.8,657.3 1694.0,660.3 1695.2,663.3 1696.4,666.2 1697.5,669.2 1698.7,672.1 1699.8,675.0 1700.9,677.9 1702.1,680.8 1703.2,683.6 1704.3,686.5 1705.4,689.3 1706.5,692.1 1707.6,694.9 1708.7,697.7 1709.8,700.5 1710.8,703.2 1711.9,705.9 1712.9,708.7 1714.0,711.4 1715.0,714.1 1716.1,716.7 1717.1,719.4 1718.1,722.1 1719.1,724.7 1720.2,727.3 1721.2,729.9 1722.2,732.5 1723.2,735.1 1724.1,737.7 1725.1,740.2 1726.1,742.8 1726.6,744.0 1734.0,754.5 1739.0,764.9 1744.2,774.2 1749.4,789.8 1757.7,804.3 1761.8,817.8" fill="none" stroke="#b8281a" stroke-width="2.4" stroke-linejoin="round"/>
<polyline points="1313.4,47.3 1315.4,51.1 1319.7,54.9 1321.7,58.7 1324.7,61.8 1326.0,64.9 1328.9,68.0 1331.3,71.1 1334.1,74.2 1336.2,77.3 1338.9,80.4 1339.5,83.5 1341.4,86.6 1345.2,89.8 1346.4,92.9 1349.2,96.0 1349.6,99.1 1352.8,102.2 1354.8,105.3 1357.4,108.4 1358.4,111.5 1362.1,114.7 1364.1,117.8 1364.2,120.9 1366.3,124.0 1369.4,127.1 1371.6,130.4 1374.5,133.6 1375.4,136.9 1377.1,140.2 1379.6,143.5 1380.8,146.7 1383.9,150.0 1384.7,153.1 1386.5,156.2 1388.0,159.3 1391.1,162.7 1393.7,166.1 1396.8,169.4 1400.5,172.8 1402.0,176.0 1404.6,179.2 1406.3,182.5 1407.8,185.7 1411.6,188.9 1413.1,192.1 1415.4,195.4 1416.4,198.6 1419.2,201.8 1423.6,205.1 1426.6,208.4 1428.3,211.8 1432.1,215.1 1435.8,218.4 1438.1,222.3 1439.8,226.1 1441.1,230.0 1445.1,233.3 1447.1,236.7 1450.3,240.0 1454.2,243.2 1457.0,246.5 1459.8,249.7 1461.7,252.8 1464.7,255.9 1467.7,259.0 1470.0,262.2 1471.6,265.3 1474.1,268.4 1476.3,271.5 1474.8,275.1 1474.7,278.8 1475.5,282.4 1474.3,286.0 1476.6,289.3 1478.5,292.6 1481.8,296.0 1484.7,299.3 1486.7,302.6 1489.2,306.2 1490.6,309.9 1492.8,313.5 1495.0,317.1 1496.4,320.6 1498.4,324.0 1499.2,327.5 1500.8,331.1 1502.1,334.8 1503.8,338.4 1505.4,342.0 1504.4,346.1 1505.4,350.3 1506.5,353.6 1510.0,356.9 1512.7,360.3 1513.9,363.6 1515.8,366.9 1516.4,370.2 1516.7,373.5 1518.3,376.9 1520.1,380.2 1519.9,383.5 1521.8,386.6 1522.6,389.8 1524.6,392.9 1525.1,396.0 1527.4,399.1 1530.8,402.2 1534.6,405.3 1536.5,408.4 1538.4,411.5 1539.9,414.6 1541.2,417.8 1543.5,420.9 1546.2,424.0 1546.9,427.1 1552.2,432.4 1552.7,436.0 1555.9,439.7 1557.6,443.4 1558.4,447.0 1561.3,450.1 1563.1,453.2 1565.3,456.3 1566.7,459.4 1569.9,463.0 1573.1,466.6 1575.9,470.3 1579.2,473.9 1580.3,477.0 1584.1,480.1 1585.6,483.2 1586.8,486.4 1589.5,489.5 1591.6,492.6 1594.2,496.8 1596.8,500.9 1598.0,505.0 1599.9,509.2 1602.7,513.4 1606.1,517.5 1607.1,520.5 1608.2,523.5 1609.1,526.5 1609.7,529.5 1609.7,532.5 1611.0,535.5 1611.8,538.5 1613.7,541.5 1614.4,544.5 1615.6,548.0 1615.8,551.4 1615.5,554.9 1617.5,558.0 1618.8,561.1 1618.9,564.2 1620.7,567.3 1624.2,570.8 1626.6,574.2 1629.0,577.7 1630.7,581.3 1633.1,585.0 1635.7,588.6 1639.3,592.2 1641.4,596.4 1642.4,600.5 1644.6,604.4 1647.9,608.3 1647.9,611.6 1649.7,615.0 1652.1,618.3 1653.7,621.6 1656.2,624.9 1657.3,628.4 1659.6,631.8 1662.5,635.2 1663.7,638.7 1666.0,642.1 1668.6,645.6 1670.7,648.6 1671.7,651.6 1673.1,654.6 1675.0,657.6 1675.7,660.6 1678.1,663.6 1679.8,666.6 1680.9,669.6 1683.2,672.6 1683.3,675.7 1685.2,678.8 1689.2,681.4 1691.5,684.0 1693.9,686.6 1697.7,689.2 1699.0,692.3 1700.4,695.5 1699.7,698.6 1701.8,701.7 1700.2,705.9 1700.8,710.0 1701.8,713.4 1704.7,716.9 1706.0,720.3 1708.2,723.6 1712.3,726.9 1715.1,730.3 1717.7,733.6 1720.5,736.9 1724.0,741.0 1728.8,745.2 1731.6,748.3 1732.9,751.4 1734.0,754.5 1735.7,758.0 1736.7,761.4 1739.0,764.9 1741.1,768.0 1742.2,771.1 1744.2,774.2 1745.4,777.3 1745.9,780.4 1747.6,783.6 1747.4,786.7 1749.4,789.8 1751.0,793.4 1754.6,797.0 1756.5,800.7 1757.7,804.3 1758.3,807.7 1760.5,811.0 1760.4,814.4 1761.8,817.8 1763.8,821.2 1764.4,824.5 1764.8,827.9 1766.0,831.3 1768.2,834.8 1770.5,838.2 1774.3,841.7 1778.6,845.1 1780.2,848.6 1784.6,852.0" fill="none" stroke="#2323e0" stroke-width="2.8" stroke-linejoin="round"/>
<rect x="1310.4" y="43.8" width="6" height="7" fill="#2323e0"/>
<rect x="1385.0" y="155.8" width="6" height="7" fill="#2323e0"/>
<rect x="1456.8" y="246.2" width="6" height="7" fill="#2323e0"/>
<rect x="1522.1" y="392.5" width="6" height="7" fill="#2323e0"/>
<rect x="1596.9" y="505.7" width="6" height="7" fill="#2323e0"/>
<rect x="1639.4" y="597.0" width="6" height="7" fill="#2323e0"/>
<rect x="1682.2" y="675.3" width="6" height="7" fill="#2323e0"/>
<rect x="1741.4" y="772.8" width="6" height="7" fill="#2323e0"/>
<rect x="1758.8" y="814.3" width="6" height="7" fill="#2323e0"/>
<text x="1323.0" y="64.5" font-size="20.8" fill="#5b45c8" textLength="20.0" lengthAdjust="spacingAndGlyphs" stroke="#5b45c8" stroke-width="0.20">-46</text>
<text x="1399.8" y="176.6" font-size="20.8" fill="#5b45c8" textLength="15.8" lengthAdjust="spacingAndGlyphs" stroke="#5b45c8" stroke-width="0.20">33</text>
<text x="1471.3" y="268.0" font-size="20.8" fill="#5b45c8" textLength="17.1" lengthAdjust="spacingAndGlyphs" stroke="#5b45c8" stroke-width="0.20">22</text>
<text x="1537.9" y="414.2" font-size="20.8" fill="#5b45c8" textLength="14.7" lengthAdjust="spacingAndGlyphs" stroke="#5b45c8" stroke-width="0.20">11</text>
<text x="1605.4" y="525.6" font-size="18.6" fill="#5b45c8" textLength="5.2" lengthAdjust="spacingAndGlyphs" stroke="#5b45c8" stroke-width="0.20">1</text>
<text x="1649.4" y="616.6" font-size="18.6" fill="#5b45c8" textLength="7.7" lengthAdjust="spacingAndGlyphs" stroke="#5b45c8" stroke-width="0.20">8</text>
<text x="1694.4" y="695.0" font-size="19.2" fill="#5b45c8" textLength="14.2" lengthAdjust="spacingAndGlyphs" stroke="#5b45c8" stroke-width="0.20">13</text>
<text x="1751.8" y="794.6" font-size="22.3" fill="#5b45c8" textLength="15.9" lengthAdjust="spacingAndGlyphs" stroke="#5b45c8" stroke-width="0.20">24</text>
<text x="1768.3" y="837.1" font-size="22.1" fill="#5b45c8" textLength="16.0" lengthAdjust="spacingAndGlyphs" stroke="#5b45c8" stroke-width="0.20">27</text>
<line x1="1048.5" y1="497.8" x2="1897.0" y2="497.8" stroke="#111" stroke-width="3.2"/>
<line x1="1048.5" y1="591.6" x2="1897.0" y2="591.6" stroke="#111" stroke-width="3.2"/>
</g>
<line x1="1048.5" y1="308.3" x2="1076.3" y2="308.3" stroke="#111" stroke-width="3.2"/>
<text x="1068.9" y="326.9" font-size="19.2" fill="#111" textLength="24.6" lengthAdjust="spacingAndGlyphs" stroke="#111" stroke-width="0.30">9km</text>
<line x1="1048.5" y1="501.7" x2="1076.3" y2="501.7" stroke="#111" stroke-width="3.2"/>
<text x="1068.9" y="520.3" font-size="19.2" fill="#111" textLength="24.6" lengthAdjust="spacingAndGlyphs" stroke="#111" stroke-width="0.30">6km</text>
<line x1="1048.5" y1="685.7" x2="1076.3" y2="685.7" stroke="#111" stroke-width="3.2"/>
<text x="1068.9" y="704.3" font-size="19.2" fill="#111" textLength="24.6" lengthAdjust="spacingAndGlyphs" stroke="#111" stroke-width="0.30">3km</text>
<line x1="1048.5" y1="743.9" x2="1076.3" y2="743.9" stroke="#111" stroke-width="3.2"/>
<text x="1068.9" y="762.5" font-size="19.2" fill="#111" textLength="24.6" lengthAdjust="spacingAndGlyphs" stroke="#111" stroke-width="0.30">2km</text>
<line x1="1048.5" y1="802.1" x2="1076.3" y2="802.1" stroke="#111" stroke-width="3.2"/>
<text x="1068.9" y="820.7" font-size="19.2" fill="#111" textLength="24.6" lengthAdjust="spacingAndGlyphs" stroke="#111" stroke-width="0.30">1km</text>
<line x1="1048.5" y1="851.2" x2="1076.3" y2="851.2" stroke="#111" stroke-width="3.2"/>
<text x="1070.0" y="869.8" font-size="17.2" fill="#222" textLength="6.6" lengthAdjust="spacingAndGlyphs">S</text>
<text x="1090.3" y="712.2" font-size="22.3" fill="#dc4646" textLength="74.4" lengthAdjust="spacingAndGlyphs" stroke="#dc4646" stroke-width="0.55">CAPE=4272</text>
<text x="1090.4" y="743.6" font-size="20.0" fill="#f1cc6a" textLength="60.7" lengthAdjust="spacingAndGlyphs" stroke="#f1cc6a" stroke-width="0.55">CIN=23.8</text>
<text x="1090.3" y="776.6" font-size="21.4" fill="#f6cb98" textLength="51.6" lengthAdjust="spacingAndGlyphs" stroke="#f6cb98" stroke-width="0.55">BLI=-2.2</text>
<text x="1090.4" y="809.6" font-size="20.0" fill="#f2c266" textLength="45.9" lengthAdjust="spacingAndGlyphs" stroke="#f2c266" stroke-width="0.55">K=33.6</text>
<text x="1090.3" y="842.4" font-size="21.1" fill="#3a3a3a" textLength="47.0" lengthAdjust="spacingAndGlyphs" stroke="#3a3a3a" stroke-width="0.55">SI=0.36</text>
<rect x="1781.5" y="45.5" width="115.5" height="101.0" fill="#fff" stroke="#8a34c9" stroke-width="3.6"/>
<text x="1785.9" y="73.4" font-size="24.7" fill="#e02828" textLength="102.2" lengthAdjust="spacingAndGlyphs" font-weight="bold" stroke="#e02828" stroke-width="0.60">温度对数压力图</text>
<text x="1790.9" y="111.2" font-size="19.8" fill="#e04848" textLength="94.6" lengthAdjust="spacingAndGlyphs" stroke="#e04848" stroke-width="0.25">测站: 郑州(57083)</text>
<text x="1787.5" y="136.4" font-size="17.5" fill="#b32323" textLength="101.3" lengthAdjust="spacingAndGlyphs" stroke="#b32323" stroke-width="0.25">22年08月08日08时</text>
<rect x="1048.5" y="45.5" width="848.5" height="841.5" fill="none" stroke="#8a34c9" stroke-width="3.8"/>
<text x="1037.8" y="36.2" font-size="19.7" fill="#7655ab" textLength="21.4" lengthAdjust="spacingAndGlyphs" stroke="#7655ab" stroke-width="0.65">-90</text>
<text x="1037.8" y="922.4" font-size="19.7" fill="#7655ab" textLength="21.4" lengthAdjust="spacingAndGlyphs" stroke="#7655ab" stroke-width="0.65">-90</text>
<text x="1098.4" y="36.2" font-size="19.7" fill="#7655ab" textLength="21.4" lengthAdjust="spacingAndGlyphs" stroke="#7655ab" stroke-width="0.65">-80</text>
<text x="1098.4" y="922.4" font-size="19.7" fill="#7655ab" textLength="21.4" lengthAdjust="spacingAndGlyphs" stroke="#7655ab" stroke-width="0.65">-80</text>
<text x="1159.0" y="36.2" font-size="19.7" fill="#7655ab" textLength="21.4" lengthAdjust="spacingAndGlyphs" stroke="#7655ab" stroke-width="0.65">-70</text>
<text x="1159.0" y="922.4" font-size="19.7" fill="#7655ab" textLength="21.4" lengthAdjust="spacingAndGlyphs" stroke="#7655ab" stroke-width="0.65">-70</text>
<text x="1219.6" y="36.2" font-size="19.7" fill="#7655ab" textLength="21.4" lengthAdjust="spacingAndGlyphs" stroke="#7655ab" stroke-width="0.65">-60</text>
<text x="1219.6" y="922.4" font-size="19.7" fill="#7655ab" textLength="21.4" lengthAdjust="spacingAndGlyphs" stroke="#7655ab" stroke-width="0.65">-60</text>
<text x="1280.2" y="36.2" font-size="19.7" fill="#7655ab" textLength="21.4" lengthAdjust="spacingAndGlyphs" stroke="#7655ab" stroke-width="0.65">-50</text>
<text x="1280.2" y="922.4" font-size="19.7" fill="#7655ab" textLength="21.4" lengthAdjust="spacingAndGlyphs" stroke="#7655ab" stroke-width="0.65">-50</text>
<text x="1340.8" y="36.2" font-size="19.7" fill="#7655ab" textLength="21.4" lengthAdjust="spacingAndGlyphs" stroke="#7655ab" stroke-width="0.65">-40</text>
<text x="1340.8" y="922.4" font-size="19.7" fill="#7655ab" textLength="21.4" lengthAdjust="spacingAndGlyphs" stroke="#7655ab" stroke-width="0.65">-40</text>
<text x="1401.4" y="36.2" font-size="19.7" fill="#7655ab" textLength="21.4" lengthAdjust="spacingAndGlyphs" stroke="#7655ab" stroke-width="0.65">-30</text>
<text x="1401.4" y="922.4" font-size="19.7" fill="#7655ab" textLength="21.4" lengthAdjust="spacingAndGlyphs" stroke="#7655ab" stroke-width="0.65">-30</text>
<text x="1462.0" y="36.2" font-size="19.7" fill="#7655ab" textLength="21.4" lengthAdjust="spacingAndGlyphs" stroke="#7655ab" stroke-width="0.65">-20</text>
<text x="1462.0" y="922.4" font-size="19.7" fill="#7655ab" textLength="21.4" lengthAdjust="spacingAndGlyphs" stroke="#7655ab" stroke-width="0.65">-20</text>
<text x="1522.6" y="36.2" font-size="19.7" fill="#7655ab" textLength="21.4" lengthAdjust="spacingAndGlyphs" stroke="#7655ab" stroke-width="0.65">-10</text>
<text x="1522.6" y="922.4" font-size="19.7" fill="#7655ab" textLength="21.4" lengthAdjust="spacingAndGlyphs" stroke="#7655ab" stroke-width="0.65">-10</text>
<text x="1589.6" y="36.2" font-size="19.7" fill="#7655ab" textLength="8.7" lengthAdjust="spacingAndGlyphs" stroke="#7655ab" stroke-width="0.65">0</text>
<text x="1589.6" y="922.4" font-size="19.7" fill="#7655ab" textLength="8.7" lengthAdjust="spacingAndGlyphs" stroke="#7655ab" stroke-width="0.65">0</text>
<text x="1646.6" y="36.2" font-size="19.7" fill="#7655ab" textLength="16.0" lengthAdjust="spacingAndGlyphs" stroke="#7655ab" stroke-width="0.65">10</text>
<text x="1646.6" y="922.4" font-size="19.7" fill="#7655ab" textLength="16.0" lengthAdjust="spacingAndGlyphs" stroke="#7655ab" stroke-width="0.65">10</text>
<text x="1707.2" y="36.2" font-size="19.7" fill="#7655ab" textLength="16.0" lengthAdjust="spacingAndGlyphs" stroke="#7655ab" stroke-width="0.65">20</text>
<text x="1707.2" y="922.4" font-size="19.7" fill="#7655ab" textLength="16.0" lengthAdjust="spacingAndGlyphs" stroke="#7655ab" stroke-width="0.65">20</text>
<text x="1767.8" y="36.2" font-size="19.7" fill="#7655ab" textLength="16.0" lengthAdjust="spacingAndGlyphs" stroke="#7655ab" stroke-width="0.65">30</text>
<text x="1767.8" y="922.4" font-size="19.7" fill="#7655ab" textLength="16.0" lengthAdjust="spacingAndGlyphs" stroke="#7655ab" stroke-width="0.65">30</text>
<text x="1828.4" y="36.2" font-size="19.7" fill="#7655ab" textLength="16.0" lengthAdjust="spacingAndGlyphs" stroke="#7655ab" stroke-width="0.65">40</text>
<text x="1828.4" y="922.4" font-size="19.7" fill="#7655ab" textLength="16.0" lengthAdjust="spacingAndGlyphs" stroke="#7655ab" stroke-width="0.65">40</text>
<text x="1889.0" y="36.2" font-size="19.7" fill="#7655ab" textLength="16.0" lengthAdjust="spacingAndGlyphs" stroke="#7655ab" stroke-width="0.65">50</text>
<text x="1889.0" y="922.4" font-size="19.7" fill="#7655ab" textLength="16.0" lengthAdjust="spacingAndGlyphs" stroke="#7655ab" stroke-width="0.65">50</text>
<clipPath id="lcB"><rect x="1030.0" y="0" width="100" height="964"/></clipPath>
<g clip-path="url(#lcB)">
<text x="1013.3" y="20.4" font-size="23.0" fill="#7655ab" textLength="22.4" lengthAdjust="spacingAndGlyphs" stroke="#7655ab" stroke-width="0.20">hPa</text>
<text x="1017.5" y="53.7" font-size="20.3" fill="#7655ab" textLength="23.7" lengthAdjust="spacingAndGlyphs" stroke="#7655ab" stroke-width="0.65">200</text>
<text x="1017.5" y="166.3" font-size="20.3" fill="#7655ab" textLength="23.7" lengthAdjust="spacingAndGlyphs" stroke="#7655ab" stroke-width="0.65">250</text>
<text x="1017.5" y="258.4" font-size="20.3" fill="#7655ab" textLength="23.7" lengthAdjust="spacingAndGlyphs" stroke="#7655ab" stroke-width="0.65">300</text>
<text x="1017.5" y="403.6" font-size="20.3" fill="#7655ab" textLength="23.7" lengthAdjust="spacingAndGlyphs" stroke="#7655ab" stroke-width="0.65">400</text>
<text x="1017.5" y="516.2" font-size="20.3" fill="#7655ab" textLength="23.7" lengthAdjust="spacingAndGlyphs" stroke="#7655ab" stroke-width="0.65">500</text>
<text x="1017.5" y="608.3" font-size="20.3" fill="#7655ab" textLength="23.7" lengthAdjust="spacingAndGlyphs" stroke="#7655ab" stroke-width="0.65">600</text>
<text x="1017.5" y="686.1" font-size="20.3" fill="#7655ab" textLength="23.7" lengthAdjust="spacingAndGlyphs" stroke="#7655ab" stroke-width="0.65">700</text>
<text x="1017.5" y="784.1" font-size="20.3" fill="#7655ab" textLength="23.7" lengthAdjust="spacingAndGlyphs" stroke="#7655ab" stroke-width="0.65">850</text>
<text x="1017.5" y="826.8" font-size="20.3" fill="#7655ab" textLength="23.7" lengthAdjust="spacingAndGlyphs" stroke="#7655ab" stroke-width="0.65">925</text>
<text x="1010.7" y="866.1" font-size="20.3" fill="#7655ab" textLength="30.5" lengthAdjust="spacingAndGlyphs" stroke="#7655ab" stroke-width="0.65">1000</text>
</g>
<text x="1903.4" y="53.7" font-size="20.3" fill="#7655ab" textLength="24.6" lengthAdjust="spacingAndGlyphs" stroke="#7655ab" stroke-width="0.65">200</text>
<text x="1903.4" y="166.3" font-size="20.3" fill="#7655ab" textLength="24.6" lengthAdjust="spacingAndGlyphs" stroke="#7655ab" stroke-width="0.65">250</text>
<text x="1903.4" y="258.4" font-size="20.3" fill="#7655ab" textLength="24.6" lengthAdjust="spacingAndGlyphs" stroke="#7655ab" stroke-width="0.65">300</text>
<text x="1903.4" y="403.6" font-size="20.3" fill="#7655ab" textLength="24.6" lengthAdjust="spacingAndGlyphs" stroke="#7655ab" stroke-width="0.65">400</text>
<text x="1903.4" y="516.2" font-size="20.3" fill="#7655ab" textLength="24.6" lengthAdjust="spacingAndGlyphs" stroke="#7655ab" stroke-width="0.65">500</text>
<text x="1903.4" y="608.3" font-size="20.3" fill="#7655ab" textLength="24.6" lengthAdjust="spacingAndGlyphs" stroke="#7655ab" stroke-width="0.65">600</text>
<text x="1903.4" y="686.1" font-size="20.3" fill="#7655ab" textLength="24.6" lengthAdjust="spacingAndGlyphs" stroke="#7655ab" stroke-width="0.65">700</text>
<text x="1903.4" y="784.1" font-size="20.3" fill="#7655ab" textLength="24.6" lengthAdjust="spacingAndGlyphs" stroke="#7655ab" stroke-width="0.65">850</text>
<text x="1903.4" y="826.8" font-size="20.3" fill="#7655ab" textLength="24.6" lengthAdjust="spacingAndGlyphs" stroke="#7655ab" stroke-width="0.65">925</text>
<text x="1903.4" y="866.1" font-size="20.3" fill="#7655ab" textLength="31.3" lengthAdjust="spacingAndGlyphs" stroke="#7655ab" stroke-width="0.65">1000</text>
<text x="1917.8" y="922.0" font-size="22.7" fill="#7655ab" textLength="16.9" lengthAdjust="spacingAndGlyphs" stroke="#7655ab" stroke-width="0.65">°C</text>
<text x="1806.9" y="198.8" font-size="21.7" fill="#4d6cae" textLength="33.4" lengthAdjust="spacingAndGlyphs" stroke="#4d6cae" stroke-width="0.15">-30°C</text>
<line x1="1841.0" y1="190.0" x2="1868.7" y2="190.0" stroke="#4563b8" stroke-width="2.8"/>
<text x="1806.9" y="276.2" font-size="20.8" fill="#4d6cae" textLength="33.3" lengthAdjust="spacingAndGlyphs" stroke="#4d6cae" stroke-width="0.15">-20°C</text>
<line x1="1841.0" y1="266.5" x2="1868.7" y2="266.5" stroke="#4563b8" stroke-width="2.8"/>
<text x="1806.9" y="412.1" font-size="21.4" fill="#4d6cae" textLength="33.3" lengthAdjust="spacingAndGlyphs" stroke="#4d6cae" stroke-width="0.15">-10°C</text>
<line x1="1841.0" y1="404.0" x2="1868.7" y2="404.0" stroke="#4563b8" stroke-width="2.8"/>
<text x="1817.3" y="493.9" font-size="21.1" fill="#4d6cae" textLength="23.0" lengthAdjust="spacingAndGlyphs" stroke="#4d6cae" stroke-width="0.15">0°C</text>
<text x="1812.4" y="585.2" font-size="19.2" fill="#4d6cae" textLength="27.9" lengthAdjust="spacingAndGlyphs" stroke="#4d6cae" stroke-width="0.15">WBZ</text>
<line x1="1840.7" y1="752.9" x2="1868.7" y2="752.9" stroke="#111" stroke-width="3.2"/>
<text x="1853.4" y="772.6" font-size="20.3" fill="#1a1a1a" textLength="20.1" lengthAdjust="spacingAndGlyphs" stroke="#1a1a1a" stroke-width="0.20">LFC</text>
<line x1="1840.7" y1="811.6" x2="1868.7" y2="811.6" stroke="#111" stroke-width="3.2"/>
<text x="1870.2" y="820.6" font-size="16.5" fill="#1a1a1a" textLength="20.8" lengthAdjust="spacingAndGlyphs" stroke="#1a1a1a" stroke-width="0.20">CCL</text>
<line x1="1840.7" y1="833.0" x2="1868.7" y2="833.0" stroke="#111" stroke-width="3.2"/>
<text x="1854.4" y="853.6" font-size="19.2" fill="#1a1a1a" textLength="18.0" lengthAdjust="spacingAndGlyphs" stroke="#1a1a1a" stroke-width="0.20">LCL</text>
<rect x="1047.9" y="945.6" width="22.6" height="14" fill="#d6eecf" stroke="#6db862" stroke-width="1.4"/>
<text x="1075.4" y="958.3" font-size="19.2" fill="#3b7fd0" textLength="120.3" lengthAdjust="spacingAndGlyphs" stroke="#3b7fd0" stroke-width="0.20">湿层(相对湿度≥80%)</text>
<text x="1046.5" y="99" font-size="35" fill="#000" font-family="Noto Sans CJK SC">（</text>
<text x="1083.0" y="99.5" font-size="31" fill="#000">b</text>
<text x="1105.9" y="99" font-size="35" fill="#000" font-family="Noto Sans CJK SC">）</text>
<line x1="974.5" y1="45" x2="974.5" y2="886.5" stroke="#8a34c9" stroke-width="2.6"/>
<polyline points="974.5,45.8 955.6,20.2" fill="none" stroke="#c878c8" stroke-width="1.3" stroke-linejoin="round" stroke-linecap="round"/>
<polyline points="955.6,20.2 956.2,4.0" fill="none" stroke="#c878c8" stroke-width="1.3" stroke-linejoin="round" stroke-linecap="round"/>
<polyline points="958.6,24.3 959.2,7.0" fill="none" stroke="#c878c8" stroke-width="1.3" stroke-linejoin="round" stroke-linecap="round"/>
<polyline points="961.6,28.4 962.2,11.0" fill="none" stroke="#c878c8" stroke-width="1.3" stroke-linejoin="round" stroke-linecap="round"/>
<polyline points="974.5,156.2 957.0,129.3" fill="none" stroke="#3a48d0" stroke-width="1.3" stroke-linejoin="round" stroke-linecap="round"/>
<polyline points="957.0,129.3 958.0,112.0" fill="none" stroke="#3a48d0" stroke-width="1.3" stroke-linejoin="round" stroke-linecap="round"/>
<polyline points="959.7,133.4 960.7,116.0" fill="none" stroke="#3a48d0" stroke-width="1.3" stroke-linejoin="round" stroke-linecap="round"/>
<polyline points="962.4,137.5 963.4,120.0" fill="none" stroke="#3a48d0" stroke-width="1.3" stroke-linejoin="round" stroke-linecap="round"/>
<polyline points="974.5,245.0 957.5,220.0" fill="none" stroke="#3a48d0" stroke-width="1.3" stroke-linejoin="round" stroke-linecap="round"/>
<polyline points="957.5,220.0 958.5,203.0" fill="none" stroke="#3a48d0" stroke-width="1.3" stroke-linejoin="round" stroke-linecap="round"/>
<polyline points="960.2,224.0 961.2,207.0" fill="none" stroke="#3a48d0" stroke-width="1.3" stroke-linejoin="round" stroke-linecap="round"/>
<polyline points="962.9,228.0 963.9,211.0" fill="none" stroke="#3a48d0" stroke-width="1.3" stroke-linejoin="round" stroke-linecap="round"/>
<polyline points="974.5,393.7 948.9,391.0" fill="none" stroke="#9d94d4" stroke-width="1.3" stroke-linejoin="round" stroke-linecap="round"/>
<polyline points="948.9,391.0 944.8,374.8" fill="none" stroke="#9d94d4" stroke-width="1.3" stroke-linejoin="round" stroke-linecap="round"/>
<polyline points="951.8,391.3 947.5,378.0" fill="none" stroke="#9d94d4" stroke-width="1.3" stroke-linejoin="round" stroke-linecap="round"/>
<polyline points="974.5,503.0 957.0,484.0" fill="none" stroke="#9d94d4" stroke-width="1.3" stroke-linejoin="round" stroke-linecap="round"/>
<polyline points="957.0,484.0 957.5,462.4" fill="none" stroke="#9d94d4" stroke-width="1.3" stroke-linejoin="round" stroke-linecap="round"/>
<polyline points="959.8,487.0 960.3,466.0" fill="none" stroke="#9d94d4" stroke-width="1.3" stroke-linejoin="round" stroke-linecap="round"/>
<polyline points="974.5,598.5 950.2,604.0" fill="none" stroke="#3d9a45" stroke-width="1.3" stroke-linejoin="round" stroke-linecap="round"/>
<polyline points="950.2,604.0 943.5,590.5" fill="none" stroke="#3d9a45" stroke-width="1.3" stroke-linejoin="round" stroke-linecap="round"/>
<polyline points="953.5,603.2 947.0,591.5" fill="none" stroke="#3d9a45" stroke-width="1.3" stroke-linejoin="round" stroke-linecap="round"/>
<polyline points="974.5,678.0 954.7,694.2" fill="none" stroke="#3d9a45" stroke-width="1.3" stroke-linejoin="round" stroke-linecap="round"/>
<polyline points="954.7,694.2 943.0,685.5" fill="none" stroke="#3d9a45" stroke-width="1.3" stroke-linejoin="round" stroke-linecap="round"/>
<polyline points="957.3,692.0 946.0,684.0" fill="none" stroke="#3d9a45" stroke-width="1.3" stroke-linejoin="round" stroke-linecap="round"/>
<polyline points="974.5,774.2 994.0,758.2" fill="none" stroke="#e04858" stroke-width="1.3" stroke-linejoin="round" stroke-linecap="round"/>
<polyline points="994.0,758.2 1007.0,768.4" fill="none" stroke="#e04858" stroke-width="1.3" stroke-linejoin="round" stroke-linecap="round"/>
<polyline points="991.3,760.4 1003.0,770.0" fill="none" stroke="#e04858" stroke-width="1.3" stroke-linejoin="round" stroke-linecap="round"/>
<polyline points="974.5,812.0 986.7,781.5" fill="none" stroke="#e04858" stroke-width="1.3" stroke-linejoin="round" stroke-linecap="round"/>
<polyline points="986.7,781.5 992.5,781.5" fill="none" stroke="#e04858" stroke-width="1.3" stroke-linejoin="round" stroke-linecap="round"/>
<line x1="1965.4" y1="46" x2="1965.4" y2="887" stroke="#8a34c9" stroke-width="2.6"/>
<polyline points="1965.4,46.5 1975.7,12.5" fill="none" stroke="#d060c0" stroke-width="1.6" stroke-linejoin="round" stroke-linecap="round"/>
<polyline points="1975.7,12.5 1988.5,9.5" fill="none" stroke="#d060c0" stroke-width="1.6" stroke-linejoin="round" stroke-linecap="round"/>
<polyline points="1974.6,16.5 1987.5,13.8" fill="none" stroke="#d060c0" stroke-width="1.6" stroke-linejoin="round" stroke-linecap="round"/>
<polyline points="1973.5,20.2 1986.0,18.3" fill="none" stroke="#d060c0" stroke-width="1.6" stroke-linejoin="round" stroke-linecap="round"/>
<polyline points="1972.4,24.5 1977.5,23.8" fill="none" stroke="#d060c0" stroke-width="1.6" stroke-linejoin="round" stroke-linecap="round"/>
<polyline points="1965.4,156.0 1983.5,145.8" fill="none" stroke="#3a48d0" stroke-width="1.3" stroke-linejoin="round" stroke-linecap="round"/>
<polyline points="1983.5,145.8 1996.0,157.0" fill="none" stroke="#3a48d0" stroke-width="1.3" stroke-linejoin="round" stroke-linecap="round"/>
<polyline points="1986.0,144.4 1998.0,155.5" fill="none" stroke="#3a48d0" stroke-width="1.3" stroke-linejoin="round" stroke-linecap="round"/>
<polyline points="1981.0,147.2 1993.0,158.0" fill="none" stroke="#3a48d0" stroke-width="1.3" stroke-linejoin="round" stroke-linecap="round"/>
<polyline points="1965.4,250.5 1942.8,253.4" fill="none" stroke="#3a48d0" stroke-width="1.3" stroke-linejoin="round" stroke-linecap="round"/>
<polyline points="1965.4,390.0 1983.5,372.6" fill="none" stroke="#a89ad8" stroke-width="1.3" stroke-linejoin="round" stroke-linecap="round"/>
<polyline points="1983.5,372.6 1996.6,379.8" fill="none" stroke="#a89ad8" stroke-width="1.3" stroke-linejoin="round" stroke-linecap="round"/>
<polyline points="1966.0,507.8 1989.0,517.8" fill="none" stroke="#7080b0" stroke-width="1.3" stroke-linejoin="round" stroke-linecap="round"/>
<polyline points="1989.0,517.8 1989.5,529.4" fill="none" stroke="#7080b0" stroke-width="1.3" stroke-linejoin="round" stroke-linecap="round"/>
<polyline points="1965.4,599.0 1960.8,638.9" fill="none" stroke="#3a8a70" stroke-width="1.3" stroke-linejoin="round" stroke-linecap="round"/>
<polyline points="1960.8,638.9 1956.5,641.0" fill="none" stroke="#3a8a70" stroke-width="1.3" stroke-linejoin="round" stroke-linecap="round"/>
<polyline points="1965.4,678.7 1960.8,711.9" fill="none" stroke="#3d9a45" stroke-width="1.3" stroke-linejoin="round" stroke-linecap="round"/>
<polyline points="1960.8,711.9 1954.5,713.0" fill="none" stroke="#3d9a45" stroke-width="1.3" stroke-linejoin="round" stroke-linecap="round"/>
<polyline points="1965.4,778.4 1944.4,800.2" fill="none" stroke="#e04858" stroke-width="1.3" stroke-linejoin="round" stroke-linecap="round"/>
<polyline points="1944.4,800.2 1950.0,803.0" fill="none" stroke="#e04858" stroke-width="1.3" stroke-linejoin="round" stroke-linecap="round"/>
<polyline points="1965.4,817.8 1942.3,834.4" fill="none" stroke="#e04858" stroke-width="1.3" stroke-linejoin="round" stroke-linecap="round"/>
<polyline points="1942.3,834.4 1946.0,829.0" fill="none" stroke="#e04858" stroke-width="1.3" stroke-linejoin="round" stroke-linecap="round"/>
<polyline points="1965.4,880.0 1963.0,889.0 1958.0,894.6" fill="none" stroke="#e04858" stroke-width="1.3" stroke-linejoin="round" stroke-linecap="round"/>
</svg>
</body></html>
